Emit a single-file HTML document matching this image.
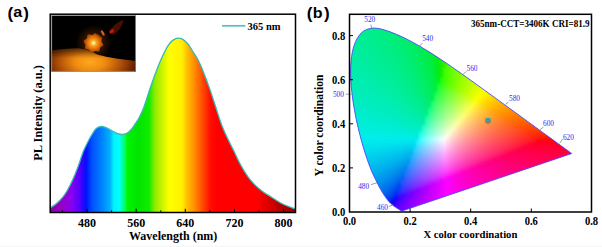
<!DOCTYPE html>
<html><head><meta charset="utf-8"><style>
html,body{margin:0;padding:0;background:#fff;width:602px;height:247px;overflow:hidden}
svg{display:block}
.lab{font-family:"Liberation Sans",sans-serif;font-weight:bold;font-size:16px;fill:#000}
.tk{font-family:"Liberation Serif",serif;font-weight:bold;font-size:12px;fill:#000}
.ax{font-family:"Liberation Serif",serif;font-weight:bold;font-size:12px;fill:#000}
.wl{font-family:"Liberation Serif",serif;font-size:7.3px;fill:#2c2cf0}
.ttl{font-family:"Liberation Serif",serif;font-weight:bold;font-size:10.5px;fill:#000}
</style></head><body>
<svg width="602" height="247" viewBox="0 0 602 247">
<defs>
<linearGradient id="spec" x1="50" y1="0" x2="295.5" y2="0" gradientUnits="userSpaceOnUse"><stop offset="0.0000" stop-color="#8a00a8"/><stop offset="0.0489" stop-color="#9800c8"/><stop offset="0.0896" stop-color="#8800f0"/><stop offset="0.1222" stop-color="#5000ff"/><stop offset="0.1466" stop-color="#0010ff"/><stop offset="0.1711" stop-color="#0050ff"/><stop offset="0.2037" stop-color="#0078ff"/><stop offset="0.2444" stop-color="#00b0ff"/><stop offset="0.2587" stop-color="#00f0ff"/><stop offset="0.2811" stop-color="#00ffff"/><stop offset="0.2933" stop-color="#00ffb0"/><stop offset="0.3055" stop-color="#00ff60"/><stop offset="0.3136" stop-color="#00f400"/><stop offset="0.3585" stop-color="#00e400"/><stop offset="0.4033" stop-color="#10ec00"/><stop offset="0.4277" stop-color="#90ec00"/><stop offset="0.4562" stop-color="#c8f400"/><stop offset="0.4847" stop-color="#ffff00"/><stop offset="0.5377" stop-color="#fff000"/><stop offset="0.5580" stop-color="#ffc000"/><stop offset="0.5866" stop-color="#ff9000"/><stop offset="0.6191" stop-color="#ff5000"/><stop offset="0.6517" stop-color="#ff1000"/><stop offset="0.6762" stop-color="#ff0000"/><stop offset="0.8473" stop-color="#ff0000"/><stop offset="0.8717" stop-color="#e80000"/><stop offset="0.9043" stop-color="#d00000"/><stop offset="0.9450" stop-color="#b00000"/><stop offset="1.0000" stop-color="#900000"/></linearGradient>
<filter id="bl" color-interpolation-filters="sRGB" x="-5%" y="-5%" width="110%" height="110%"><feGaussianBlur stdDeviation="0.9" color-interpolation-filters="sRGB"/></filter>
<clipPath id="cb"><path d="M402.17,210.90 C402.16,210.90 402.15,210.89 402.13,210.90 C402.12,210.90 402.09,210.92 402.07,210.92 C402.05,210.92 402.04,210.92 402.01,210.92 C401.99,210.92 401.95,210.94 401.92,210.94 C401.89,210.95 401.87,210.94 401.83,210.94 C401.80,210.94 401.76,210.94 401.71,210.94 C401.67,210.94 401.62,210.95 401.56,210.94 C401.50,210.93 401.44,210.91 401.35,210.88 C401.26,210.84 401.14,210.79 401.02,210.72 C400.89,210.65 400.76,210.58 400.59,210.48 C400.42,210.38 400.21,210.25 399.99,210.10 C399.76,209.96 399.52,209.79 399.23,209.60 C398.94,209.41 398.63,209.21 398.23,208.96 C397.84,208.71 397.38,208.42 396.87,208.10 C396.36,207.77 395.81,207.44 395.18,206.99 C394.54,206.55 393.84,206.08 393.06,205.45 C392.28,204.82 391.49,204.23 390.49,203.20 C389.49,202.17 388.35,200.98 387.04,199.26 C385.73,197.53 384.31,195.61 382.65,192.86 C381.00,190.11 379.18,186.93 377.12,182.74 C375.06,178.55 372.60,173.71 370.28,167.75 C367.97,161.78 365.51,154.74 363.23,146.95 C360.95,139.16 358.48,129.94 356.61,121.00 C354.73,112.05 352.97,102.18 351.98,93.28 C350.99,84.39 350.39,75.40 350.68,67.62 C350.97,59.83 351.94,52.36 353.70,46.58 C355.47,40.80 358.22,36.03 361.27,32.95 C364.31,29.88 368.18,28.67 371.98,28.15 C375.77,27.63 379.99,28.80 384.05,29.82 C388.10,30.85 392.33,32.66 396.30,34.30 C400.26,35.94 404.08,37.76 407.85,39.66 C411.63,41.55 415.28,43.57 418.95,45.68 C422.63,47.78 426.27,50.01 429.90,52.29 C433.53,54.57 437.13,56.94 440.73,59.35 C444.34,61.75 447.93,64.22 451.53,66.71 C455.14,69.20 458.76,71.75 462.36,74.30 C465.96,76.84 469.55,79.43 473.13,81.99 C476.71,84.56 480.31,87.14 483.84,89.69 C487.37,92.24 490.89,94.79 494.34,97.30 C497.79,99.80 501.20,102.29 504.53,104.70 C507.86,107.12 511.14,109.51 514.30,111.80 C517.46,114.10 520.57,116.34 523.50,118.46 C526.43,120.59 529.27,122.67 531.88,124.57 C534.49,126.47 536.88,128.21 539.17,129.86 C541.45,131.52 543.62,133.10 545.58,134.52 C547.54,135.93 549.30,137.19 550.90,138.35 C552.51,139.52 553.93,140.56 555.23,141.51 C556.53,142.45 557.65,143.27 558.68,144.02 C559.71,144.77 560.60,145.41 561.43,146.00 C562.26,146.60 562.96,147.12 563.64,147.61 C564.32,148.11 564.93,148.55 565.49,148.96 C566.04,149.37 566.54,149.73 567.00,150.06 C567.45,150.39 567.85,150.67 568.21,150.92 C568.56,151.18 568.76,151.33 569.12,151.58 C569.47,151.84 570.02,152.24 570.33,152.47 C570.63,152.69 570.76,152.78 570.93,152.91 C571.10,153.03 571.22,153.12 571.35,153.21 C571.49,153.31 571.68,153.45 571.75,153.50 Z"/></clipPath>
<radialGradient id="led" gradientUnits="userSpaceOnUse" cx="93.5" cy="43" r="10.8">
<stop offset="0" stop-color="#fffff0"/><stop offset="0.1" stop-color="#ffe888"/><stop offset="0.25" stop-color="#ffa828"/><stop offset="0.55" stop-color="#e07408"/><stop offset="0.85" stop-color="#a84400"/><stop offset="1" stop-color="#602000"/>
</radialGradient>
<radialGradient id="glow" gradientUnits="userSpaceOnUse" cx="93.5" cy="43" r="18">
<stop offset="0" stop-color="#602000"/><stop offset="0.6" stop-color="#281000"/><stop offset="1" stop-color="#000"/>
</radialGradient>
<radialGradient id="floor" gradientUnits="userSpaceOnUse" cx="90" cy="62" r="50" gradientTransform="translate(90 62) scale(1 0.55) translate(-90 -62)">
<stop offset="0" stop-color="#ffa820"/><stop offset="0.3" stop-color="#f08c10"/><stop offset="0.6" stop-color="#b45408"/><stop offset="0.85" stop-color="#742800"/><stop offset="1" stop-color="#461600"/>
</radialGradient>
<linearGradient id="fshade" gradientUnits="userSpaceOnUse" x1="0" y1="48" x2="0" y2="58">
<stop offset="0" stop-color="#000" stop-opacity="0.55"/><stop offset="1" stop-color="#000" stop-opacity="0"/>
</linearGradient>
</defs>
<text x="7.5" y="18.6" class="lab" style="font-size:17px">(</text><text x="13.3" y="17.3" class="lab" style="font-size:14px" textLength="9" lengthAdjust="spacingAndGlyphs">a</text><text x="23.3" y="18.6" class="lab" style="font-size:17px">)</text>
<text x="306.7" y="18.6" class="lab" style="font-size:17px">(</text><text x="312.8" y="17.9" class="lab" style="font-size:14.5px" textLength="9.8" lengthAdjust="spacingAndGlyphs">b</text><text x="323.9" y="18.6" class="lab" style="font-size:17px">)</text>

<!-- chart a -->
<path d="M50.00,208.00 C50.83,207.47 53.33,206.08 55.00,204.80 C56.67,203.52 58.32,202.10 60.00,200.30 C61.68,198.50 63.42,196.52 65.10,194.00 C66.78,191.48 68.42,188.55 70.10,185.20 C71.78,181.85 73.72,177.43 75.20,173.90 C76.68,170.37 77.65,167.73 79.00,164.00 C80.35,160.27 81.60,155.62 83.30,151.50 C85.00,147.38 87.75,142.13 89.20,139.30 C90.65,136.47 90.83,136.28 92.00,134.50 C93.17,132.72 94.68,129.93 96.20,128.60 C97.72,127.27 99.45,126.67 101.10,126.50 C102.75,126.33 104.30,126.88 106.10,127.60 C107.90,128.32 110.10,129.85 111.90,130.80 C113.70,131.75 115.23,132.68 116.90,133.30 C118.57,133.92 120.23,134.50 121.90,134.50 C123.57,134.50 125.23,134.27 126.90,133.30 C128.57,132.33 130.43,130.38 131.90,128.70 C133.37,127.02 134.55,124.93 135.70,123.20 C136.85,121.47 137.42,121.02 138.80,118.30 C140.18,115.58 141.87,112.62 144.00,106.90 C146.13,101.18 149.05,91.23 151.60,84.00 C154.15,76.77 157.02,69.08 159.30,63.50 C161.58,57.92 163.52,53.92 165.30,50.50 C167.08,47.08 168.55,44.82 170.00,43.00 C171.45,41.18 172.60,40.40 174.00,39.60 C175.40,38.80 176.88,38.20 178.40,38.20 C179.92,38.20 181.50,38.63 183.10,39.60 C184.70,40.57 186.38,42.02 188.00,44.00 C189.62,45.98 191.18,48.97 192.80,51.50 C194.42,54.03 195.98,55.92 197.70,59.20 C199.42,62.48 201.18,66.50 203.10,71.20 C205.02,75.90 207.17,81.65 209.20,87.40 C211.23,93.15 213.28,99.62 215.30,105.70 C217.32,111.78 219.28,118.50 221.30,123.90 C223.32,129.30 225.37,133.70 227.40,138.10 C229.43,142.50 231.40,146.02 233.50,150.30 C235.60,154.58 237.65,159.47 240.00,163.80 C242.35,168.13 245.08,172.75 247.60,176.30 C250.12,179.85 252.60,182.58 255.10,185.10 C257.60,187.62 260.10,189.52 262.60,191.40 C265.10,193.28 267.17,194.52 270.10,196.40 C273.03,198.28 276.85,200.90 280.20,202.70 C283.55,204.50 287.65,206.15 290.20,207.20 C292.75,208.25 294.62,208.70 295.50,209.00 L295.5,212.5 L50,212.5 Z" fill="url(#spec)"/>
<path d="M50.00,208.00 C50.83,207.47 53.33,206.08 55.00,204.80 C56.67,203.52 58.32,202.10 60.00,200.30 C61.68,198.50 63.42,196.52 65.10,194.00 C66.78,191.48 68.42,188.55 70.10,185.20 C71.78,181.85 73.72,177.43 75.20,173.90 C76.68,170.37 77.65,167.73 79.00,164.00 C80.35,160.27 81.60,155.62 83.30,151.50 C85.00,147.38 87.75,142.13 89.20,139.30 C90.65,136.47 90.83,136.28 92.00,134.50 C93.17,132.72 94.68,129.93 96.20,128.60 C97.72,127.27 99.45,126.67 101.10,126.50 C102.75,126.33 104.30,126.88 106.10,127.60 C107.90,128.32 110.10,129.85 111.90,130.80 C113.70,131.75 115.23,132.68 116.90,133.30 C118.57,133.92 120.23,134.50 121.90,134.50 C123.57,134.50 125.23,134.27 126.90,133.30 C128.57,132.33 130.43,130.38 131.90,128.70 C133.37,127.02 134.55,124.93 135.70,123.20 C136.85,121.47 137.42,121.02 138.80,118.30 C140.18,115.58 141.87,112.62 144.00,106.90 C146.13,101.18 149.05,91.23 151.60,84.00 C154.15,76.77 157.02,69.08 159.30,63.50 C161.58,57.92 163.52,53.92 165.30,50.50 C167.08,47.08 168.55,44.82 170.00,43.00 C171.45,41.18 172.60,40.40 174.00,39.60 C175.40,38.80 176.88,38.20 178.40,38.20 C179.92,38.20 181.50,38.63 183.10,39.60 C184.70,40.57 186.38,42.02 188.00,44.00 C189.62,45.98 191.18,48.97 192.80,51.50 C194.42,54.03 195.98,55.92 197.70,59.20 C199.42,62.48 201.18,66.50 203.10,71.20 C205.02,75.90 207.17,81.65 209.20,87.40 C211.23,93.15 213.28,99.62 215.30,105.70 C217.32,111.78 219.28,118.50 221.30,123.90 C223.32,129.30 225.37,133.70 227.40,138.10 C229.43,142.50 231.40,146.02 233.50,150.30 C235.60,154.58 237.65,159.47 240.00,163.80 C242.35,168.13 245.08,172.75 247.60,176.30 C250.12,179.85 252.60,182.58 255.10,185.10 C257.60,187.62 260.10,189.52 262.60,191.40 C265.10,193.28 267.17,194.52 270.10,196.40 C273.03,198.28 276.85,200.90 280.20,202.70 C283.55,204.50 287.65,206.15 290.20,207.20 C292.75,208.25 294.62,208.70 295.50,209.00" fill="none" stroke="#38b8b8" stroke-width="1.3"/>
<g>
<rect x="51.5" y="15.5" width="84.3" height="56" fill="#000"/>
<circle cx="93.5" cy="43" r="18" fill="url(#glow)"/>
<path d="M51.5,50.5 C60,49.5 70,48.4 78,48.6 C86,49.2 91,51.5 96,54 C103,56.6 115,58.6 135.8,61 L135.8,71.5 L51.5,71.5 Z" fill="url(#floor)"/>
<path d="M51.5,50.5 C60,49.5 70,48.4 78,48.6 C86,49.2 91,51.5 96,54 C103,56.6 115,58.6 135.8,61 L135.8,71.5 L51.5,71.5 Z" fill="url(#fshade)"/>
<path d="M95.55,32.91 C95.97,33.45 96.99,35.46 98.08,36.20 C99.17,36.93 101.51,36.44 102.08,37.31 C102.66,38.18 101.30,40.14 101.55,41.43 C101.80,42.72 103.80,44.02 103.59,45.05 C103.39,46.07 101.04,46.49 100.30,47.58 C99.57,48.67 100.06,51.01 99.19,51.58 C98.32,52.16 96.36,50.80 95.07,51.05 C93.78,51.30 92.48,53.30 91.45,53.09 C90.43,52.89 90.01,50.54 88.92,49.80 C87.83,49.07 85.49,49.56 84.92,48.69 C84.34,47.82 85.70,45.86 85.45,44.57 C85.20,43.28 83.20,41.98 83.41,40.95 C83.61,39.93 85.96,39.51 86.70,38.42 C87.43,37.33 86.94,34.99 87.81,34.42 C88.68,33.84 90.64,35.20 91.93,34.95 C93.22,34.70 94.52,32.70 95.55,32.91 C96.57,33.11 96.99,35.46 98.08,36.20 C99.17,36.93 101.42,37.12 102.08,37.31" fill="url(#led)"/>
<ellipse cx="102.8" cy="33" rx="3.2" ry="1.2" transform="rotate(58 102.8 33)" fill="#d06018"/>
<path d="M109,33.5 C110,28.5 116,22.5 123,20 C123,25 119,31 114,34.5 Z" fill="#4a0e00"/>
<ellipse cx="111.8" cy="31.2" rx="2.6" ry="1.7" transform="rotate(-35 111.8 31.2)" fill="#b81808"/>
<rect x="51.8" y="15.6" width="83.7" height="55.6" fill="none" stroke="#a8a8a8" stroke-width="0.6"/>
</g>
<rect x="50.2" y="14.2" width="245.3" height="198.3" fill="none" stroke="#000" stroke-width="1.5"/>
<line x1="222" y1="25.8" x2="245.3" y2="25.8" stroke="#50c0c0" stroke-width="1.7"/>
<text x="247.6" y="29.6" class="ttl" style="font-size:11.3px" textLength="33" lengthAdjust="spacingAndGlyphs">365 nm</text>
<g stroke="#000" stroke-width="1">
<line x1="87" y1="212" x2="87" y2="208.8"/><line x1="136.2" y1="212" x2="136.2" y2="208.8"/>
<line x1="185.3" y1="212" x2="185.3" y2="208.8"/><line x1="234.5" y1="212" x2="234.5" y2="208.8"/>
<line x1="283.6" y1="212" x2="283.6" y2="208.8"/>
<line x1="111.6" y1="212" x2="111.6" y2="210.3"/><line x1="160.8" y1="212" x2="160.8" y2="210.3"/>
<line x1="209.9" y1="212" x2="209.9" y2="210.3"/><line x1="259" y1="212" x2="259" y2="210.3"/>
<line x1="62.4" y1="212" x2="62.4" y2="210.3"/>
</g>
<text x="87" y="226.5" class="tk" text-anchor="middle">480</text>
<text x="136.2" y="226.5" class="tk" text-anchor="middle">560</text>
<text x="185.3" y="226.5" class="tk" text-anchor="middle">640</text>
<text x="234.5" y="226.5" class="tk" text-anchor="middle">720</text>
<text x="283.6" y="226.5" class="tk" text-anchor="middle">800</text>
<text x="173.2" y="240" class="ax" text-anchor="middle">Wavelength (nm)</text>
<text transform="translate(42.4,113) rotate(-90)" class="ax" text-anchor="middle" style="font-size:12.4px">PL Intensity (a.u.)</text>

<!-- chart b -->
<g clip-path="url(#cb)"><g filter="url(#bl)"><rect x="347" y="23" width="3" height="3" fill="#00ed96"/><rect x="350" y="23" width="3" height="3" fill="#00ed95"/><rect x="353" y="23" width="3" height="3" fill="#00ed93"/><rect x="356" y="23" width="3" height="3" fill="#00ed91"/><rect x="359" y="23" width="3" height="3" fill="#00ed8f"/><rect x="362" y="23" width="3" height="3" fill="#00ed8d"/><rect x="365" y="23" width="3" height="3" fill="#00ed8b"/><rect x="368" y="23" width="3" height="3" fill="#00ed89"/><rect x="371" y="23" width="3" height="3" fill="#00ed87"/><rect x="374" y="23" width="3" height="3" fill="#00ed85"/><rect x="377" y="23" width="3" height="3" fill="#00ed82"/><rect x="380" y="23" width="3" height="3" fill="#00ed80"/><rect x="383" y="23" width="3" height="3" fill="#00ed7d"/><rect x="386" y="23" width="3" height="3" fill="#00ed7a"/><rect x="389" y="23" width="3" height="3" fill="#00ed77"/><rect x="392" y="23" width="3" height="3" fill="#00ed74"/><rect x="395" y="23" width="3" height="3" fill="#00ed70"/><rect x="398" y="23" width="3" height="3" fill="#00ed6d"/><rect x="401" y="23" width="3" height="3" fill="#00ed69"/><rect x="404" y="23" width="3" height="3" fill="#00ed65"/><rect x="407" y="23" width="3" height="3" fill="#00ed60"/><rect x="410" y="23" width="3" height="3" fill="#00ed5b"/><rect x="413" y="23" width="3" height="3" fill="#00ed56"/><rect x="416" y="23" width="3" height="3" fill="#00ed50"/><rect x="419" y="23" width="3" height="3" fill="#00ed49"/><rect x="422" y="23" width="3" height="3" fill="#00ed42"/><rect x="425" y="23" width="3" height="3" fill="#00ed3a"/><rect x="428" y="23" width="3" height="3" fill="#00ed30"/><rect x="431" y="23" width="3" height="3" fill="#00ed23"/><rect x="434" y="23" width="3" height="3" fill="#00ed11"/><rect x="437" y="23" width="3" height="3" fill="#16ed00"/><rect x="440" y="23" width="3" height="3" fill="#27ed00"/><rect x="443" y="23" width="3" height="3" fill="#34ed00"/><rect x="446" y="23" width="3" height="3" fill="#3fed00"/><rect x="449" y="23" width="3" height="3" fill="#49ed00"/><rect x="452" y="23" width="3" height="3" fill="#52ed00"/><rect x="455" y="23" width="3" height="3" fill="#5aed00"/><rect x="458" y="23" width="3" height="3" fill="#62ed00"/><rect x="461" y="23" width="3" height="3" fill="#71ff00"/><rect x="464" y="23" width="3" height="3" fill="#79ff00"/><rect x="467" y="23" width="3" height="3" fill="#80ff00"/><rect x="470" y="23" width="3" height="3" fill="#87ff00"/><rect x="473" y="23" width="3" height="3" fill="#8dff00"/><rect x="476" y="23" width="3" height="3" fill="#94ff00"/><rect x="479" y="23" width="3" height="3" fill="#9aff00"/><rect x="482" y="23" width="3" height="3" fill="#a0ff00"/><rect x="485" y="23" width="3" height="3" fill="#a6ff00"/><rect x="488" y="23" width="3" height="3" fill="#acff00"/><rect x="491" y="23" width="3" height="3" fill="#b2ff00"/><rect x="494" y="23" width="3" height="3" fill="#b8ff00"/><rect x="497" y="23" width="3" height="3" fill="#bdff00"/><rect x="500" y="23" width="3" height="3" fill="#c2ff00"/><rect x="503" y="23" width="3" height="3" fill="#c8ff00"/><rect x="506" y="23" width="3" height="3" fill="#cdff00"/><rect x="509" y="23" width="3" height="3" fill="#d2ff00"/><rect x="512" y="23" width="3" height="3" fill="#d7ff00"/><rect x="515" y="23" width="3" height="3" fill="#dcff00"/><rect x="518" y="23" width="3" height="3" fill="#e0ff00"/><rect x="521" y="23" width="3" height="3" fill="#e5ff00"/><rect x="524" y="23" width="3" height="3" fill="#eaff00"/><rect x="527" y="23" width="3" height="3" fill="#efff00"/><rect x="530" y="23" width="3" height="3" fill="#f3ff00"/><rect x="533" y="23" width="3" height="3" fill="#f8ff00"/><rect x="536" y="23" width="3" height="3" fill="#fcff00"/><rect x="539" y="23" width="3" height="3" fill="#fffe00"/><rect x="542" y="23" width="3" height="3" fill="#fff900"/><rect x="545" y="23" width="3" height="3" fill="#fff500"/><rect x="548" y="23" width="3" height="3" fill="#fff100"/><rect x="551" y="23" width="3" height="3" fill="#ffee00"/><rect x="554" y="23" width="3" height="3" fill="#ffea00"/><rect x="557" y="23" width="3" height="3" fill="#ffe700"/><rect x="560" y="23" width="3" height="3" fill="#ffe300"/><rect x="563" y="23" width="3" height="3" fill="#ffe000"/><rect x="566" y="23" width="3" height="3" fill="#ffdd00"/><rect x="569" y="23" width="3" height="3" fill="#ffda00"/><rect x="572" y="23" width="3" height="3" fill="#ffd700"/><rect x="575" y="23" width="3" height="3" fill="#ffd500"/><rect x="347" y="26" width="3" height="3" fill="#00ed98"/><rect x="350" y="26" width="3" height="3" fill="#00ed96"/><rect x="353" y="26" width="3" height="3" fill="#00ed94"/><rect x="356" y="26" width="3" height="3" fill="#00ed93"/><rect x="359" y="26" width="3" height="3" fill="#00ed91"/><rect x="362" y="26" width="3" height="3" fill="#00ed8f"/><rect x="365" y="26" width="3" height="3" fill="#00ed8d"/><rect x="368" y="26" width="3" height="3" fill="#00ed8b"/><rect x="371" y="26" width="3" height="3" fill="#00ed88"/><rect x="374" y="26" width="3" height="3" fill="#00ed86"/><rect x="377" y="26" width="3" height="3" fill="#00ed84"/><rect x="380" y="26" width="3" height="3" fill="#00ed81"/><rect x="383" y="26" width="3" height="3" fill="#00ed7e"/><rect x="386" y="26" width="3" height="3" fill="#00ed7b"/><rect x="389" y="26" width="3" height="3" fill="#00ed78"/><rect x="392" y="26" width="3" height="3" fill="#00ed75"/><rect x="395" y="26" width="3" height="3" fill="#00ed72"/><rect x="398" y="26" width="3" height="3" fill="#00ed6e"/><rect x="401" y="26" width="3" height="3" fill="#00ed6a"/><rect x="404" y="26" width="3" height="3" fill="#00ed66"/><rect x="407" y="26" width="3" height="3" fill="#00ed61"/><rect x="410" y="26" width="3" height="3" fill="#00ed5d"/><rect x="413" y="26" width="3" height="3" fill="#00ed57"/><rect x="416" y="26" width="3" height="3" fill="#00ed51"/><rect x="419" y="26" width="3" height="3" fill="#00ed4b"/><rect x="422" y="26" width="3" height="3" fill="#00ed43"/><rect x="425" y="26" width="3" height="3" fill="#00ed3b"/><rect x="428" y="26" width="3" height="3" fill="#00ed31"/><rect x="431" y="26" width="3" height="3" fill="#00ed25"/><rect x="434" y="26" width="3" height="3" fill="#00ed13"/><rect x="437" y="26" width="3" height="3" fill="#15ed00"/><rect x="440" y="26" width="3" height="3" fill="#27ed00"/><rect x="443" y="26" width="3" height="3" fill="#34ed00"/><rect x="446" y="26" width="3" height="3" fill="#3fed00"/><rect x="449" y="26" width="3" height="3" fill="#49ed00"/><rect x="452" y="26" width="3" height="3" fill="#52ed00"/><rect x="455" y="26" width="3" height="3" fill="#5bed00"/><rect x="458" y="26" width="3" height="3" fill="#63ed00"/><rect x="461" y="26" width="3" height="3" fill="#72ff00"/><rect x="464" y="26" width="3" height="3" fill="#7aff00"/><rect x="467" y="26" width="3" height="3" fill="#81ff00"/><rect x="470" y="26" width="3" height="3" fill="#88ff00"/><rect x="473" y="26" width="3" height="3" fill="#8fff00"/><rect x="476" y="26" width="3" height="3" fill="#96ff00"/><rect x="479" y="26" width="3" height="3" fill="#9cff00"/><rect x="482" y="26" width="3" height="3" fill="#a3ff00"/><rect x="485" y="26" width="3" height="3" fill="#a9ff00"/><rect x="488" y="26" width="3" height="3" fill="#afff00"/><rect x="491" y="26" width="3" height="3" fill="#b4ff00"/><rect x="494" y="26" width="3" height="3" fill="#baff00"/><rect x="497" y="26" width="3" height="3" fill="#c0ff00"/><rect x="500" y="26" width="3" height="3" fill="#c5ff00"/><rect x="503" y="26" width="3" height="3" fill="#caff00"/><rect x="506" y="26" width="3" height="3" fill="#d0ff00"/><rect x="509" y="26" width="3" height="3" fill="#d5ff00"/><rect x="512" y="26" width="3" height="3" fill="#daff00"/><rect x="515" y="26" width="3" height="3" fill="#dfff00"/><rect x="518" y="26" width="3" height="3" fill="#e4ff00"/><rect x="521" y="26" width="3" height="3" fill="#e9ff00"/><rect x="524" y="26" width="3" height="3" fill="#edff00"/><rect x="527" y="26" width="3" height="3" fill="#f2ff00"/><rect x="530" y="26" width="3" height="3" fill="#f7ff00"/><rect x="533" y="26" width="3" height="3" fill="#fbff00"/><rect x="536" y="26" width="3" height="3" fill="#fffe00"/><rect x="539" y="26" width="3" height="3" fill="#fffa00"/><rect x="542" y="26" width="3" height="3" fill="#fff600"/><rect x="545" y="26" width="3" height="3" fill="#fff200"/><rect x="548" y="26" width="3" height="3" fill="#ffee00"/><rect x="551" y="26" width="3" height="3" fill="#ffea00"/><rect x="554" y="26" width="3" height="3" fill="#ffe700"/><rect x="557" y="26" width="3" height="3" fill="#ffe300"/><rect x="560" y="26" width="3" height="3" fill="#ffe000"/><rect x="563" y="26" width="3" height="3" fill="#ffdd00"/><rect x="566" y="26" width="3" height="3" fill="#ffda00"/><rect x="569" y="26" width="3" height="3" fill="#ffd700"/><rect x="572" y="26" width="3" height="3" fill="#ffd400"/><rect x="575" y="26" width="3" height="3" fill="#ffd200"/><rect x="347" y="29" width="3" height="3" fill="#00ed99"/><rect x="350" y="29" width="3" height="3" fill="#00ed97"/><rect x="353" y="29" width="3" height="3" fill="#00ed96"/><rect x="356" y="29" width="3" height="3" fill="#00ed94"/><rect x="359" y="29" width="3" height="3" fill="#00ed92"/><rect x="362" y="29" width="3" height="3" fill="#00ed90"/><rect x="365" y="29" width="3" height="3" fill="#00ed8e"/><rect x="368" y="29" width="3" height="3" fill="#00ed8c"/><rect x="371" y="29" width="3" height="3" fill="#00ed8a"/><rect x="374" y="29" width="3" height="3" fill="#00ed88"/><rect x="377" y="29" width="3" height="3" fill="#00ed85"/><rect x="380" y="29" width="3" height="3" fill="#00ed83"/><rect x="383" y="29" width="3" height="3" fill="#00ed80"/><rect x="386" y="29" width="3" height="3" fill="#00ed7d"/><rect x="389" y="29" width="3" height="3" fill="#00ed7a"/><rect x="392" y="29" width="3" height="3" fill="#00ed77"/><rect x="395" y="29" width="3" height="3" fill="#00ed73"/><rect x="398" y="29" width="3" height="3" fill="#00ed70"/><rect x="401" y="29" width="3" height="3" fill="#00ed6c"/><rect x="404" y="29" width="3" height="3" fill="#00ed68"/><rect x="407" y="29" width="3" height="3" fill="#00ed63"/><rect x="410" y="29" width="3" height="3" fill="#00ed5e"/><rect x="413" y="29" width="3" height="3" fill="#00ed59"/><rect x="416" y="29" width="3" height="3" fill="#00ed53"/><rect x="419" y="29" width="3" height="3" fill="#00ed4c"/><rect x="422" y="29" width="3" height="3" fill="#00ed45"/><rect x="425" y="29" width="3" height="3" fill="#00ed3c"/><rect x="428" y="29" width="3" height="3" fill="#00ed32"/><rect x="431" y="29" width="3" height="3" fill="#00ed26"/><rect x="434" y="29" width="3" height="3" fill="#00ed15"/><rect x="437" y="29" width="3" height="3" fill="#14ed00"/><rect x="440" y="29" width="3" height="3" fill="#26ed00"/><rect x="443" y="29" width="3" height="3" fill="#34ed00"/><rect x="446" y="29" width="3" height="3" fill="#40ed00"/><rect x="449" y="29" width="3" height="3" fill="#4aed00"/><rect x="452" y="29" width="3" height="3" fill="#53ed00"/><rect x="455" y="29" width="3" height="3" fill="#5ced00"/><rect x="458" y="29" width="3" height="3" fill="#6bff00"/><rect x="461" y="29" width="3" height="3" fill="#74ff00"/><rect x="464" y="29" width="3" height="3" fill="#7bff00"/><rect x="467" y="29" width="3" height="3" fill="#83ff00"/><rect x="470" y="29" width="3" height="3" fill="#8aff00"/><rect x="473" y="29" width="3" height="3" fill="#91ff00"/><rect x="476" y="29" width="3" height="3" fill="#98ff00"/><rect x="479" y="29" width="3" height="3" fill="#9eff00"/><rect x="482" y="29" width="3" height="3" fill="#a5ff00"/><rect x="485" y="29" width="3" height="3" fill="#abff00"/><rect x="488" y="29" width="3" height="3" fill="#b1ff00"/><rect x="491" y="29" width="3" height="3" fill="#b7ff00"/><rect x="494" y="29" width="3" height="3" fill="#bdff00"/><rect x="497" y="29" width="3" height="3" fill="#c2ff00"/><rect x="500" y="29" width="3" height="3" fill="#c8ff00"/><rect x="503" y="29" width="3" height="3" fill="#cdff00"/><rect x="506" y="29" width="3" height="3" fill="#d3ff00"/><rect x="509" y="29" width="3" height="3" fill="#d8ff00"/><rect x="512" y="29" width="3" height="3" fill="#ddff00"/><rect x="515" y="29" width="3" height="3" fill="#e2ff00"/><rect x="518" y="29" width="3" height="3" fill="#e7ff00"/><rect x="521" y="29" width="3" height="3" fill="#ecff00"/><rect x="524" y="29" width="3" height="3" fill="#f1ff00"/><rect x="527" y="29" width="3" height="3" fill="#f6ff00"/><rect x="530" y="29" width="3" height="3" fill="#faff00"/><rect x="533" y="29" width="3" height="3" fill="#ffff00"/><rect x="536" y="29" width="3" height="3" fill="#fffa00"/><rect x="539" y="29" width="3" height="3" fill="#fff600"/><rect x="542" y="29" width="3" height="3" fill="#fff200"/><rect x="545" y="29" width="3" height="3" fill="#ffee00"/><rect x="548" y="29" width="3" height="3" fill="#ffea00"/><rect x="551" y="29" width="3" height="3" fill="#ffe700"/><rect x="554" y="29" width="3" height="3" fill="#ffe300"/><rect x="557" y="29" width="3" height="3" fill="#ffe000"/><rect x="560" y="29" width="3" height="3" fill="#ffdd00"/><rect x="563" y="29" width="3" height="3" fill="#ffda00"/><rect x="566" y="29" width="3" height="3" fill="#ffd700"/><rect x="569" y="29" width="3" height="3" fill="#ffd400"/><rect x="572" y="29" width="3" height="3" fill="#ffd100"/><rect x="575" y="29" width="3" height="3" fill="#ffce00"/><rect x="347" y="32" width="3" height="3" fill="#00ed9b"/><rect x="350" y="32" width="3" height="3" fill="#00ed99"/><rect x="353" y="32" width="3" height="3" fill="#00ed97"/><rect x="356" y="32" width="3" height="3" fill="#00ed95"/><rect x="359" y="32" width="3" height="3" fill="#00ed94"/><rect x="362" y="32" width="3" height="3" fill="#00ed92"/><rect x="365" y="32" width="3" height="3" fill="#00ed90"/><rect x="368" y="32" width="3" height="3" fill="#00ed8e"/><rect x="371" y="32" width="3" height="3" fill="#00ed8b"/><rect x="374" y="32" width="3" height="3" fill="#00ed89"/><rect x="377" y="32" width="3" height="3" fill="#00ed87"/><rect x="380" y="32" width="3" height="3" fill="#00ed84"/><rect x="383" y="32" width="3" height="3" fill="#00ed81"/><rect x="386" y="32" width="3" height="3" fill="#00ed7f"/><rect x="389" y="32" width="3" height="3" fill="#00ed7c"/><rect x="392" y="32" width="3" height="3" fill="#00ed78"/><rect x="395" y="32" width="3" height="3" fill="#00ed75"/><rect x="398" y="32" width="3" height="3" fill="#00ed71"/><rect x="401" y="32" width="3" height="3" fill="#00ed6d"/><rect x="404" y="32" width="3" height="3" fill="#00ed69"/><rect x="407" y="32" width="3" height="3" fill="#00ed65"/><rect x="410" y="32" width="3" height="3" fill="#00ed60"/><rect x="413" y="32" width="3" height="3" fill="#00ed5a"/><rect x="416" y="32" width="3" height="3" fill="#00ed54"/><rect x="419" y="32" width="3" height="3" fill="#00ed4e"/><rect x="422" y="32" width="3" height="3" fill="#00ed46"/><rect x="425" y="32" width="3" height="3" fill="#00ed3e"/><rect x="428" y="32" width="3" height="3" fill="#00ed34"/><rect x="431" y="32" width="3" height="3" fill="#00ed28"/><rect x="434" y="32" width="3" height="3" fill="#00ed17"/><rect x="437" y="32" width="3" height="3" fill="#12ed00"/><rect x="440" y="32" width="3" height="3" fill="#26ed00"/><rect x="443" y="32" width="3" height="3" fill="#34ed00"/><rect x="446" y="32" width="3" height="3" fill="#40ed00"/><rect x="449" y="32" width="3" height="3" fill="#4aed00"/><rect x="452" y="32" width="3" height="3" fill="#54ed00"/><rect x="455" y="32" width="3" height="3" fill="#5ded00"/><rect x="458" y="32" width="3" height="3" fill="#6dff00"/><rect x="461" y="32" width="3" height="3" fill="#75ff00"/><rect x="464" y="32" width="3" height="3" fill="#7dff00"/><rect x="467" y="32" width="3" height="3" fill="#85ff00"/><rect x="470" y="32" width="3" height="3" fill="#8cff00"/><rect x="473" y="32" width="3" height="3" fill="#93ff00"/><rect x="476" y="32" width="3" height="3" fill="#9aff00"/><rect x="479" y="32" width="3" height="3" fill="#a1ff00"/><rect x="482" y="32" width="3" height="3" fill="#a7ff00"/><rect x="485" y="32" width="3" height="3" fill="#adff00"/><rect x="488" y="32" width="3" height="3" fill="#b4ff00"/><rect x="491" y="32" width="3" height="3" fill="#baff00"/><rect x="494" y="32" width="3" height="3" fill="#bfff00"/><rect x="497" y="32" width="3" height="3" fill="#c5ff00"/><rect x="500" y="32" width="3" height="3" fill="#cbff00"/><rect x="503" y="32" width="3" height="3" fill="#d0ff00"/><rect x="506" y="32" width="3" height="3" fill="#d6ff00"/><rect x="509" y="32" width="3" height="3" fill="#dbff00"/><rect x="512" y="32" width="3" height="3" fill="#e0ff00"/><rect x="515" y="32" width="3" height="3" fill="#e5ff00"/><rect x="518" y="32" width="3" height="3" fill="#ebff00"/><rect x="521" y="32" width="3" height="3" fill="#f0ff00"/><rect x="524" y="32" width="3" height="3" fill="#f5ff00"/><rect x="527" y="32" width="3" height="3" fill="#f9ff00"/><rect x="530" y="32" width="3" height="3" fill="#feff00"/><rect x="533" y="32" width="3" height="3" fill="#fffb00"/><rect x="536" y="32" width="3" height="3" fill="#fff700"/><rect x="539" y="32" width="3" height="3" fill="#fff200"/><rect x="542" y="32" width="3" height="3" fill="#ffee00"/><rect x="545" y="32" width="3" height="3" fill="#ffea00"/><rect x="548" y="32" width="3" height="3" fill="#ffe700"/><rect x="551" y="32" width="3" height="3" fill="#ffe300"/><rect x="554" y="32" width="3" height="3" fill="#ffe000"/><rect x="557" y="32" width="3" height="3" fill="#ffdd00"/><rect x="560" y="32" width="3" height="3" fill="#ffd900"/><rect x="563" y="32" width="3" height="3" fill="#ffd600"/><rect x="566" y="32" width="3" height="3" fill="#ffd300"/><rect x="569" y="32" width="3" height="3" fill="#ffd100"/><rect x="572" y="32" width="3" height="3" fill="#ffce00"/><rect x="575" y="32" width="3" height="3" fill="#ffcb00"/><rect x="347" y="35" width="3" height="3" fill="#00ed9c"/><rect x="350" y="35" width="3" height="3" fill="#00ed9a"/><rect x="353" y="35" width="3" height="3" fill="#00ed99"/><rect x="356" y="35" width="3" height="3" fill="#00ed97"/><rect x="359" y="35" width="3" height="3" fill="#00ed95"/><rect x="362" y="35" width="3" height="3" fill="#00ed93"/><rect x="365" y="35" width="3" height="3" fill="#00ed91"/><rect x="368" y="35" width="3" height="3" fill="#00ed8f"/><rect x="371" y="35" width="3" height="3" fill="#00ed8d"/><rect x="374" y="35" width="3" height="3" fill="#00ed8b"/><rect x="377" y="35" width="3" height="3" fill="#00ed88"/><rect x="380" y="35" width="3" height="3" fill="#00ed86"/><rect x="383" y="35" width="3" height="3" fill="#00ed83"/><rect x="386" y="35" width="3" height="3" fill="#00ed80"/><rect x="389" y="35" width="3" height="3" fill="#00ed7d"/><rect x="392" y="35" width="3" height="3" fill="#00ed7a"/><rect x="395" y="35" width="3" height="3" fill="#00ed76"/><rect x="398" y="35" width="3" height="3" fill="#00ed73"/><rect x="401" y="35" width="3" height="3" fill="#00ed6f"/><rect x="404" y="35" width="3" height="3" fill="#00ed6b"/><rect x="407" y="35" width="3" height="3" fill="#00ed66"/><rect x="410" y="35" width="3" height="3" fill="#00ed61"/><rect x="413" y="35" width="3" height="3" fill="#00ed5c"/><rect x="416" y="35" width="3" height="3" fill="#00ed56"/><rect x="419" y="35" width="3" height="3" fill="#00ed4f"/><rect x="422" y="35" width="3" height="3" fill="#00ed48"/><rect x="425" y="35" width="3" height="3" fill="#00ed3f"/><rect x="428" y="35" width="3" height="3" fill="#00ed35"/><rect x="431" y="35" width="3" height="3" fill="#00ed29"/><rect x="434" y="35" width="3" height="3" fill="#00ed18"/><rect x="437" y="35" width="3" height="3" fill="#11ed00"/><rect x="440" y="35" width="3" height="3" fill="#26ed00"/><rect x="443" y="35" width="3" height="3" fill="#34ed00"/><rect x="446" y="35" width="3" height="3" fill="#40ed00"/><rect x="449" y="35" width="3" height="3" fill="#4bed00"/><rect x="452" y="35" width="3" height="3" fill="#55ed00"/><rect x="455" y="35" width="3" height="3" fill="#5eed00"/><rect x="458" y="35" width="3" height="3" fill="#6eff00"/><rect x="461" y="35" width="3" height="3" fill="#76ff00"/><rect x="464" y="35" width="3" height="3" fill="#7fff00"/><rect x="467" y="35" width="3" height="3" fill="#86ff00"/><rect x="470" y="35" width="3" height="3" fill="#8eff00"/><rect x="473" y="35" width="3" height="3" fill="#95ff00"/><rect x="476" y="35" width="3" height="3" fill="#9cff00"/><rect x="479" y="35" width="3" height="3" fill="#a3ff00"/><rect x="482" y="35" width="3" height="3" fill="#aaff00"/><rect x="485" y="35" width="3" height="3" fill="#b0ff00"/><rect x="488" y="35" width="3" height="3" fill="#b6ff00"/><rect x="491" y="35" width="3" height="3" fill="#bcff00"/><rect x="494" y="35" width="3" height="3" fill="#c2ff00"/><rect x="497" y="35" width="3" height="3" fill="#c8ff00"/><rect x="500" y="35" width="3" height="3" fill="#ceff00"/><rect x="503" y="35" width="3" height="3" fill="#d4ff00"/><rect x="506" y="35" width="3" height="3" fill="#d9ff00"/><rect x="509" y="35" width="3" height="3" fill="#deff00"/><rect x="512" y="35" width="3" height="3" fill="#e4ff00"/><rect x="515" y="35" width="3" height="3" fill="#e9ff00"/><rect x="518" y="35" width="3" height="3" fill="#eeff00"/><rect x="521" y="35" width="3" height="3" fill="#f3ff00"/><rect x="524" y="35" width="3" height="3" fill="#f8ff00"/><rect x="527" y="35" width="3" height="3" fill="#fdff00"/><rect x="530" y="35" width="3" height="3" fill="#fffc00"/><rect x="533" y="35" width="3" height="3" fill="#fff700"/><rect x="536" y="35" width="3" height="3" fill="#fff300"/><rect x="539" y="35" width="3" height="3" fill="#ffef00"/><rect x="542" y="35" width="3" height="3" fill="#ffeb00"/><rect x="545" y="35" width="3" height="3" fill="#ffe700"/><rect x="548" y="35" width="3" height="3" fill="#ffe300"/><rect x="551" y="35" width="3" height="3" fill="#ffe000"/><rect x="554" y="35" width="3" height="3" fill="#ffdc00"/><rect x="557" y="35" width="3" height="3" fill="#ffd900"/><rect x="560" y="35" width="3" height="3" fill="#ffd600"/><rect x="563" y="35" width="3" height="3" fill="#ffd300"/><rect x="566" y="35" width="3" height="3" fill="#ffd000"/><rect x="569" y="35" width="3" height="3" fill="#ffcd00"/><rect x="572" y="35" width="3" height="3" fill="#ffcb00"/><rect x="575" y="35" width="3" height="3" fill="#ffc800"/><rect x="347" y="38" width="3" height="3" fill="#00ed9d"/><rect x="350" y="38" width="3" height="3" fill="#00ed9c"/><rect x="353" y="38" width="3" height="3" fill="#00ed9a"/><rect x="356" y="38" width="3" height="3" fill="#00ed98"/><rect x="359" y="38" width="3" height="3" fill="#00ed97"/><rect x="362" y="38" width="3" height="3" fill="#00ed95"/><rect x="365" y="38" width="3" height="3" fill="#00ed93"/><rect x="368" y="38" width="3" height="3" fill="#00ed91"/><rect x="371" y="38" width="3" height="3" fill="#00ed8f"/><rect x="374" y="38" width="3" height="3" fill="#00ed8c"/><rect x="377" y="38" width="3" height="3" fill="#00ed8a"/><rect x="380" y="38" width="3" height="3" fill="#00ed87"/><rect x="383" y="38" width="3" height="3" fill="#00ed85"/><rect x="386" y="38" width="3" height="3" fill="#00ed82"/><rect x="389" y="38" width="3" height="3" fill="#00ed7f"/><rect x="392" y="38" width="3" height="3" fill="#00ed7c"/><rect x="395" y="38" width="3" height="3" fill="#00ed78"/><rect x="398" y="38" width="3" height="3" fill="#00ed74"/><rect x="401" y="38" width="3" height="3" fill="#00ed71"/><rect x="404" y="38" width="3" height="3" fill="#00ed6c"/><rect x="407" y="38" width="3" height="3" fill="#00ed68"/><rect x="410" y="38" width="3" height="3" fill="#00ed63"/><rect x="413" y="38" width="3" height="3" fill="#00ed5d"/><rect x="416" y="38" width="3" height="3" fill="#00ed58"/><rect x="419" y="38" width="3" height="3" fill="#00ed51"/><rect x="422" y="38" width="3" height="3" fill="#00ed4a"/><rect x="425" y="38" width="3" height="3" fill="#00ed41"/><rect x="428" y="38" width="3" height="3" fill="#00ed37"/><rect x="431" y="38" width="3" height="3" fill="#00ed2b"/><rect x="434" y="38" width="3" height="3" fill="#00ed1a"/><rect x="437" y="38" width="3" height="3" fill="#0fed00"/><rect x="440" y="38" width="3" height="3" fill="#25ed00"/><rect x="443" y="38" width="3" height="3" fill="#34ed00"/><rect x="446" y="38" width="3" height="3" fill="#41ed00"/><rect x="449" y="38" width="3" height="3" fill="#4ced00"/><rect x="452" y="38" width="3" height="3" fill="#56ed00"/><rect x="455" y="38" width="3" height="3" fill="#66ff00"/><rect x="458" y="38" width="3" height="3" fill="#6fff00"/><rect x="461" y="38" width="3" height="3" fill="#78ff00"/><rect x="464" y="38" width="3" height="3" fill="#80ff00"/><rect x="467" y="38" width="3" height="3" fill="#88ff00"/><rect x="470" y="38" width="3" height="3" fill="#90ff00"/><rect x="473" y="38" width="3" height="3" fill="#97ff00"/><rect x="476" y="38" width="3" height="3" fill="#9eff00"/><rect x="479" y="38" width="3" height="3" fill="#a5ff00"/><rect x="482" y="38" width="3" height="3" fill="#acff00"/><rect x="485" y="38" width="3" height="3" fill="#b3ff00"/><rect x="488" y="38" width="3" height="3" fill="#b9ff00"/><rect x="491" y="38" width="3" height="3" fill="#bfff00"/><rect x="494" y="38" width="3" height="3" fill="#c5ff00"/><rect x="497" y="38" width="3" height="3" fill="#cbff00"/><rect x="500" y="38" width="3" height="3" fill="#d1ff00"/><rect x="503" y="38" width="3" height="3" fill="#d7ff00"/><rect x="506" y="38" width="3" height="3" fill="#dcff00"/><rect x="509" y="38" width="3" height="3" fill="#e2ff00"/><rect x="512" y="38" width="3" height="3" fill="#e7ff00"/><rect x="515" y="38" width="3" height="3" fill="#edff00"/><rect x="518" y="38" width="3" height="3" fill="#f2ff00"/><rect x="521" y="38" width="3" height="3" fill="#f7ff00"/><rect x="524" y="38" width="3" height="3" fill="#fcff00"/><rect x="527" y="38" width="3" height="3" fill="#fffd00"/><rect x="530" y="38" width="3" height="3" fill="#fff800"/><rect x="533" y="38" width="3" height="3" fill="#fff300"/><rect x="536" y="38" width="3" height="3" fill="#ffef00"/><rect x="539" y="38" width="3" height="3" fill="#ffeb00"/><rect x="542" y="38" width="3" height="3" fill="#ffe700"/><rect x="545" y="38" width="3" height="3" fill="#ffe300"/><rect x="548" y="38" width="3" height="3" fill="#ffdf00"/><rect x="551" y="38" width="3" height="3" fill="#ffdc00"/><rect x="554" y="38" width="3" height="3" fill="#ffd900"/><rect x="557" y="38" width="3" height="3" fill="#ffd500"/><rect x="560" y="38" width="3" height="3" fill="#ffd200"/><rect x="563" y="38" width="3" height="3" fill="#ffcf00"/><rect x="566" y="38" width="3" height="3" fill="#ffcd00"/><rect x="569" y="38" width="3" height="3" fill="#ffca00"/><rect x="572" y="38" width="3" height="3" fill="#ffc700"/><rect x="575" y="38" width="3" height="3" fill="#ffc500"/><rect x="347" y="41" width="3" height="3" fill="#00ed9f"/><rect x="350" y="41" width="3" height="3" fill="#00ed9d"/><rect x="353" y="41" width="3" height="3" fill="#00ed9c"/><rect x="356" y="41" width="3" height="3" fill="#00ed9a"/><rect x="359" y="41" width="3" height="3" fill="#00ed98"/><rect x="362" y="41" width="3" height="3" fill="#00ed96"/><rect x="365" y="41" width="3" height="3" fill="#00ed94"/><rect x="368" y="41" width="3" height="3" fill="#00ed92"/><rect x="371" y="41" width="3" height="3" fill="#00ed90"/><rect x="374" y="41" width="3" height="3" fill="#00ed8e"/><rect x="377" y="41" width="3" height="3" fill="#00ed8b"/><rect x="380" y="41" width="3" height="3" fill="#00ed89"/><rect x="383" y="41" width="3" height="3" fill="#00ed86"/><rect x="386" y="41" width="3" height="3" fill="#00ed83"/><rect x="389" y="41" width="3" height="3" fill="#00ed80"/><rect x="392" y="41" width="3" height="3" fill="#00ed7d"/><rect x="395" y="41" width="3" height="3" fill="#00ed7a"/><rect x="398" y="41" width="3" height="3" fill="#00ed76"/><rect x="401" y="41" width="3" height="3" fill="#00ed72"/><rect x="404" y="41" width="3" height="3" fill="#00ed6e"/><rect x="407" y="41" width="3" height="3" fill="#00ed6a"/><rect x="410" y="41" width="3" height="3" fill="#00ed65"/><rect x="413" y="41" width="3" height="3" fill="#00ed5f"/><rect x="416" y="41" width="3" height="3" fill="#00ed59"/><rect x="419" y="41" width="3" height="3" fill="#00ed53"/><rect x="422" y="41" width="3" height="3" fill="#00ed4b"/><rect x="425" y="41" width="3" height="3" fill="#00ed43"/><rect x="428" y="41" width="3" height="3" fill="#00ed39"/><rect x="431" y="41" width="3" height="3" fill="#00ed2c"/><rect x="434" y="41" width="3" height="3" fill="#00ed1c"/><rect x="437" y="41" width="3" height="3" fill="#0ded00"/><rect x="440" y="41" width="3" height="3" fill="#25ed00"/><rect x="443" y="41" width="3" height="3" fill="#34ed00"/><rect x="446" y="41" width="3" height="3" fill="#41ed00"/><rect x="449" y="41" width="3" height="3" fill="#4ced00"/><rect x="452" y="41" width="3" height="3" fill="#57ed00"/><rect x="455" y="41" width="3" height="3" fill="#67ff00"/><rect x="458" y="41" width="3" height="3" fill="#71ff00"/><rect x="461" y="41" width="3" height="3" fill="#7aff00"/><rect x="464" y="41" width="3" height="3" fill="#82ff00"/><rect x="467" y="41" width="3" height="3" fill="#8aff00"/><rect x="470" y="41" width="3" height="3" fill="#92ff00"/><rect x="473" y="41" width="3" height="3" fill="#9aff00"/><rect x="476" y="41" width="3" height="3" fill="#a1ff00"/><rect x="479" y="41" width="3" height="3" fill="#a8ff00"/><rect x="482" y="41" width="3" height="3" fill="#afff00"/><rect x="485" y="41" width="3" height="3" fill="#b5ff00"/><rect x="488" y="41" width="3" height="3" fill="#bcff00"/><rect x="491" y="41" width="3" height="3" fill="#c2ff00"/><rect x="494" y="41" width="3" height="3" fill="#c8ff00"/><rect x="497" y="41" width="3" height="3" fill="#cfff00"/><rect x="500" y="41" width="3" height="3" fill="#d5ff00"/><rect x="503" y="41" width="3" height="3" fill="#daff00"/><rect x="506" y="41" width="3" height="3" fill="#e0ff00"/><rect x="509" y="41" width="3" height="3" fill="#e6ff00"/><rect x="512" y="41" width="3" height="3" fill="#ebff00"/><rect x="515" y="41" width="3" height="3" fill="#f1ff00"/><rect x="518" y="41" width="3" height="3" fill="#f6ff00"/><rect x="521" y="41" width="3" height="3" fill="#fbff00"/><rect x="524" y="41" width="3" height="3" fill="#fffd00"/><rect x="527" y="41" width="3" height="3" fill="#fff800"/><rect x="530" y="41" width="3" height="3" fill="#fff400"/><rect x="533" y="41" width="3" height="3" fill="#ffef00"/><rect x="536" y="41" width="3" height="3" fill="#ffeb00"/><rect x="539" y="41" width="3" height="3" fill="#ffe700"/><rect x="542" y="41" width="3" height="3" fill="#ffe300"/><rect x="545" y="41" width="3" height="3" fill="#ffdf00"/><rect x="548" y="41" width="3" height="3" fill="#ffdc00"/><rect x="551" y="41" width="3" height="3" fill="#ffd800"/><rect x="554" y="41" width="3" height="3" fill="#ffd500"/><rect x="557" y="41" width="3" height="3" fill="#ffd200"/><rect x="560" y="41" width="3" height="3" fill="#ffcf00"/><rect x="563" y="41" width="3" height="3" fill="#ffcc00"/><rect x="566" y="41" width="3" height="3" fill="#ffc900"/><rect x="569" y="41" width="3" height="3" fill="#ffc600"/><rect x="572" y="41" width="3" height="3" fill="#ffc400"/><rect x="575" y="41" width="3" height="3" fill="#ffc100"/><rect x="347" y="44" width="3" height="3" fill="#00eda1"/><rect x="350" y="44" width="3" height="3" fill="#00ed9f"/><rect x="353" y="44" width="3" height="3" fill="#00ed9d"/><rect x="356" y="44" width="3" height="3" fill="#00ed9c"/><rect x="359" y="44" width="3" height="3" fill="#00ed9a"/><rect x="362" y="44" width="3" height="3" fill="#00ed98"/><rect x="365" y="44" width="3" height="3" fill="#00ed96"/><rect x="368" y="44" width="3" height="3" fill="#00ed94"/><rect x="371" y="44" width="3" height="3" fill="#00ed92"/><rect x="374" y="44" width="3" height="3" fill="#00ed90"/><rect x="377" y="44" width="3" height="3" fill="#00ed8d"/><rect x="380" y="44" width="3" height="3" fill="#00ed8b"/><rect x="383" y="44" width="3" height="3" fill="#00ed88"/><rect x="386" y="44" width="3" height="3" fill="#00ed85"/><rect x="389" y="44" width="3" height="3" fill="#00ed82"/><rect x="392" y="44" width="3" height="3" fill="#00ed7f"/><rect x="395" y="44" width="3" height="3" fill="#00ed7c"/><rect x="398" y="44" width="3" height="3" fill="#00ed78"/><rect x="401" y="44" width="3" height="3" fill="#00ed74"/><rect x="404" y="44" width="3" height="3" fill="#00ed70"/><rect x="407" y="44" width="3" height="3" fill="#00ed6b"/><rect x="410" y="44" width="3" height="3" fill="#00ed66"/><rect x="413" y="44" width="3" height="3" fill="#00ed61"/><rect x="416" y="44" width="3" height="3" fill="#00ed5b"/><rect x="419" y="44" width="3" height="3" fill="#00ed54"/><rect x="422" y="44" width="3" height="3" fill="#00ed4d"/><rect x="425" y="44" width="3" height="3" fill="#00ed44"/><rect x="428" y="44" width="3" height="3" fill="#00ed3a"/><rect x="431" y="44" width="3" height="3" fill="#00ed2e"/><rect x="434" y="44" width="3" height="3" fill="#00ed1e"/><rect x="437" y="44" width="3" height="3" fill="#0bed00"/><rect x="440" y="44" width="3" height="3" fill="#24ed00"/><rect x="443" y="44" width="3" height="3" fill="#34ed00"/><rect x="446" y="44" width="3" height="3" fill="#42ed00"/><rect x="449" y="44" width="3" height="3" fill="#4ded00"/><rect x="452" y="44" width="3" height="3" fill="#5eff00"/><rect x="455" y="44" width="3" height="3" fill="#68ff00"/><rect x="458" y="44" width="3" height="3" fill="#72ff00"/><rect x="461" y="44" width="3" height="3" fill="#7bff00"/><rect x="464" y="44" width="3" height="3" fill="#84ff00"/><rect x="467" y="44" width="3" height="3" fill="#8cff00"/><rect x="470" y="44" width="3" height="3" fill="#94ff00"/><rect x="473" y="44" width="3" height="3" fill="#9cff00"/><rect x="476" y="44" width="3" height="3" fill="#a3ff00"/><rect x="479" y="44" width="3" height="3" fill="#abff00"/><rect x="482" y="44" width="3" height="3" fill="#b2ff00"/><rect x="485" y="44" width="3" height="3" fill="#b8ff00"/><rect x="488" y="44" width="3" height="3" fill="#bfff00"/><rect x="491" y="44" width="3" height="3" fill="#c6ff00"/><rect x="494" y="44" width="3" height="3" fill="#ccff00"/><rect x="497" y="44" width="3" height="3" fill="#d2ff00"/><rect x="500" y="44" width="3" height="3" fill="#d8ff00"/><rect x="503" y="44" width="3" height="3" fill="#deff00"/><rect x="506" y="44" width="3" height="3" fill="#e4ff00"/><rect x="509" y="44" width="3" height="3" fill="#eaff00"/><rect x="512" y="44" width="3" height="3" fill="#efff00"/><rect x="515" y="44" width="3" height="3" fill="#f5ff00"/><rect x="518" y="44" width="3" height="3" fill="#faff00"/><rect x="521" y="44" width="3" height="3" fill="#fffe00"/><rect x="524" y="44" width="3" height="3" fill="#fff900"/><rect x="527" y="44" width="3" height="3" fill="#fff400"/><rect x="530" y="44" width="3" height="3" fill="#ffef00"/><rect x="533" y="44" width="3" height="3" fill="#ffeb00"/><rect x="536" y="44" width="3" height="3" fill="#ffe700"/><rect x="539" y="44" width="3" height="3" fill="#ffe300"/><rect x="542" y="44" width="3" height="3" fill="#ffdf00"/><rect x="545" y="44" width="3" height="3" fill="#ffdb00"/><rect x="548" y="44" width="3" height="3" fill="#ffd800"/><rect x="551" y="44" width="3" height="3" fill="#ffd500"/><rect x="554" y="44" width="3" height="3" fill="#ffd100"/><rect x="557" y="44" width="3" height="3" fill="#ffce00"/><rect x="560" y="44" width="3" height="3" fill="#ffcb00"/><rect x="563" y="44" width="3" height="3" fill="#ffc800"/><rect x="566" y="44" width="3" height="3" fill="#ffc600"/><rect x="569" y="44" width="3" height="3" fill="#ffc300"/><rect x="572" y="44" width="3" height="3" fill="#ffc000"/><rect x="575" y="44" width="3" height="3" fill="#ffbe00"/><rect x="347" y="47" width="3" height="3" fill="#00eda2"/><rect x="350" y="47" width="3" height="3" fill="#00eda1"/><rect x="353" y="47" width="3" height="3" fill="#00ed9f"/><rect x="356" y="47" width="3" height="3" fill="#00ed9d"/><rect x="359" y="47" width="3" height="3" fill="#00ed9b"/><rect x="362" y="47" width="3" height="3" fill="#00ed9a"/><rect x="365" y="47" width="3" height="3" fill="#00ed98"/><rect x="368" y="47" width="3" height="3" fill="#00ed96"/><rect x="371" y="47" width="3" height="3" fill="#00ed94"/><rect x="374" y="47" width="3" height="3" fill="#00ed91"/><rect x="377" y="47" width="3" height="3" fill="#00ed8f"/><rect x="380" y="47" width="3" height="3" fill="#00ed8c"/><rect x="383" y="47" width="3" height="3" fill="#00ed8a"/><rect x="386" y="47" width="3" height="3" fill="#00ed87"/><rect x="389" y="47" width="3" height="3" fill="#00ed84"/><rect x="392" y="47" width="3" height="3" fill="#00ed81"/><rect x="395" y="47" width="3" height="3" fill="#00ed7d"/><rect x="398" y="47" width="3" height="3" fill="#00ed7a"/><rect x="401" y="47" width="3" height="3" fill="#00ed76"/><rect x="404" y="47" width="3" height="3" fill="#00ed72"/><rect x="407" y="47" width="3" height="3" fill="#00ed6d"/><rect x="410" y="47" width="3" height="3" fill="#00ed68"/><rect x="413" y="47" width="3" height="3" fill="#00ed63"/><rect x="416" y="47" width="3" height="3" fill="#00ed5d"/><rect x="419" y="47" width="3" height="3" fill="#00ed56"/><rect x="422" y="47" width="3" height="3" fill="#00ed4f"/><rect x="425" y="47" width="3" height="3" fill="#00ed46"/><rect x="428" y="47" width="3" height="3" fill="#00ed3c"/><rect x="431" y="47" width="3" height="3" fill="#00ed30"/><rect x="434" y="47" width="3" height="3" fill="#00ed20"/><rect x="437" y="47" width="3" height="3" fill="#08ed00"/><rect x="440" y="47" width="3" height="3" fill="#24ed00"/><rect x="443" y="47" width="3" height="3" fill="#34ed00"/><rect x="446" y="47" width="3" height="3" fill="#42ed00"/><rect x="449" y="47" width="3" height="3" fill="#4eed00"/><rect x="452" y="47" width="3" height="3" fill="#5fff00"/><rect x="455" y="47" width="3" height="3" fill="#6aff00"/><rect x="458" y="47" width="3" height="3" fill="#74ff00"/><rect x="461" y="47" width="3" height="3" fill="#7dff00"/><rect x="464" y="47" width="3" height="3" fill="#86ff00"/><rect x="467" y="47" width="3" height="3" fill="#8eff00"/><rect x="470" y="47" width="3" height="3" fill="#97ff00"/><rect x="473" y="47" width="3" height="3" fill="#9eff00"/><rect x="476" y="47" width="3" height="3" fill="#a6ff00"/><rect x="479" y="47" width="3" height="3" fill="#adff00"/><rect x="482" y="47" width="3" height="3" fill="#b5ff00"/><rect x="485" y="47" width="3" height="3" fill="#bbff00"/><rect x="488" y="47" width="3" height="3" fill="#c2ff00"/><rect x="491" y="47" width="3" height="3" fill="#c9ff00"/><rect x="494" y="47" width="3" height="3" fill="#cfff00"/><rect x="497" y="47" width="3" height="3" fill="#d6ff00"/><rect x="500" y="47" width="3" height="3" fill="#dcff00"/><rect x="503" y="47" width="3" height="3" fill="#e2ff00"/><rect x="506" y="47" width="3" height="3" fill="#e8ff00"/><rect x="509" y="47" width="3" height="3" fill="#eeff00"/><rect x="512" y="47" width="3" height="3" fill="#f4ff00"/><rect x="515" y="47" width="3" height="3" fill="#f9ff00"/><rect x="518" y="47" width="3" height="3" fill="#ffff00"/><rect x="521" y="47" width="3" height="3" fill="#fffa00"/><rect x="524" y="47" width="3" height="3" fill="#fff500"/><rect x="527" y="47" width="3" height="3" fill="#fff000"/><rect x="530" y="47" width="3" height="3" fill="#ffeb00"/><rect x="533" y="47" width="3" height="3" fill="#ffe700"/><rect x="536" y="47" width="3" height="3" fill="#ffe300"/><rect x="539" y="47" width="3" height="3" fill="#ffdf00"/><rect x="542" y="47" width="3" height="3" fill="#ffdb00"/><rect x="545" y="47" width="3" height="3" fill="#ffd700"/><rect x="548" y="47" width="3" height="3" fill="#ffd400"/><rect x="551" y="47" width="3" height="3" fill="#ffd100"/><rect x="554" y="47" width="3" height="3" fill="#ffce00"/><rect x="557" y="47" width="3" height="3" fill="#ffca00"/><rect x="560" y="47" width="3" height="3" fill="#ffc800"/><rect x="563" y="47" width="3" height="3" fill="#ffc500"/><rect x="566" y="47" width="3" height="3" fill="#ffc200"/><rect x="569" y="47" width="3" height="3" fill="#ffbf00"/><rect x="572" y="47" width="3" height="3" fill="#ffbd00"/><rect x="575" y="47" width="3" height="3" fill="#ffba00"/><rect x="347" y="50" width="3" height="3" fill="#00eda4"/><rect x="350" y="50" width="3" height="3" fill="#00eda2"/><rect x="353" y="50" width="3" height="3" fill="#00eda1"/><rect x="356" y="50" width="3" height="3" fill="#00ed9f"/><rect x="359" y="50" width="3" height="3" fill="#00ed9d"/><rect x="362" y="50" width="3" height="3" fill="#00ed9b"/><rect x="365" y="50" width="3" height="3" fill="#00ed99"/><rect x="368" y="50" width="3" height="3" fill="#00ed97"/><rect x="371" y="50" width="3" height="3" fill="#00ed95"/><rect x="374" y="50" width="3" height="3" fill="#00ed93"/><rect x="377" y="50" width="3" height="3" fill="#00ed91"/><rect x="380" y="50" width="3" height="3" fill="#00ed8e"/><rect x="383" y="50" width="3" height="3" fill="#00ed8c"/><rect x="386" y="50" width="3" height="3" fill="#00ed89"/><rect x="389" y="50" width="3" height="3" fill="#00ed86"/><rect x="392" y="50" width="3" height="3" fill="#00ed83"/><rect x="395" y="50" width="3" height="3" fill="#00ed7f"/><rect x="398" y="50" width="3" height="3" fill="#00ed7c"/><rect x="401" y="50" width="3" height="3" fill="#00ed78"/><rect x="404" y="50" width="3" height="3" fill="#00ed74"/><rect x="407" y="50" width="3" height="3" fill="#00ed6f"/><rect x="410" y="50" width="3" height="3" fill="#00ed6a"/><rect x="413" y="50" width="3" height="3" fill="#00ed65"/><rect x="416" y="50" width="3" height="3" fill="#00ed5f"/><rect x="419" y="50" width="3" height="3" fill="#00ed58"/><rect x="422" y="50" width="3" height="3" fill="#00ed50"/><rect x="425" y="50" width="3" height="3" fill="#00ed48"/><rect x="428" y="50" width="3" height="3" fill="#00ed3e"/><rect x="431" y="50" width="3" height="3" fill="#00ed32"/><rect x="434" y="50" width="3" height="3" fill="#00ed22"/><rect x="437" y="50" width="3" height="3" fill="#04ed00"/><rect x="440" y="50" width="3" height="3" fill="#23ed00"/><rect x="443" y="50" width="3" height="3" fill="#34ed00"/><rect x="446" y="50" width="3" height="3" fill="#42ed00"/><rect x="449" y="50" width="3" height="3" fill="#4fed00"/><rect x="452" y="50" width="3" height="3" fill="#60ff00"/><rect x="455" y="50" width="3" height="3" fill="#6bff00"/><rect x="458" y="50" width="3" height="3" fill="#75ff00"/><rect x="461" y="50" width="3" height="3" fill="#7fff00"/><rect x="464" y="50" width="3" height="3" fill="#88ff00"/><rect x="467" y="50" width="3" height="3" fill="#91ff00"/><rect x="470" y="50" width="3" height="3" fill="#99ff00"/><rect x="473" y="50" width="3" height="3" fill="#a1ff00"/><rect x="476" y="50" width="3" height="3" fill="#a9ff00"/><rect x="479" y="50" width="3" height="3" fill="#b0ff00"/><rect x="482" y="50" width="3" height="3" fill="#b8ff00"/><rect x="485" y="50" width="3" height="3" fill="#bfff00"/><rect x="488" y="50" width="3" height="3" fill="#c6ff00"/><rect x="491" y="50" width="3" height="3" fill="#ccff00"/><rect x="494" y="50" width="3" height="3" fill="#d3ff00"/><rect x="497" y="50" width="3" height="3" fill="#daff00"/><rect x="500" y="50" width="3" height="3" fill="#e0ff00"/><rect x="503" y="50" width="3" height="3" fill="#e6ff00"/><rect x="506" y="50" width="3" height="3" fill="#ecff00"/><rect x="509" y="50" width="3" height="3" fill="#f2ff00"/><rect x="512" y="50" width="3" height="3" fill="#f8ff00"/><rect x="515" y="50" width="3" height="3" fill="#feff00"/><rect x="518" y="50" width="3" height="3" fill="#fffa00"/><rect x="521" y="50" width="3" height="3" fill="#fff500"/><rect x="524" y="50" width="3" height="3" fill="#fff000"/><rect x="527" y="50" width="3" height="3" fill="#ffeb00"/><rect x="530" y="50" width="3" height="3" fill="#ffe700"/><rect x="533" y="50" width="3" height="3" fill="#ffe300"/><rect x="536" y="50" width="3" height="3" fill="#ffdf00"/><rect x="539" y="50" width="3" height="3" fill="#ffdb00"/><rect x="542" y="50" width="3" height="3" fill="#ffd700"/><rect x="545" y="50" width="3" height="3" fill="#ffd300"/><rect x="548" y="50" width="3" height="3" fill="#ffd000"/><rect x="551" y="50" width="3" height="3" fill="#ffcd00"/><rect x="554" y="50" width="3" height="3" fill="#ffca00"/><rect x="557" y="50" width="3" height="3" fill="#ffc700"/><rect x="560" y="50" width="3" height="3" fill="#ffc400"/><rect x="563" y="50" width="3" height="3" fill="#ffc100"/><rect x="566" y="50" width="3" height="3" fill="#ffbe00"/><rect x="569" y="50" width="3" height="3" fill="#ffbc00"/><rect x="572" y="50" width="3" height="3" fill="#ffb900"/><rect x="575" y="50" width="3" height="3" fill="#ffb700"/><rect x="347" y="53" width="3" height="3" fill="#00eda5"/><rect x="350" y="53" width="3" height="3" fill="#00eda4"/><rect x="353" y="53" width="3" height="3" fill="#00eda2"/><rect x="356" y="53" width="3" height="3" fill="#00eda1"/><rect x="359" y="53" width="3" height="3" fill="#00ed9f"/><rect x="362" y="53" width="3" height="3" fill="#00ed9d"/><rect x="365" y="53" width="3" height="3" fill="#00ed9b"/><rect x="368" y="53" width="3" height="3" fill="#00ed99"/><rect x="371" y="53" width="3" height="3" fill="#00ed97"/><rect x="374" y="53" width="3" height="3" fill="#00ed95"/><rect x="377" y="53" width="3" height="3" fill="#00ed93"/><rect x="380" y="53" width="3" height="3" fill="#00ed90"/><rect x="383" y="53" width="3" height="3" fill="#00ed8d"/><rect x="386" y="53" width="3" height="3" fill="#00ed8b"/><rect x="389" y="53" width="3" height="3" fill="#00ed88"/><rect x="392" y="53" width="3" height="3" fill="#00ed85"/><rect x="395" y="53" width="3" height="3" fill="#00ed81"/><rect x="398" y="53" width="3" height="3" fill="#00ed7e"/><rect x="401" y="53" width="3" height="3" fill="#00ed7a"/><rect x="404" y="53" width="3" height="3" fill="#00ed76"/><rect x="407" y="53" width="3" height="3" fill="#00ed71"/><rect x="410" y="53" width="3" height="3" fill="#00ed6c"/><rect x="413" y="53" width="3" height="3" fill="#00ed67"/><rect x="416" y="53" width="3" height="3" fill="#00ed61"/><rect x="419" y="53" width="3" height="3" fill="#00ed5a"/><rect x="422" y="53" width="3" height="3" fill="#00ed52"/><rect x="425" y="53" width="3" height="3" fill="#00ed4a"/><rect x="428" y="53" width="3" height="3" fill="#00ed40"/><rect x="431" y="53" width="3" height="3" fill="#00ed33"/><rect x="434" y="53" width="3" height="3" fill="#00ed23"/><rect x="437" y="53" width="3" height="3" fill="#00ed06"/><rect x="440" y="53" width="3" height="3" fill="#22ed00"/><rect x="443" y="53" width="3" height="3" fill="#35ed00"/><rect x="446" y="53" width="3" height="3" fill="#43ed00"/><rect x="449" y="53" width="3" height="3" fill="#55ff00"/><rect x="452" y="53" width="3" height="3" fill="#62ff00"/><rect x="455" y="53" width="3" height="3" fill="#6dff00"/><rect x="458" y="53" width="3" height="3" fill="#77ff00"/><rect x="461" y="53" width="3" height="3" fill="#81ff00"/><rect x="464" y="53" width="3" height="3" fill="#8aff00"/><rect x="467" y="53" width="3" height="3" fill="#93ff00"/><rect x="470" y="53" width="3" height="3" fill="#9cff00"/><rect x="473" y="53" width="3" height="3" fill="#a4ff00"/><rect x="476" y="53" width="3" height="3" fill="#acff00"/><rect x="479" y="53" width="3" height="3" fill="#b4ff00"/><rect x="482" y="53" width="3" height="3" fill="#bbff00"/><rect x="485" y="53" width="3" height="3" fill="#c2ff00"/><rect x="488" y="53" width="3" height="3" fill="#c9ff00"/><rect x="491" y="53" width="3" height="3" fill="#d0ff00"/><rect x="494" y="53" width="3" height="3" fill="#d7ff00"/><rect x="497" y="53" width="3" height="3" fill="#deff00"/><rect x="500" y="53" width="3" height="3" fill="#e4ff00"/><rect x="503" y="53" width="3" height="3" fill="#eaff00"/><rect x="506" y="53" width="3" height="3" fill="#f1ff00"/><rect x="509" y="53" width="3" height="3" fill="#f7ff00"/><rect x="512" y="53" width="3" height="3" fill="#fdff00"/><rect x="515" y="53" width="3" height="3" fill="#fffb00"/><rect x="518" y="53" width="3" height="3" fill="#fff600"/><rect x="521" y="53" width="3" height="3" fill="#fff100"/><rect x="524" y="53" width="3" height="3" fill="#ffec00"/><rect x="527" y="53" width="3" height="3" fill="#ffe700"/><rect x="530" y="53" width="3" height="3" fill="#ffe300"/><rect x="533" y="53" width="3" height="3" fill="#ffde00"/><rect x="536" y="53" width="3" height="3" fill="#ffda00"/><rect x="539" y="53" width="3" height="3" fill="#ffd600"/><rect x="542" y="53" width="3" height="3" fill="#ffd300"/><rect x="545" y="53" width="3" height="3" fill="#ffcf00"/><rect x="548" y="53" width="3" height="3" fill="#ffcc00"/><rect x="551" y="53" width="3" height="3" fill="#ffc900"/><rect x="554" y="53" width="3" height="3" fill="#ffc600"/><rect x="557" y="53" width="3" height="3" fill="#ffc300"/><rect x="560" y="53" width="3" height="3" fill="#ffc000"/><rect x="563" y="53" width="3" height="3" fill="#ffbd00"/><rect x="566" y="53" width="3" height="3" fill="#ffbb00"/><rect x="569" y="53" width="3" height="3" fill="#ffb800"/><rect x="572" y="53" width="3" height="3" fill="#ffb600"/><rect x="575" y="53" width="3" height="3" fill="#ffb300"/><rect x="347" y="56" width="3" height="3" fill="#00eda7"/><rect x="350" y="56" width="3" height="3" fill="#00eda6"/><rect x="353" y="56" width="3" height="3" fill="#00eda4"/><rect x="356" y="56" width="3" height="3" fill="#00eda2"/><rect x="359" y="56" width="3" height="3" fill="#00eda1"/><rect x="362" y="56" width="3" height="3" fill="#00ed9f"/><rect x="365" y="56" width="3" height="3" fill="#00ed9d"/><rect x="368" y="56" width="3" height="3" fill="#00ed9b"/><rect x="371" y="56" width="3" height="3" fill="#00ed99"/><rect x="374" y="56" width="3" height="3" fill="#00ed97"/><rect x="377" y="56" width="3" height="3" fill="#00ed94"/><rect x="380" y="56" width="3" height="3" fill="#00ed92"/><rect x="383" y="56" width="3" height="3" fill="#00ed8f"/><rect x="386" y="56" width="3" height="3" fill="#00ed8d"/><rect x="389" y="56" width="3" height="3" fill="#00ed8a"/><rect x="392" y="56" width="3" height="3" fill="#00ed87"/><rect x="395" y="56" width="3" height="3" fill="#00ed83"/><rect x="398" y="56" width="3" height="3" fill="#00ed80"/><rect x="401" y="56" width="3" height="3" fill="#00ed7c"/><rect x="404" y="56" width="3" height="3" fill="#00ed78"/><rect x="407" y="56" width="3" height="3" fill="#00ed73"/><rect x="410" y="56" width="3" height="3" fill="#00ed6e"/><rect x="413" y="56" width="3" height="3" fill="#00ed69"/><rect x="416" y="56" width="3" height="3" fill="#00ed63"/><rect x="419" y="56" width="3" height="3" fill="#00ed5c"/><rect x="422" y="56" width="3" height="3" fill="#00ed54"/><rect x="425" y="56" width="3" height="3" fill="#00ed4c"/><rect x="428" y="56" width="3" height="3" fill="#00ed42"/><rect x="431" y="56" width="3" height="3" fill="#00ed35"/><rect x="434" y="56" width="3" height="3" fill="#00ed25"/><rect x="437" y="56" width="3" height="3" fill="#00ed0a"/><rect x="440" y="56" width="3" height="3" fill="#22ed00"/><rect x="443" y="56" width="3" height="3" fill="#35ed00"/><rect x="446" y="56" width="3" height="3" fill="#44ed00"/><rect x="449" y="56" width="3" height="3" fill="#56ff00"/><rect x="452" y="56" width="3" height="3" fill="#63ff00"/><rect x="455" y="56" width="3" height="3" fill="#6eff00"/><rect x="458" y="56" width="3" height="3" fill="#79ff00"/><rect x="461" y="56" width="3" height="3" fill="#83ff00"/><rect x="464" y="56" width="3" height="3" fill="#8dff00"/><rect x="467" y="56" width="3" height="3" fill="#96ff00"/><rect x="470" y="56" width="3" height="3" fill="#9eff00"/><rect x="473" y="56" width="3" height="3" fill="#a7ff00"/><rect x="476" y="56" width="3" height="3" fill="#afff00"/><rect x="479" y="56" width="3" height="3" fill="#b7ff00"/><rect x="482" y="56" width="3" height="3" fill="#bfff00"/><rect x="485" y="56" width="3" height="3" fill="#c6ff00"/><rect x="488" y="56" width="3" height="3" fill="#cdff00"/><rect x="491" y="56" width="3" height="3" fill="#d4ff00"/><rect x="494" y="56" width="3" height="3" fill="#dbff00"/><rect x="497" y="56" width="3" height="3" fill="#e2ff00"/><rect x="500" y="56" width="3" height="3" fill="#e9ff00"/><rect x="503" y="56" width="3" height="3" fill="#efff00"/><rect x="506" y="56" width="3" height="3" fill="#f5ff00"/><rect x="509" y="56" width="3" height="3" fill="#fcff00"/><rect x="512" y="56" width="3" height="3" fill="#fffc00"/><rect x="515" y="56" width="3" height="3" fill="#fff600"/><rect x="518" y="56" width="3" height="3" fill="#fff100"/><rect x="521" y="56" width="3" height="3" fill="#ffec00"/><rect x="524" y="56" width="3" height="3" fill="#ffe700"/><rect x="527" y="56" width="3" height="3" fill="#ffe200"/><rect x="530" y="56" width="3" height="3" fill="#ffde00"/><rect x="533" y="56" width="3" height="3" fill="#ffda00"/><rect x="536" y="56" width="3" height="3" fill="#ffd600"/><rect x="539" y="56" width="3" height="3" fill="#ffd200"/><rect x="542" y="56" width="3" height="3" fill="#ffcf00"/><rect x="545" y="56" width="3" height="3" fill="#ffcb00"/><rect x="548" y="56" width="3" height="3" fill="#ffc800"/><rect x="551" y="56" width="3" height="3" fill="#ffc500"/><rect x="554" y="56" width="3" height="3" fill="#ffc200"/><rect x="557" y="56" width="3" height="3" fill="#ffbf00"/><rect x="560" y="56" width="3" height="3" fill="#ffbc00"/><rect x="563" y="56" width="3" height="3" fill="#ffba00"/><rect x="566" y="56" width="3" height="3" fill="#ffb700"/><rect x="569" y="56" width="3" height="3" fill="#ffb400"/><rect x="572" y="56" width="3" height="3" fill="#ffb200"/><rect x="575" y="56" width="3" height="3" fill="#ffb000"/><rect x="347" y="59" width="3" height="3" fill="#00eda9"/><rect x="350" y="59" width="3" height="3" fill="#00eda7"/><rect x="353" y="59" width="3" height="3" fill="#00eda6"/><rect x="356" y="59" width="3" height="3" fill="#00eda4"/><rect x="359" y="59" width="3" height="3" fill="#00eda2"/><rect x="362" y="59" width="3" height="3" fill="#00eda1"/><rect x="365" y="59" width="3" height="3" fill="#00ed9f"/><rect x="368" y="59" width="3" height="3" fill="#00ed9d"/><rect x="371" y="59" width="3" height="3" fill="#00ed9b"/><rect x="374" y="59" width="3" height="3" fill="#00ed99"/><rect x="377" y="59" width="3" height="3" fill="#00ed96"/><rect x="380" y="59" width="3" height="3" fill="#00ed94"/><rect x="383" y="59" width="3" height="3" fill="#00ed91"/><rect x="386" y="59" width="3" height="3" fill="#00ed8f"/><rect x="389" y="59" width="3" height="3" fill="#00ed8c"/><rect x="392" y="59" width="3" height="3" fill="#00ed89"/><rect x="395" y="59" width="3" height="3" fill="#00ed85"/><rect x="398" y="59" width="3" height="3" fill="#00ed82"/><rect x="401" y="59" width="3" height="3" fill="#00ed7e"/><rect x="404" y="59" width="3" height="3" fill="#00ed7a"/><rect x="407" y="59" width="3" height="3" fill="#00ed75"/><rect x="410" y="59" width="3" height="3" fill="#00ed70"/><rect x="413" y="59" width="3" height="3" fill="#00ed6b"/><rect x="416" y="59" width="3" height="3" fill="#00ed65"/><rect x="419" y="59" width="3" height="3" fill="#00ed5e"/><rect x="422" y="59" width="3" height="3" fill="#00ed56"/><rect x="425" y="59" width="3" height="3" fill="#00ed4e"/><rect x="428" y="59" width="3" height="3" fill="#00ed44"/><rect x="431" y="59" width="3" height="3" fill="#00ed37"/><rect x="434" y="59" width="3" height="3" fill="#00ed27"/><rect x="437" y="59" width="3" height="3" fill="#00ed0d"/><rect x="440" y="59" width="3" height="3" fill="#21ed00"/><rect x="443" y="59" width="3" height="3" fill="#35ed00"/><rect x="446" y="59" width="3" height="3" fill="#44ed00"/><rect x="449" y="59" width="3" height="3" fill="#58ff00"/><rect x="452" y="59" width="3" height="3" fill="#64ff00"/><rect x="455" y="59" width="3" height="3" fill="#70ff00"/><rect x="458" y="59" width="3" height="3" fill="#7bff00"/><rect x="461" y="59" width="3" height="3" fill="#85ff00"/><rect x="464" y="59" width="3" height="3" fill="#8fff00"/><rect x="467" y="59" width="3" height="3" fill="#98ff00"/><rect x="470" y="59" width="3" height="3" fill="#a1ff00"/><rect x="473" y="59" width="3" height="3" fill="#aaff00"/><rect x="476" y="59" width="3" height="3" fill="#b2ff00"/><rect x="479" y="59" width="3" height="3" fill="#baff00"/><rect x="482" y="59" width="3" height="3" fill="#c2ff00"/><rect x="485" y="59" width="3" height="3" fill="#caff00"/><rect x="488" y="59" width="3" height="3" fill="#d1ff00"/><rect x="491" y="59" width="3" height="3" fill="#d9ff00"/><rect x="494" y="59" width="3" height="3" fill="#e0ff00"/><rect x="497" y="59" width="3" height="3" fill="#e7ff00"/><rect x="500" y="59" width="3" height="3" fill="#edff00"/><rect x="503" y="59" width="3" height="3" fill="#f4ff00"/><rect x="506" y="59" width="3" height="3" fill="#faff00"/><rect x="509" y="59" width="3" height="3" fill="#fffd00"/><rect x="512" y="59" width="3" height="3" fill="#fff700"/><rect x="515" y="59" width="3" height="3" fill="#fff100"/><rect x="518" y="59" width="3" height="3" fill="#ffec00"/><rect x="521" y="59" width="3" height="3" fill="#ffe700"/><rect x="524" y="59" width="3" height="3" fill="#ffe200"/><rect x="527" y="59" width="3" height="3" fill="#ffde00"/><rect x="530" y="59" width="3" height="3" fill="#ffd900"/><rect x="533" y="59" width="3" height="3" fill="#ffd500"/><rect x="536" y="59" width="3" height="3" fill="#ffd200"/><rect x="539" y="59" width="3" height="3" fill="#ffce00"/><rect x="542" y="59" width="3" height="3" fill="#ffca00"/><rect x="545" y="59" width="3" height="3" fill="#ffc700"/><rect x="548" y="59" width="3" height="3" fill="#ffc400"/><rect x="551" y="59" width="3" height="3" fill="#ffc100"/><rect x="554" y="59" width="3" height="3" fill="#ffbe00"/><rect x="557" y="59" width="3" height="3" fill="#ffbb00"/><rect x="560" y="59" width="3" height="3" fill="#ffb800"/><rect x="563" y="59" width="3" height="3" fill="#ffb600"/><rect x="566" y="59" width="3" height="3" fill="#ffb300"/><rect x="569" y="59" width="3" height="3" fill="#ffb100"/><rect x="572" y="59" width="3" height="3" fill="#ffae00"/><rect x="575" y="59" width="3" height="3" fill="#ffac00"/><rect x="347" y="62" width="3" height="3" fill="#00edab"/><rect x="350" y="62" width="3" height="3" fill="#00eda9"/><rect x="353" y="62" width="3" height="3" fill="#00eda8"/><rect x="356" y="62" width="3" height="3" fill="#00eda6"/><rect x="359" y="62" width="3" height="3" fill="#00eda4"/><rect x="362" y="62" width="3" height="3" fill="#00eda3"/><rect x="365" y="62" width="3" height="3" fill="#00eda1"/><rect x="368" y="62" width="3" height="3" fill="#00ed9f"/><rect x="371" y="62" width="3" height="3" fill="#00ed9d"/><rect x="374" y="62" width="3" height="3" fill="#00ed9b"/><rect x="377" y="62" width="3" height="3" fill="#00ed98"/><rect x="380" y="62" width="3" height="3" fill="#00ed96"/><rect x="383" y="62" width="3" height="3" fill="#00ed93"/><rect x="386" y="62" width="3" height="3" fill="#00ed91"/><rect x="389" y="62" width="3" height="3" fill="#00ed8e"/><rect x="392" y="62" width="3" height="3" fill="#00ed8b"/><rect x="395" y="62" width="3" height="3" fill="#00ed87"/><rect x="398" y="62" width="3" height="3" fill="#00ed84"/><rect x="401" y="62" width="3" height="3" fill="#00ed80"/><rect x="404" y="62" width="3" height="3" fill="#00ed7c"/><rect x="407" y="62" width="3" height="3" fill="#00ed77"/><rect x="410" y="62" width="3" height="3" fill="#00ed72"/><rect x="413" y="62" width="3" height="3" fill="#00ed6d"/><rect x="416" y="62" width="3" height="3" fill="#00ed67"/><rect x="419" y="62" width="3" height="3" fill="#00ed60"/><rect x="422" y="62" width="3" height="3" fill="#00ed59"/><rect x="425" y="62" width="3" height="3" fill="#00ed50"/><rect x="428" y="62" width="3" height="3" fill="#00ed46"/><rect x="431" y="62" width="3" height="3" fill="#00ed39"/><rect x="434" y="62" width="3" height="3" fill="#00ed2a"/><rect x="437" y="62" width="3" height="3" fill="#00ed10"/><rect x="440" y="62" width="3" height="3" fill="#20ed00"/><rect x="443" y="62" width="3" height="3" fill="#35ed00"/><rect x="446" y="62" width="3" height="3" fill="#4aff00"/><rect x="449" y="62" width="3" height="3" fill="#59ff00"/><rect x="452" y="62" width="3" height="3" fill="#66ff00"/><rect x="455" y="62" width="3" height="3" fill="#72ff00"/><rect x="458" y="62" width="3" height="3" fill="#7dff00"/><rect x="461" y="62" width="3" height="3" fill="#88ff00"/><rect x="464" y="62" width="3" height="3" fill="#92ff00"/><rect x="467" y="62" width="3" height="3" fill="#9bff00"/><rect x="470" y="62" width="3" height="3" fill="#a5ff00"/><rect x="473" y="62" width="3" height="3" fill="#adff00"/><rect x="476" y="62" width="3" height="3" fill="#b6ff00"/><rect x="479" y="62" width="3" height="3" fill="#beff00"/><rect x="482" y="62" width="3" height="3" fill="#c6ff00"/><rect x="485" y="62" width="3" height="3" fill="#ceff00"/><rect x="488" y="62" width="3" height="3" fill="#d6ff00"/><rect x="491" y="62" width="3" height="3" fill="#ddff00"/><rect x="494" y="62" width="3" height="3" fill="#e4ff00"/><rect x="497" y="62" width="3" height="3" fill="#ebff00"/><rect x="500" y="62" width="3" height="3" fill="#f2ff00"/><rect x="503" y="62" width="3" height="3" fill="#f9ff00"/><rect x="506" y="62" width="3" height="3" fill="#fffe00"/><rect x="509" y="62" width="3" height="3" fill="#fff800"/><rect x="512" y="62" width="3" height="3" fill="#fff200"/><rect x="515" y="62" width="3" height="3" fill="#ffec00"/><rect x="518" y="62" width="3" height="3" fill="#ffe700"/><rect x="521" y="62" width="3" height="3" fill="#ffe200"/><rect x="524" y="62" width="3" height="3" fill="#ffdd00"/><rect x="527" y="62" width="3" height="3" fill="#ffd900"/><rect x="530" y="62" width="3" height="3" fill="#ffd500"/><rect x="533" y="62" width="3" height="3" fill="#ffd100"/><rect x="536" y="62" width="3" height="3" fill="#ffcd00"/><rect x="539" y="62" width="3" height="3" fill="#ffc900"/><rect x="542" y="62" width="3" height="3" fill="#ffc600"/><rect x="545" y="62" width="3" height="3" fill="#ffc300"/><rect x="548" y="62" width="3" height="3" fill="#ffc000"/><rect x="551" y="62" width="3" height="3" fill="#ffbd00"/><rect x="554" y="62" width="3" height="3" fill="#ffba00"/><rect x="557" y="62" width="3" height="3" fill="#ffb700"/><rect x="560" y="62" width="3" height="3" fill="#ffb400"/><rect x="563" y="62" width="3" height="3" fill="#ffb200"/><rect x="566" y="62" width="3" height="3" fill="#ffaf00"/><rect x="569" y="62" width="3" height="3" fill="#ffad00"/><rect x="572" y="62" width="3" height="3" fill="#ffab00"/><rect x="575" y="62" width="3" height="3" fill="#ffa800"/><rect x="347" y="65" width="3" height="3" fill="#00edac"/><rect x="350" y="65" width="3" height="3" fill="#00edab"/><rect x="353" y="65" width="3" height="3" fill="#00eda9"/><rect x="356" y="65" width="3" height="3" fill="#00eda8"/><rect x="359" y="65" width="3" height="3" fill="#00eda6"/><rect x="362" y="65" width="3" height="3" fill="#00eda4"/><rect x="365" y="65" width="3" height="3" fill="#00eda3"/><rect x="368" y="65" width="3" height="3" fill="#00eda1"/><rect x="371" y="65" width="3" height="3" fill="#00ed9f"/><rect x="374" y="65" width="3" height="3" fill="#00ed9d"/><rect x="377" y="65" width="3" height="3" fill="#00ed9a"/><rect x="380" y="65" width="3" height="3" fill="#00ed98"/><rect x="383" y="65" width="3" height="3" fill="#00ed95"/><rect x="386" y="65" width="3" height="3" fill="#00ed93"/><rect x="389" y="65" width="3" height="3" fill="#00ed90"/><rect x="392" y="65" width="3" height="3" fill="#00ed8d"/><rect x="395" y="65" width="3" height="3" fill="#00ed8a"/><rect x="398" y="65" width="3" height="3" fill="#00ed86"/><rect x="401" y="65" width="3" height="3" fill="#00ed82"/><rect x="404" y="65" width="3" height="3" fill="#00ed7e"/><rect x="407" y="65" width="3" height="3" fill="#00ed7a"/><rect x="410" y="65" width="3" height="3" fill="#00ed75"/><rect x="413" y="65" width="3" height="3" fill="#00ed6f"/><rect x="416" y="65" width="3" height="3" fill="#00ed69"/><rect x="419" y="65" width="3" height="3" fill="#00ed62"/><rect x="422" y="65" width="3" height="3" fill="#00ed5b"/><rect x="425" y="65" width="3" height="3" fill="#00ed52"/><rect x="428" y="65" width="3" height="3" fill="#00ed48"/><rect x="431" y="65" width="3" height="3" fill="#00ed3c"/><rect x="434" y="65" width="3" height="3" fill="#00ed2c"/><rect x="437" y="65" width="3" height="3" fill="#00ed13"/><rect x="440" y="65" width="3" height="3" fill="#1fed00"/><rect x="443" y="65" width="3" height="3" fill="#35ed00"/><rect x="446" y="65" width="3" height="3" fill="#4bff00"/><rect x="449" y="65" width="3" height="3" fill="#5aff00"/><rect x="452" y="65" width="3" height="3" fill="#67ff00"/><rect x="455" y="65" width="3" height="3" fill="#74ff00"/><rect x="458" y="65" width="3" height="3" fill="#7fff00"/><rect x="461" y="65" width="3" height="3" fill="#8aff00"/><rect x="464" y="65" width="3" height="3" fill="#95ff00"/><rect x="467" y="65" width="3" height="3" fill="#9fff00"/><rect x="470" y="65" width="3" height="3" fill="#a8ff00"/><rect x="473" y="65" width="3" height="3" fill="#b1ff00"/><rect x="476" y="65" width="3" height="3" fill="#baff00"/><rect x="479" y="65" width="3" height="3" fill="#c2ff00"/><rect x="482" y="65" width="3" height="3" fill="#caff00"/><rect x="485" y="65" width="3" height="3" fill="#d2ff00"/><rect x="488" y="65" width="3" height="3" fill="#daff00"/><rect x="491" y="65" width="3" height="3" fill="#e2ff00"/><rect x="494" y="65" width="3" height="3" fill="#e9ff00"/><rect x="497" y="65" width="3" height="3" fill="#f1ff00"/><rect x="500" y="65" width="3" height="3" fill="#f8ff00"/><rect x="503" y="65" width="3" height="3" fill="#ffff00"/><rect x="506" y="65" width="3" height="3" fill="#fff900"/><rect x="509" y="65" width="3" height="3" fill="#fff200"/><rect x="512" y="65" width="3" height="3" fill="#ffed00"/><rect x="515" y="65" width="3" height="3" fill="#ffe700"/><rect x="518" y="65" width="3" height="3" fill="#ffe200"/><rect x="521" y="65" width="3" height="3" fill="#ffdd00"/><rect x="524" y="65" width="3" height="3" fill="#ffd900"/><rect x="527" y="65" width="3" height="3" fill="#ffd400"/><rect x="530" y="65" width="3" height="3" fill="#ffd000"/><rect x="533" y="65" width="3" height="3" fill="#ffcc00"/><rect x="536" y="65" width="3" height="3" fill="#ffc800"/><rect x="539" y="65" width="3" height="3" fill="#ffc500"/><rect x="542" y="65" width="3" height="3" fill="#ffc200"/><rect x="545" y="65" width="3" height="3" fill="#ffbe00"/><rect x="548" y="65" width="3" height="3" fill="#ffbb00"/><rect x="551" y="65" width="3" height="3" fill="#ffb800"/><rect x="554" y="65" width="3" height="3" fill="#ffb600"/><rect x="557" y="65" width="3" height="3" fill="#ffb300"/><rect x="560" y="65" width="3" height="3" fill="#ffb000"/><rect x="563" y="65" width="3" height="3" fill="#ffae00"/><rect x="566" y="65" width="3" height="3" fill="#ffab00"/><rect x="569" y="65" width="3" height="3" fill="#ffa900"/><rect x="572" y="65" width="3" height="3" fill="#ffa700"/><rect x="575" y="65" width="3" height="3" fill="#ffa500"/><rect x="347" y="68" width="3" height="3" fill="#00edae"/><rect x="350" y="68" width="3" height="3" fill="#00edad"/><rect x="353" y="68" width="3" height="3" fill="#00edab"/><rect x="356" y="68" width="3" height="3" fill="#00edaa"/><rect x="359" y="68" width="3" height="3" fill="#00eda8"/><rect x="362" y="68" width="3" height="3" fill="#00eda6"/><rect x="365" y="68" width="3" height="3" fill="#00eda5"/><rect x="368" y="68" width="3" height="3" fill="#00eda3"/><rect x="371" y="68" width="3" height="3" fill="#00eda1"/><rect x="374" y="68" width="3" height="3" fill="#00ed9f"/><rect x="377" y="68" width="3" height="3" fill="#00ed9c"/><rect x="380" y="68" width="3" height="3" fill="#00ed9a"/><rect x="383" y="68" width="3" height="3" fill="#00ed98"/><rect x="386" y="68" width="3" height="3" fill="#00ed95"/><rect x="389" y="68" width="3" height="3" fill="#00ed92"/><rect x="392" y="68" width="3" height="3" fill="#00ed8f"/><rect x="395" y="68" width="3" height="3" fill="#00ed8c"/><rect x="398" y="68" width="3" height="3" fill="#00ed88"/><rect x="401" y="68" width="3" height="3" fill="#00ed84"/><rect x="404" y="68" width="3" height="3" fill="#00ed80"/><rect x="407" y="68" width="3" height="3" fill="#00ed7c"/><rect x="410" y="68" width="3" height="3" fill="#00ed77"/><rect x="413" y="68" width="3" height="3" fill="#00ed72"/><rect x="416" y="68" width="3" height="3" fill="#00ed6b"/><rect x="419" y="68" width="3" height="3" fill="#00ed65"/><rect x="422" y="68" width="3" height="3" fill="#00ed5d"/><rect x="425" y="68" width="3" height="3" fill="#00ed54"/><rect x="428" y="68" width="3" height="3" fill="#00ed4a"/><rect x="431" y="68" width="3" height="3" fill="#00ed3e"/><rect x="434" y="68" width="3" height="3" fill="#00ed2e"/><rect x="437" y="68" width="3" height="3" fill="#00ed16"/><rect x="440" y="68" width="3" height="3" fill="#1eed00"/><rect x="443" y="68" width="3" height="3" fill="#39ff00"/><rect x="446" y="68" width="3" height="3" fill="#4bff00"/><rect x="449" y="68" width="3" height="3" fill="#5bff00"/><rect x="452" y="68" width="3" height="3" fill="#69ff00"/><rect x="455" y="68" width="3" height="3" fill="#76ff00"/><rect x="458" y="68" width="3" height="3" fill="#82ff00"/><rect x="461" y="68" width="3" height="3" fill="#8dff00"/><rect x="464" y="68" width="3" height="3" fill="#98ff00"/><rect x="467" y="68" width="3" height="3" fill="#a2ff00"/><rect x="470" y="68" width="3" height="3" fill="#acff00"/><rect x="473" y="68" width="3" height="3" fill="#b5ff00"/><rect x="476" y="68" width="3" height="3" fill="#beff00"/><rect x="479" y="68" width="3" height="3" fill="#c7ff00"/><rect x="482" y="68" width="3" height="3" fill="#cfff00"/><rect x="485" y="68" width="3" height="3" fill="#d7ff00"/><rect x="488" y="68" width="3" height="3" fill="#dfff00"/><rect x="491" y="68" width="3" height="3" fill="#e7ff00"/><rect x="494" y="68" width="3" height="3" fill="#efff00"/><rect x="497" y="68" width="3" height="3" fill="#f6ff00"/><rect x="500" y="68" width="3" height="3" fill="#fdff00"/><rect x="503" y="68" width="3" height="3" fill="#fffa00"/><rect x="506" y="68" width="3" height="3" fill="#fff300"/><rect x="509" y="68" width="3" height="3" fill="#ffed00"/><rect x="512" y="68" width="3" height="3" fill="#ffe700"/><rect x="515" y="68" width="3" height="3" fill="#ffe200"/><rect x="518" y="68" width="3" height="3" fill="#ffdd00"/><rect x="521" y="68" width="3" height="3" fill="#ffd800"/><rect x="524" y="68" width="3" height="3" fill="#ffd400"/><rect x="527" y="68" width="3" height="3" fill="#ffcf00"/><rect x="530" y="68" width="3" height="3" fill="#ffcb00"/><rect x="533" y="68" width="3" height="3" fill="#ffc700"/><rect x="536" y="68" width="3" height="3" fill="#ffc400"/><rect x="539" y="68" width="3" height="3" fill="#ffc000"/><rect x="542" y="68" width="3" height="3" fill="#ffbd00"/><rect x="545" y="68" width="3" height="3" fill="#ffba00"/><rect x="548" y="68" width="3" height="3" fill="#ffb700"/><rect x="551" y="68" width="3" height="3" fill="#ffb400"/><rect x="554" y="68" width="3" height="3" fill="#ffb100"/><rect x="557" y="68" width="3" height="3" fill="#ffaf00"/><rect x="560" y="68" width="3" height="3" fill="#ffac00"/><rect x="563" y="68" width="3" height="3" fill="#ffaa00"/><rect x="566" y="68" width="3" height="3" fill="#ffa700"/><rect x="569" y="68" width="3" height="3" fill="#ffa500"/><rect x="572" y="68" width="3" height="3" fill="#ffa300"/><rect x="575" y="68" width="3" height="3" fill="#ffa100"/><rect x="347" y="71" width="3" height="3" fill="#00edb0"/><rect x="350" y="71" width="3" height="3" fill="#00edaf"/><rect x="353" y="71" width="3" height="3" fill="#00edad"/><rect x="356" y="71" width="3" height="3" fill="#00edac"/><rect x="359" y="71" width="3" height="3" fill="#00edaa"/><rect x="362" y="71" width="3" height="3" fill="#00eda8"/><rect x="365" y="71" width="3" height="3" fill="#00eda7"/><rect x="368" y="71" width="3" height="3" fill="#00eda5"/><rect x="371" y="71" width="3" height="3" fill="#00eda3"/><rect x="374" y="71" width="3" height="3" fill="#00eda1"/><rect x="377" y="71" width="3" height="3" fill="#00ed9f"/><rect x="380" y="71" width="3" height="3" fill="#00ed9c"/><rect x="383" y="71" width="3" height="3" fill="#00ed9a"/><rect x="386" y="71" width="3" height="3" fill="#00ed97"/><rect x="389" y="71" width="3" height="3" fill="#00ed94"/><rect x="392" y="71" width="3" height="3" fill="#00ed91"/><rect x="395" y="71" width="3" height="3" fill="#00ed8e"/><rect x="398" y="71" width="3" height="3" fill="#00ed8b"/><rect x="401" y="71" width="3" height="3" fill="#00ed87"/><rect x="404" y="71" width="3" height="3" fill="#00ed83"/><rect x="407" y="71" width="3" height="3" fill="#00ed7e"/><rect x="410" y="71" width="3" height="3" fill="#00ed79"/><rect x="413" y="71" width="3" height="3" fill="#00ed74"/><rect x="416" y="71" width="3" height="3" fill="#00ed6e"/><rect x="419" y="71" width="3" height="3" fill="#00ed67"/><rect x="422" y="71" width="3" height="3" fill="#00ed60"/><rect x="425" y="71" width="3" height="3" fill="#00ed57"/><rect x="428" y="71" width="3" height="3" fill="#00ed4d"/><rect x="431" y="71" width="3" height="3" fill="#00ed40"/><rect x="434" y="71" width="3" height="3" fill="#00ed30"/><rect x="437" y="71" width="3" height="3" fill="#00ed18"/><rect x="440" y="71" width="3" height="3" fill="#1ded00"/><rect x="443" y="71" width="3" height="3" fill="#39ff00"/><rect x="446" y="71" width="3" height="3" fill="#4cff00"/><rect x="449" y="71" width="3" height="3" fill="#5dff00"/><rect x="452" y="71" width="3" height="3" fill="#6bff00"/><rect x="455" y="71" width="3" height="3" fill="#78ff00"/><rect x="458" y="71" width="3" height="3" fill="#85ff00"/><rect x="461" y="71" width="3" height="3" fill="#90ff00"/><rect x="464" y="71" width="3" height="3" fill="#9bff00"/><rect x="467" y="71" width="3" height="3" fill="#a5ff00"/><rect x="470" y="71" width="3" height="3" fill="#afff00"/><rect x="473" y="71" width="3" height="3" fill="#b9ff00"/><rect x="476" y="71" width="3" height="3" fill="#c2ff00"/><rect x="479" y="71" width="3" height="3" fill="#cbff00"/><rect x="482" y="71" width="3" height="3" fill="#d4ff00"/><rect x="485" y="71" width="3" height="3" fill="#dcff00"/><rect x="488" y="71" width="3" height="3" fill="#e5ff00"/><rect x="491" y="71" width="3" height="3" fill="#edff00"/><rect x="494" y="71" width="3" height="3" fill="#f4ff00"/><rect x="497" y="71" width="3" height="3" fill="#fcff00"/><rect x="500" y="71" width="3" height="3" fill="#fffa00"/><rect x="503" y="71" width="3" height="3" fill="#fff400"/><rect x="506" y="71" width="3" height="3" fill="#ffed00"/><rect x="509" y="71" width="3" height="3" fill="#ffe700"/><rect x="512" y="71" width="3" height="3" fill="#ffe200"/><rect x="515" y="71" width="3" height="3" fill="#ffdc00"/><rect x="518" y="71" width="3" height="3" fill="#ffd700"/><rect x="521" y="71" width="3" height="3" fill="#ffd300"/><rect x="524" y="71" width="3" height="3" fill="#ffce00"/><rect x="527" y="71" width="3" height="3" fill="#ffca00"/><rect x="530" y="71" width="3" height="3" fill="#ffc600"/><rect x="533" y="71" width="3" height="3" fill="#ffc300"/><rect x="536" y="71" width="3" height="3" fill="#ffbf00"/><rect x="539" y="71" width="3" height="3" fill="#ffbc00"/><rect x="542" y="71" width="3" height="3" fill="#ffb800"/><rect x="545" y="71" width="3" height="3" fill="#ffb500"/><rect x="548" y="71" width="3" height="3" fill="#ffb200"/><rect x="551" y="71" width="3" height="3" fill="#ffb000"/><rect x="554" y="71" width="3" height="3" fill="#ffad00"/><rect x="557" y="71" width="3" height="3" fill="#ffaa00"/><rect x="560" y="71" width="3" height="3" fill="#ffa800"/><rect x="563" y="71" width="3" height="3" fill="#ffa500"/><rect x="566" y="71" width="3" height="3" fill="#ffa300"/><rect x="569" y="71" width="3" height="3" fill="#ffa100"/><rect x="572" y="71" width="3" height="3" fill="#ff9f00"/><rect x="575" y="71" width="3" height="3" fill="#ff9d00"/><rect x="347" y="74" width="3" height="3" fill="#00edb2"/><rect x="350" y="74" width="3" height="3" fill="#00edb1"/><rect x="353" y="74" width="3" height="3" fill="#00edaf"/><rect x="356" y="74" width="3" height="3" fill="#00edae"/><rect x="359" y="74" width="3" height="3" fill="#00edac"/><rect x="362" y="74" width="3" height="3" fill="#00edab"/><rect x="365" y="74" width="3" height="3" fill="#00eda9"/><rect x="368" y="74" width="3" height="3" fill="#00eda7"/><rect x="371" y="74" width="3" height="3" fill="#00eda5"/><rect x="374" y="74" width="3" height="3" fill="#00eda3"/><rect x="377" y="74" width="3" height="3" fill="#00eda1"/><rect x="380" y="74" width="3" height="3" fill="#00ed9f"/><rect x="383" y="74" width="3" height="3" fill="#00ed9c"/><rect x="386" y="74" width="3" height="3" fill="#00ed9a"/><rect x="389" y="74" width="3" height="3" fill="#00ed97"/><rect x="392" y="74" width="3" height="3" fill="#00ed94"/><rect x="395" y="74" width="3" height="3" fill="#00ed91"/><rect x="398" y="74" width="3" height="3" fill="#00ed8d"/><rect x="401" y="74" width="3" height="3" fill="#00ed89"/><rect x="404" y="74" width="3" height="3" fill="#00ed85"/><rect x="407" y="74" width="3" height="3" fill="#00ed81"/><rect x="410" y="74" width="3" height="3" fill="#00ed7c"/><rect x="413" y="74" width="3" height="3" fill="#00ed77"/><rect x="416" y="74" width="3" height="3" fill="#00ed71"/><rect x="419" y="74" width="3" height="3" fill="#00ed6a"/><rect x="422" y="74" width="3" height="3" fill="#00ed62"/><rect x="425" y="74" width="3" height="3" fill="#00ed59"/><rect x="428" y="74" width="3" height="3" fill="#00ed4f"/><rect x="431" y="74" width="3" height="3" fill="#00ed43"/><rect x="434" y="74" width="3" height="3" fill="#00ed33"/><rect x="437" y="74" width="3" height="3" fill="#00ed1b"/><rect x="440" y="74" width="3" height="3" fill="#1ced00"/><rect x="443" y="74" width="3" height="3" fill="#39ff00"/><rect x="446" y="74" width="3" height="3" fill="#4dff00"/><rect x="449" y="74" width="3" height="3" fill="#5eff00"/><rect x="452" y="74" width="3" height="3" fill="#6dff00"/><rect x="455" y="74" width="3" height="3" fill="#7bff00"/><rect x="458" y="74" width="3" height="3" fill="#87ff00"/><rect x="461" y="74" width="3" height="3" fill="#93ff00"/><rect x="464" y="74" width="3" height="3" fill="#9fff00"/><rect x="467" y="74" width="3" height="3" fill="#a9ff00"/><rect x="470" y="74" width="3" height="3" fill="#b4ff00"/><rect x="473" y="74" width="3" height="3" fill="#bdff00"/><rect x="476" y="74" width="3" height="3" fill="#c7ff00"/><rect x="479" y="74" width="3" height="3" fill="#d0ff00"/><rect x="482" y="74" width="3" height="3" fill="#d9ff00"/><rect x="485" y="74" width="3" height="3" fill="#e2ff00"/><rect x="488" y="74" width="3" height="3" fill="#eaff00"/><rect x="491" y="74" width="3" height="3" fill="#f3ff00"/><rect x="494" y="74" width="3" height="3" fill="#fbff00"/><rect x="497" y="74" width="3" height="3" fill="#fffc00"/><rect x="500" y="74" width="3" height="3" fill="#fff400"/><rect x="503" y="74" width="3" height="3" fill="#ffed00"/><rect x="506" y="74" width="3" height="3" fill="#ffe700"/><rect x="509" y="74" width="3" height="3" fill="#ffe100"/><rect x="512" y="74" width="3" height="3" fill="#ffdc00"/><rect x="515" y="74" width="3" height="3" fill="#ffd700"/><rect x="518" y="74" width="3" height="3" fill="#ffd200"/><rect x="521" y="74" width="3" height="3" fill="#ffcd00"/><rect x="524" y="74" width="3" height="3" fill="#ffc900"/><rect x="527" y="74" width="3" height="3" fill="#ffc500"/><rect x="530" y="74" width="3" height="3" fill="#ffc100"/><rect x="533" y="74" width="3" height="3" fill="#ffbe00"/><rect x="536" y="74" width="3" height="3" fill="#ffba00"/><rect x="539" y="74" width="3" height="3" fill="#ffb700"/><rect x="542" y="74" width="3" height="3" fill="#ffb400"/><rect x="545" y="74" width="3" height="3" fill="#ffb100"/><rect x="548" y="74" width="3" height="3" fill="#ffae00"/><rect x="551" y="74" width="3" height="3" fill="#ffab00"/><rect x="554" y="74" width="3" height="3" fill="#ffa800"/><rect x="557" y="74" width="3" height="3" fill="#ffa600"/><rect x="560" y="74" width="3" height="3" fill="#ffa300"/><rect x="563" y="74" width="3" height="3" fill="#ffa100"/><rect x="566" y="74" width="3" height="3" fill="#ff9f00"/><rect x="569" y="74" width="3" height="3" fill="#ff9d00"/><rect x="572" y="74" width="3" height="3" fill="#ff9b00"/><rect x="575" y="74" width="3" height="3" fill="#ff9900"/><rect x="347" y="77" width="3" height="3" fill="#00edb4"/><rect x="350" y="77" width="3" height="3" fill="#00edb3"/><rect x="353" y="77" width="3" height="3" fill="#00edb1"/><rect x="356" y="77" width="3" height="3" fill="#00edb0"/><rect x="359" y="77" width="3" height="3" fill="#00edae"/><rect x="362" y="77" width="3" height="3" fill="#00edad"/><rect x="365" y="77" width="3" height="3" fill="#00edab"/><rect x="368" y="77" width="3" height="3" fill="#00eda9"/><rect x="371" y="77" width="3" height="3" fill="#00eda7"/><rect x="374" y="77" width="3" height="3" fill="#00eda5"/><rect x="377" y="77" width="3" height="3" fill="#00eda3"/><rect x="380" y="77" width="3" height="3" fill="#00eda1"/><rect x="383" y="77" width="3" height="3" fill="#00ed9f"/><rect x="386" y="77" width="3" height="3" fill="#00ed9c"/><rect x="389" y="77" width="3" height="3" fill="#00ed99"/><rect x="392" y="77" width="3" height="3" fill="#00ed96"/><rect x="395" y="77" width="3" height="3" fill="#00ed93"/><rect x="398" y="77" width="3" height="3" fill="#00ed90"/><rect x="401" y="77" width="3" height="3" fill="#00ed8c"/><rect x="404" y="77" width="3" height="3" fill="#00ed88"/><rect x="407" y="77" width="3" height="3" fill="#00ed83"/><rect x="410" y="77" width="3" height="3" fill="#00ed7f"/><rect x="413" y="77" width="3" height="3" fill="#00ed79"/><rect x="416" y="77" width="3" height="3" fill="#00ed73"/><rect x="419" y="77" width="3" height="3" fill="#00ed6d"/><rect x="422" y="77" width="3" height="3" fill="#00ed65"/><rect x="425" y="77" width="3" height="3" fill="#00ed5c"/><rect x="428" y="77" width="3" height="3" fill="#00ed52"/><rect x="431" y="77" width="3" height="3" fill="#00ed45"/><rect x="434" y="77" width="3" height="3" fill="#00ed35"/><rect x="437" y="77" width="3" height="3" fill="#00ed1e"/><rect x="440" y="77" width="3" height="3" fill="#1dff00"/><rect x="443" y="77" width="3" height="3" fill="#39ff00"/><rect x="446" y="77" width="3" height="3" fill="#4eff00"/><rect x="449" y="77" width="3" height="3" fill="#60ff00"/><rect x="452" y="77" width="3" height="3" fill="#6fff00"/><rect x="455" y="77" width="3" height="3" fill="#7dff00"/><rect x="458" y="77" width="3" height="3" fill="#8aff00"/><rect x="461" y="77" width="3" height="3" fill="#97ff00"/><rect x="464" y="77" width="3" height="3" fill="#a2ff00"/><rect x="467" y="77" width="3" height="3" fill="#adff00"/><rect x="470" y="77" width="3" height="3" fill="#b8ff00"/><rect x="473" y="77" width="3" height="3" fill="#c2ff00"/><rect x="476" y="77" width="3" height="3" fill="#ccff00"/><rect x="479" y="77" width="3" height="3" fill="#d6ff00"/><rect x="482" y="77" width="3" height="3" fill="#dfff00"/><rect x="485" y="77" width="3" height="3" fill="#e8ff00"/><rect x="488" y="77" width="3" height="3" fill="#f0ff00"/><rect x="491" y="77" width="3" height="3" fill="#f9ff00"/><rect x="494" y="77" width="3" height="3" fill="#fffd00"/><rect x="497" y="77" width="3" height="3" fill="#fff500"/><rect x="500" y="77" width="3" height="3" fill="#ffee00"/><rect x="503" y="77" width="3" height="3" fill="#ffe700"/><rect x="506" y="77" width="3" height="3" fill="#ffe100"/><rect x="509" y="77" width="3" height="3" fill="#ffdb00"/><rect x="512" y="77" width="3" height="3" fill="#ffd600"/><rect x="515" y="77" width="3" height="3" fill="#ffd100"/><rect x="518" y="77" width="3" height="3" fill="#ffcc00"/><rect x="521" y="77" width="3" height="3" fill="#ffc800"/><rect x="524" y="77" width="3" height="3" fill="#ffc400"/><rect x="527" y="77" width="3" height="3" fill="#ffc000"/><rect x="530" y="77" width="3" height="3" fill="#ffbc00"/><rect x="533" y="77" width="3" height="3" fill="#ffb900"/><rect x="536" y="77" width="3" height="3" fill="#ffb500"/><rect x="539" y="77" width="3" height="3" fill="#ffb200"/><rect x="542" y="77" width="3" height="3" fill="#ffaf00"/><rect x="545" y="77" width="3" height="3" fill="#ffac00"/><rect x="548" y="77" width="3" height="3" fill="#ffa900"/><rect x="551" y="77" width="3" height="3" fill="#ffa600"/><rect x="554" y="77" width="3" height="3" fill="#ffa400"/><rect x="557" y="77" width="3" height="3" fill="#ffa100"/><rect x="560" y="77" width="3" height="3" fill="#ff9f00"/><rect x="563" y="77" width="3" height="3" fill="#ff9d00"/><rect x="566" y="77" width="3" height="3" fill="#ff9b00"/><rect x="569" y="77" width="3" height="3" fill="#ff9800"/><rect x="572" y="77" width="3" height="3" fill="#ff9600"/><rect x="575" y="77" width="3" height="3" fill="#ff9400"/><rect x="347" y="80" width="3" height="3" fill="#00edb6"/><rect x="350" y="80" width="3" height="3" fill="#00edb5"/><rect x="353" y="80" width="3" height="3" fill="#00edb3"/><rect x="356" y="80" width="3" height="3" fill="#00edb2"/><rect x="359" y="80" width="3" height="3" fill="#00edb1"/><rect x="362" y="80" width="3" height="3" fill="#00edaf"/><rect x="365" y="80" width="3" height="3" fill="#00edad"/><rect x="368" y="80" width="3" height="3" fill="#00edac"/><rect x="371" y="80" width="3" height="3" fill="#00edaa"/><rect x="374" y="80" width="3" height="3" fill="#00eda8"/><rect x="377" y="80" width="3" height="3" fill="#00eda6"/><rect x="380" y="80" width="3" height="3" fill="#00eda3"/><rect x="383" y="80" width="3" height="3" fill="#00eda1"/><rect x="386" y="80" width="3" height="3" fill="#00ed9e"/><rect x="389" y="80" width="3" height="3" fill="#00ed9c"/><rect x="392" y="80" width="3" height="3" fill="#00ed99"/><rect x="395" y="80" width="3" height="3" fill="#00ed96"/><rect x="398" y="80" width="3" height="3" fill="#00ed92"/><rect x="401" y="80" width="3" height="3" fill="#00ed8f"/><rect x="404" y="80" width="3" height="3" fill="#00ed8b"/><rect x="407" y="80" width="3" height="3" fill="#00ed86"/><rect x="410" y="80" width="3" height="3" fill="#00ed81"/><rect x="413" y="80" width="3" height="3" fill="#00ed7c"/><rect x="416" y="80" width="3" height="3" fill="#00ed76"/><rect x="419" y="80" width="3" height="3" fill="#00ed6f"/><rect x="422" y="80" width="3" height="3" fill="#00ed68"/><rect x="425" y="80" width="3" height="3" fill="#00ed5f"/><rect x="428" y="80" width="3" height="3" fill="#00ed54"/><rect x="431" y="80" width="3" height="3" fill="#00ed48"/><rect x="434" y="80" width="3" height="3" fill="#00ed38"/><rect x="437" y="80" width="3" height="3" fill="#00ed21"/><rect x="440" y="80" width="3" height="3" fill="#20ff0e"/><rect x="443" y="80" width="3" height="3" fill="#3aff00"/><rect x="446" y="80" width="3" height="3" fill="#4fff00"/><rect x="449" y="80" width="3" height="3" fill="#62ff00"/><rect x="452" y="80" width="3" height="3" fill="#72ff00"/><rect x="455" y="80" width="3" height="3" fill="#80ff00"/><rect x="458" y="80" width="3" height="3" fill="#8eff00"/><rect x="461" y="80" width="3" height="3" fill="#9aff00"/><rect x="464" y="80" width="3" height="3" fill="#a7ff00"/><rect x="467" y="80" width="3" height="3" fill="#b2ff00"/><rect x="470" y="80" width="3" height="3" fill="#bdff00"/><rect x="473" y="80" width="3" height="3" fill="#c7ff00"/><rect x="476" y="80" width="3" height="3" fill="#d2ff00"/><rect x="479" y="80" width="3" height="3" fill="#dbff00"/><rect x="482" y="80" width="3" height="3" fill="#e5ff00"/><rect x="485" y="80" width="3" height="3" fill="#eeff00"/><rect x="488" y="80" width="3" height="3" fill="#f7ff00"/><rect x="491" y="80" width="3" height="3" fill="#fffe00"/><rect x="494" y="80" width="3" height="3" fill="#fff600"/><rect x="497" y="80" width="3" height="3" fill="#ffee00"/><rect x="500" y="80" width="3" height="3" fill="#ffe700"/><rect x="503" y="80" width="3" height="3" fill="#ffe100"/><rect x="506" y="80" width="3" height="3" fill="#ffdb00"/><rect x="509" y="80" width="3" height="3" fill="#ffd500"/><rect x="512" y="80" width="3" height="3" fill="#ffd000"/><rect x="515" y="80" width="3" height="3" fill="#ffcb00"/><rect x="518" y="80" width="3" height="3" fill="#ffc700"/><rect x="521" y="80" width="3" height="3" fill="#ffc200"/><rect x="524" y="80" width="3" height="3" fill="#ffbe00"/><rect x="527" y="80" width="3" height="3" fill="#ffba00"/><rect x="530" y="80" width="3" height="3" fill="#ffb700"/><rect x="533" y="80" width="3" height="3" fill="#ffb300"/><rect x="536" y="80" width="3" height="3" fill="#ffb000"/><rect x="539" y="80" width="3" height="3" fill="#ffad00"/><rect x="542" y="80" width="3" height="3" fill="#ffaa00"/><rect x="545" y="80" width="3" height="3" fill="#ffa700"/><rect x="548" y="80" width="3" height="3" fill="#ffa400"/><rect x="551" y="80" width="3" height="3" fill="#ffa200"/><rect x="554" y="80" width="3" height="3" fill="#ff9f00"/><rect x="557" y="80" width="3" height="3" fill="#ff9d00"/><rect x="560" y="80" width="3" height="3" fill="#ff9b00"/><rect x="563" y="80" width="3" height="3" fill="#ff9800"/><rect x="566" y="80" width="3" height="3" fill="#ff9600"/><rect x="569" y="80" width="3" height="3" fill="#ff9400"/><rect x="572" y="80" width="3" height="3" fill="#ff9200"/><rect x="575" y="80" width="3" height="3" fill="#ff9000"/><rect x="347" y="83" width="3" height="3" fill="#00edb8"/><rect x="350" y="83" width="3" height="3" fill="#00edb7"/><rect x="353" y="83" width="3" height="3" fill="#00edb6"/><rect x="356" y="83" width="3" height="3" fill="#00edb4"/><rect x="359" y="83" width="3" height="3" fill="#00edb3"/><rect x="362" y="83" width="3" height="3" fill="#00edb1"/><rect x="365" y="83" width="3" height="3" fill="#00edb0"/><rect x="368" y="83" width="3" height="3" fill="#00edae"/><rect x="371" y="83" width="3" height="3" fill="#00edac"/><rect x="374" y="83" width="3" height="3" fill="#00edaa"/><rect x="377" y="83" width="3" height="3" fill="#00eda8"/><rect x="380" y="83" width="3" height="3" fill="#00eda6"/><rect x="383" y="83" width="3" height="3" fill="#00eda4"/><rect x="386" y="83" width="3" height="3" fill="#00eda1"/><rect x="389" y="83" width="3" height="3" fill="#00ed9e"/><rect x="392" y="83" width="3" height="3" fill="#00ed9c"/><rect x="395" y="83" width="3" height="3" fill="#00ed98"/><rect x="398" y="83" width="3" height="3" fill="#00ed95"/><rect x="401" y="83" width="3" height="3" fill="#00ed91"/><rect x="404" y="83" width="3" height="3" fill="#00ed8d"/><rect x="407" y="83" width="3" height="3" fill="#00ed89"/><rect x="410" y="83" width="3" height="3" fill="#00ed84"/><rect x="413" y="83" width="3" height="3" fill="#00ed7f"/><rect x="416" y="83" width="3" height="3" fill="#00ed79"/><rect x="419" y="83" width="3" height="3" fill="#00ed72"/><rect x="422" y="83" width="3" height="3" fill="#00ed6b"/><rect x="425" y="83" width="3" height="3" fill="#00ed62"/><rect x="428" y="83" width="3" height="3" fill="#00ed57"/><rect x="431" y="83" width="3" height="3" fill="#00ed4b"/><rect x="434" y="83" width="3" height="3" fill="#00ed3b"/><rect x="437" y="83" width="3" height="3" fill="#05ff27"/><rect x="440" y="83" width="3" height="3" fill="#2bff20"/><rect x="443" y="83" width="3" height="3" fill="#40ff17"/><rect x="446" y="83" width="3" height="3" fill="#52ff0b"/><rect x="449" y="83" width="3" height="3" fill="#64ff00"/><rect x="452" y="83" width="3" height="3" fill="#74ff00"/><rect x="455" y="83" width="3" height="3" fill="#83ff00"/><rect x="458" y="83" width="3" height="3" fill="#91ff00"/><rect x="461" y="83" width="3" height="3" fill="#9fff00"/><rect x="464" y="83" width="3" height="3" fill="#abff00"/><rect x="467" y="83" width="3" height="3" fill="#b7ff00"/><rect x="470" y="83" width="3" height="3" fill="#c2ff00"/><rect x="473" y="83" width="3" height="3" fill="#cdff00"/><rect x="476" y="83" width="3" height="3" fill="#d8ff00"/><rect x="479" y="83" width="3" height="3" fill="#e2ff00"/><rect x="482" y="83" width="3" height="3" fill="#ecff00"/><rect x="485" y="83" width="3" height="3" fill="#f5ff00"/><rect x="488" y="83" width="3" height="3" fill="#feff00"/><rect x="491" y="83" width="3" height="3" fill="#fff700"/><rect x="494" y="83" width="3" height="3" fill="#ffef00"/><rect x="497" y="83" width="3" height="3" fill="#ffe700"/><rect x="500" y="83" width="3" height="3" fill="#ffe100"/><rect x="503" y="83" width="3" height="3" fill="#ffda00"/><rect x="506" y="83" width="3" height="3" fill="#ffd500"/><rect x="509" y="83" width="3" height="3" fill="#ffcf00"/><rect x="512" y="83" width="3" height="3" fill="#ffca00"/><rect x="515" y="83" width="3" height="3" fill="#ffc500"/><rect x="518" y="83" width="3" height="3" fill="#ffc100"/><rect x="521" y="83" width="3" height="3" fill="#ffbd00"/><rect x="524" y="83" width="3" height="3" fill="#ffb900"/><rect x="527" y="83" width="3" height="3" fill="#ffb500"/><rect x="530" y="83" width="3" height="3" fill="#ffb100"/><rect x="533" y="83" width="3" height="3" fill="#ffae00"/><rect x="536" y="83" width="3" height="3" fill="#ffab00"/><rect x="539" y="83" width="3" height="3" fill="#ffa800"/><rect x="542" y="83" width="3" height="3" fill="#ffa500"/><rect x="545" y="83" width="3" height="3" fill="#ffa200"/><rect x="548" y="83" width="3" height="3" fill="#ff9f00"/><rect x="551" y="83" width="3" height="3" fill="#ff9d00"/><rect x="554" y="83" width="3" height="3" fill="#ff9a00"/><rect x="557" y="83" width="3" height="3" fill="#ff9800"/><rect x="560" y="83" width="3" height="3" fill="#ff9600"/><rect x="563" y="83" width="3" height="3" fill="#ff9400"/><rect x="566" y="83" width="3" height="3" fill="#ff9200"/><rect x="569" y="83" width="3" height="3" fill="#ff9000"/><rect x="572" y="83" width="3" height="3" fill="#ff8e00"/><rect x="575" y="83" width="3" height="3" fill="#ff8c00"/><rect x="347" y="86" width="3" height="3" fill="#00edba"/><rect x="350" y="86" width="3" height="3" fill="#00edb9"/><rect x="353" y="86" width="3" height="3" fill="#00edb8"/><rect x="356" y="86" width="3" height="3" fill="#00edb6"/><rect x="359" y="86" width="3" height="3" fill="#00edb5"/><rect x="362" y="86" width="3" height="3" fill="#00edb4"/><rect x="365" y="86" width="3" height="3" fill="#00edb2"/><rect x="368" y="86" width="3" height="3" fill="#00edb0"/><rect x="371" y="86" width="3" height="3" fill="#00edaf"/><rect x="374" y="86" width="3" height="3" fill="#00edad"/><rect x="377" y="86" width="3" height="3" fill="#00edab"/><rect x="380" y="86" width="3" height="3" fill="#00eda9"/><rect x="383" y="86" width="3" height="3" fill="#00eda6"/><rect x="386" y="86" width="3" height="3" fill="#00eda4"/><rect x="389" y="86" width="3" height="3" fill="#00eda1"/><rect x="392" y="86" width="3" height="3" fill="#00ed9e"/><rect x="395" y="86" width="3" height="3" fill="#00ed9b"/><rect x="398" y="86" width="3" height="3" fill="#00ed98"/><rect x="401" y="86" width="3" height="3" fill="#00ed94"/><rect x="404" y="86" width="3" height="3" fill="#00ed90"/><rect x="407" y="86" width="3" height="3" fill="#00ed8c"/><rect x="410" y="86" width="3" height="3" fill="#00ed87"/><rect x="413" y="86" width="3" height="3" fill="#00ed82"/><rect x="416" y="86" width="3" height="3" fill="#00ed7c"/><rect x="419" y="86" width="3" height="3" fill="#00ed75"/><rect x="422" y="86" width="3" height="3" fill="#00ed6e"/><rect x="425" y="86" width="3" height="3" fill="#00ed65"/><rect x="428" y="86" width="3" height="3" fill="#00ed5b"/><rect x="431" y="86" width="3" height="3" fill="#00ed4e"/><rect x="434" y="86" width="3" height="3" fill="#00ed3e"/><rect x="437" y="86" width="3" height="3" fill="#19ff33"/><rect x="440" y="86" width="3" height="3" fill="#34ff2d"/><rect x="443" y="86" width="3" height="3" fill="#48ff27"/><rect x="446" y="86" width="3" height="3" fill="#59ff1f"/><rect x="449" y="86" width="3" height="3" fill="#69ff15"/><rect x="452" y="86" width="3" height="3" fill="#77ff04"/><rect x="455" y="86" width="3" height="3" fill="#87ff00"/><rect x="458" y="86" width="3" height="3" fill="#95ff00"/><rect x="461" y="86" width="3" height="3" fill="#a3ff00"/><rect x="464" y="86" width="3" height="3" fill="#b0ff00"/><rect x="467" y="86" width="3" height="3" fill="#bcff00"/><rect x="470" y="86" width="3" height="3" fill="#c8ff00"/><rect x="473" y="86" width="3" height="3" fill="#d3ff00"/><rect x="476" y="86" width="3" height="3" fill="#deff00"/><rect x="479" y="86" width="3" height="3" fill="#e9ff00"/><rect x="482" y="86" width="3" height="3" fill="#f3ff00"/><rect x="485" y="86" width="3" height="3" fill="#fdff00"/><rect x="488" y="86" width="3" height="3" fill="#fff800"/><rect x="491" y="86" width="3" height="3" fill="#ffef00"/><rect x="494" y="86" width="3" height="3" fill="#ffe700"/><rect x="497" y="86" width="3" height="3" fill="#ffe000"/><rect x="500" y="86" width="3" height="3" fill="#ffda00"/><rect x="503" y="86" width="3" height="3" fill="#ffd400"/><rect x="506" y="86" width="3" height="3" fill="#ffce00"/><rect x="509" y="86" width="3" height="3" fill="#ffc900"/><rect x="512" y="86" width="3" height="3" fill="#ffc400"/><rect x="515" y="86" width="3" height="3" fill="#ffbf00"/><rect x="518" y="86" width="3" height="3" fill="#ffbb00"/><rect x="521" y="86" width="3" height="3" fill="#ffb700"/><rect x="524" y="86" width="3" height="3" fill="#ffb300"/><rect x="527" y="86" width="3" height="3" fill="#ffaf00"/><rect x="530" y="86" width="3" height="3" fill="#ffac00"/><rect x="533" y="86" width="3" height="3" fill="#ffa900"/><rect x="536" y="86" width="3" height="3" fill="#ffa500"/><rect x="539" y="86" width="3" height="3" fill="#ffa200"/><rect x="542" y="86" width="3" height="3" fill="#ffa000"/><rect x="545" y="86" width="3" height="3" fill="#ff9d00"/><rect x="548" y="86" width="3" height="3" fill="#ff9a00"/><rect x="551" y="86" width="3" height="3" fill="#ff9800"/><rect x="554" y="86" width="3" height="3" fill="#ff9600"/><rect x="557" y="86" width="3" height="3" fill="#ff9300"/><rect x="560" y="86" width="3" height="3" fill="#ff9100"/><rect x="563" y="86" width="3" height="3" fill="#ff8f00"/><rect x="566" y="86" width="3" height="3" fill="#ff8d00"/><rect x="569" y="86" width="3" height="3" fill="#ff8b00"/><rect x="572" y="86" width="3" height="3" fill="#ff8900"/><rect x="575" y="86" width="3" height="3" fill="#ff8700"/><rect x="347" y="89" width="3" height="3" fill="#00edbd"/><rect x="350" y="89" width="3" height="3" fill="#00edbb"/><rect x="353" y="89" width="3" height="3" fill="#00edba"/><rect x="356" y="89" width="3" height="3" fill="#00edb9"/><rect x="359" y="89" width="3" height="3" fill="#00edb7"/><rect x="362" y="89" width="3" height="3" fill="#00edb6"/><rect x="365" y="89" width="3" height="3" fill="#00edb4"/><rect x="368" y="89" width="3" height="3" fill="#00edb3"/><rect x="371" y="89" width="3" height="3" fill="#00edb1"/><rect x="374" y="89" width="3" height="3" fill="#00edaf"/><rect x="377" y="89" width="3" height="3" fill="#00edad"/><rect x="380" y="89" width="3" height="3" fill="#00edab"/><rect x="383" y="89" width="3" height="3" fill="#00eda9"/><rect x="386" y="89" width="3" height="3" fill="#00eda7"/><rect x="389" y="89" width="3" height="3" fill="#00eda4"/><rect x="392" y="89" width="3" height="3" fill="#00eda1"/><rect x="395" y="89" width="3" height="3" fill="#00ed9e"/><rect x="398" y="89" width="3" height="3" fill="#00ed9b"/><rect x="401" y="89" width="3" height="3" fill="#00ed97"/><rect x="404" y="89" width="3" height="3" fill="#00ed94"/><rect x="407" y="89" width="3" height="3" fill="#00ed8f"/><rect x="410" y="89" width="3" height="3" fill="#00ed8b"/><rect x="413" y="89" width="3" height="3" fill="#00ed85"/><rect x="416" y="89" width="3" height="3" fill="#00ed7f"/><rect x="419" y="89" width="3" height="3" fill="#00ed79"/><rect x="422" y="89" width="3" height="3" fill="#00ed71"/><rect x="425" y="89" width="3" height="3" fill="#00ed68"/><rect x="428" y="89" width="3" height="3" fill="#00ed5e"/><rect x="431" y="89" width="3" height="3" fill="#00ed51"/><rect x="434" y="89" width="3" height="3" fill="#00ed41"/><rect x="437" y="89" width="3" height="3" fill="#26ff3e"/><rect x="440" y="89" width="3" height="3" fill="#3dff39"/><rect x="443" y="89" width="3" height="3" fill="#50ff33"/><rect x="446" y="89" width="3" height="3" fill="#61ff2d"/><rect x="449" y="89" width="3" height="3" fill="#70ff26"/><rect x="452" y="89" width="3" height="3" fill="#7fff1d"/><rect x="455" y="89" width="3" height="3" fill="#8cff12"/><rect x="458" y="89" width="3" height="3" fill="#9aff00"/><rect x="461" y="89" width="3" height="3" fill="#a8ff00"/><rect x="464" y="89" width="3" height="3" fill="#b5ff00"/><rect x="467" y="89" width="3" height="3" fill="#c2ff00"/><rect x="470" y="89" width="3" height="3" fill="#ceff00"/><rect x="473" y="89" width="3" height="3" fill="#daff00"/><rect x="476" y="89" width="3" height="3" fill="#e5ff00"/><rect x="479" y="89" width="3" height="3" fill="#f0ff00"/><rect x="482" y="89" width="3" height="3" fill="#fbff00"/><rect x="485" y="89" width="3" height="3" fill="#fff900"/><rect x="488" y="89" width="3" height="3" fill="#fff000"/><rect x="491" y="89" width="3" height="3" fill="#ffe800"/><rect x="494" y="89" width="3" height="3" fill="#ffe000"/><rect x="497" y="89" width="3" height="3" fill="#ffd900"/><rect x="500" y="89" width="3" height="3" fill="#ffd300"/><rect x="503" y="89" width="3" height="3" fill="#ffcd00"/><rect x="506" y="89" width="3" height="3" fill="#ffc700"/><rect x="509" y="89" width="3" height="3" fill="#ffc200"/><rect x="512" y="89" width="3" height="3" fill="#ffbd00"/><rect x="515" y="89" width="3" height="3" fill="#ffb900"/><rect x="518" y="89" width="3" height="3" fill="#ffb500"/><rect x="521" y="89" width="3" height="3" fill="#ffb100"/><rect x="524" y="89" width="3" height="3" fill="#ffad00"/><rect x="527" y="89" width="3" height="3" fill="#ffa900"/><rect x="530" y="89" width="3" height="3" fill="#ffa600"/><rect x="533" y="89" width="3" height="3" fill="#ffa300"/><rect x="536" y="89" width="3" height="3" fill="#ffa000"/><rect x="539" y="89" width="3" height="3" fill="#ff9d00"/><rect x="542" y="89" width="3" height="3" fill="#ff9a00"/><rect x="545" y="89" width="3" height="3" fill="#ff9800"/><rect x="548" y="89" width="3" height="3" fill="#ff9500"/><rect x="551" y="89" width="3" height="3" fill="#ff9300"/><rect x="554" y="89" width="3" height="3" fill="#ff9100"/><rect x="557" y="89" width="3" height="3" fill="#ff8e00"/><rect x="560" y="89" width="3" height="3" fill="#ff8c00"/><rect x="563" y="89" width="3" height="3" fill="#ff8a00"/><rect x="566" y="89" width="3" height="3" fill="#ff8800"/><rect x="569" y="89" width="3" height="3" fill="#ff8600"/><rect x="572" y="89" width="3" height="3" fill="#ff8500"/><rect x="575" y="89" width="3" height="3" fill="#ff8300"/><rect x="347" y="92" width="3" height="3" fill="#00edbf"/><rect x="350" y="92" width="3" height="3" fill="#00edbe"/><rect x="353" y="92" width="3" height="3" fill="#00edbd"/><rect x="356" y="92" width="3" height="3" fill="#00edbb"/><rect x="359" y="92" width="3" height="3" fill="#00edba"/><rect x="362" y="92" width="3" height="3" fill="#00edb9"/><rect x="365" y="92" width="3" height="3" fill="#00edb7"/><rect x="368" y="92" width="3" height="3" fill="#00edb5"/><rect x="371" y="92" width="3" height="3" fill="#00edb4"/><rect x="374" y="92" width="3" height="3" fill="#00edb2"/><rect x="377" y="92" width="3" height="3" fill="#00edb0"/><rect x="380" y="92" width="3" height="3" fill="#00edae"/><rect x="383" y="92" width="3" height="3" fill="#00edac"/><rect x="386" y="92" width="3" height="3" fill="#00edaa"/><rect x="389" y="92" width="3" height="3" fill="#00eda7"/><rect x="392" y="92" width="3" height="3" fill="#00eda4"/><rect x="395" y="92" width="3" height="3" fill="#00eda1"/><rect x="398" y="92" width="3" height="3" fill="#00ed9e"/><rect x="401" y="92" width="3" height="3" fill="#00ed9b"/><rect x="404" y="92" width="3" height="3" fill="#00ed97"/><rect x="407" y="92" width="3" height="3" fill="#00ed93"/><rect x="410" y="92" width="3" height="3" fill="#00ed8e"/><rect x="413" y="92" width="3" height="3" fill="#00ed89"/><rect x="416" y="92" width="3" height="3" fill="#00ed83"/><rect x="419" y="92" width="3" height="3" fill="#00ed7c"/><rect x="422" y="92" width="3" height="3" fill="#00ed75"/><rect x="425" y="92" width="3" height="3" fill="#00ed6c"/><rect x="428" y="92" width="3" height="3" fill="#00ed61"/><rect x="431" y="92" width="3" height="3" fill="#00ed55"/><rect x="434" y="92" width="3" height="3" fill="#0fff4c"/><rect x="437" y="92" width="3" height="3" fill="#30ff48"/><rect x="440" y="92" width="3" height="3" fill="#46ff43"/><rect x="443" y="92" width="3" height="3" fill="#59ff3e"/><rect x="446" y="92" width="3" height="3" fill="#69ff39"/><rect x="449" y="92" width="3" height="3" fill="#78ff33"/><rect x="452" y="92" width="3" height="3" fill="#86ff2d"/><rect x="455" y="92" width="3" height="3" fill="#94ff25"/><rect x="458" y="92" width="3" height="3" fill="#a1ff1c"/><rect x="461" y="92" width="3" height="3" fill="#aeff0f"/><rect x="464" y="92" width="3" height="3" fill="#bbff00"/><rect x="467" y="92" width="3" height="3" fill="#c9ff00"/><rect x="470" y="92" width="3" height="3" fill="#d5ff00"/><rect x="473" y="92" width="3" height="3" fill="#e2ff00"/><rect x="476" y="92" width="3" height="3" fill="#edff00"/><rect x="479" y="92" width="3" height="3" fill="#f9ff00"/><rect x="482" y="92" width="3" height="3" fill="#fffa00"/><rect x="485" y="92" width="3" height="3" fill="#fff100"/><rect x="488" y="92" width="3" height="3" fill="#ffe800"/><rect x="491" y="92" width="3" height="3" fill="#ffe000"/><rect x="494" y="92" width="3" height="3" fill="#ffd800"/><rect x="497" y="92" width="3" height="3" fill="#ffd100"/><rect x="500" y="92" width="3" height="3" fill="#ffcb00"/><rect x="503" y="92" width="3" height="3" fill="#ffc600"/><rect x="506" y="92" width="3" height="3" fill="#ffc000"/><rect x="509" y="92" width="3" height="3" fill="#ffbb00"/><rect x="512" y="92" width="3" height="3" fill="#ffb700"/><rect x="515" y="92" width="3" height="3" fill="#ffb200"/><rect x="518" y="92" width="3" height="3" fill="#ffae00"/><rect x="521" y="92" width="3" height="3" fill="#ffaa00"/><rect x="524" y="92" width="3" height="3" fill="#ffa700"/><rect x="527" y="92" width="3" height="3" fill="#ffa300"/><rect x="530" y="92" width="3" height="3" fill="#ffa000"/><rect x="533" y="92" width="3" height="3" fill="#ff9d00"/><rect x="536" y="92" width="3" height="3" fill="#ff9a00"/><rect x="539" y="92" width="3" height="3" fill="#ff9700"/><rect x="542" y="92" width="3" height="3" fill="#ff9500"/><rect x="545" y="92" width="3" height="3" fill="#ff9200"/><rect x="548" y="92" width="3" height="3" fill="#ff9000"/><rect x="551" y="92" width="3" height="3" fill="#ff8e00"/><rect x="554" y="92" width="3" height="3" fill="#ff8b00"/><rect x="557" y="92" width="3" height="3" fill="#ff8900"/><rect x="560" y="92" width="3" height="3" fill="#ff8700"/><rect x="563" y="92" width="3" height="3" fill="#ff8500"/><rect x="566" y="92" width="3" height="3" fill="#ff8300"/><rect x="569" y="92" width="3" height="3" fill="#ff8200"/><rect x="572" y="92" width="3" height="3" fill="#ff8000"/><rect x="575" y="92" width="3" height="3" fill="#ff7e00"/><rect x="347" y="95" width="3" height="3" fill="#00edc1"/><rect x="350" y="95" width="3" height="3" fill="#00edc0"/><rect x="353" y="95" width="3" height="3" fill="#00edbf"/><rect x="356" y="95" width="3" height="3" fill="#00edbe"/><rect x="359" y="95" width="3" height="3" fill="#00edbc"/><rect x="362" y="95" width="3" height="3" fill="#00edbb"/><rect x="365" y="95" width="3" height="3" fill="#00edba"/><rect x="368" y="95" width="3" height="3" fill="#00edb8"/><rect x="371" y="95" width="3" height="3" fill="#00edb6"/><rect x="374" y="95" width="3" height="3" fill="#00edb5"/><rect x="377" y="95" width="3" height="3" fill="#00edb3"/><rect x="380" y="95" width="3" height="3" fill="#00edb1"/><rect x="383" y="95" width="3" height="3" fill="#00edaf"/><rect x="386" y="95" width="3" height="3" fill="#00edad"/><rect x="389" y="95" width="3" height="3" fill="#00edaa"/><rect x="392" y="95" width="3" height="3" fill="#00eda7"/><rect x="395" y="95" width="3" height="3" fill="#00eda5"/><rect x="398" y="95" width="3" height="3" fill="#00eda1"/><rect x="401" y="95" width="3" height="3" fill="#00ed9e"/><rect x="404" y="95" width="3" height="3" fill="#00ed9a"/><rect x="407" y="95" width="3" height="3" fill="#00ed96"/><rect x="410" y="95" width="3" height="3" fill="#00ed92"/><rect x="413" y="95" width="3" height="3" fill="#00ed8c"/><rect x="416" y="95" width="3" height="3" fill="#00ed87"/><rect x="419" y="95" width="3" height="3" fill="#00ed80"/><rect x="422" y="95" width="3" height="3" fill="#00ed79"/><rect x="425" y="95" width="3" height="3" fill="#00ed70"/><rect x="428" y="95" width="3" height="3" fill="#00ed65"/><rect x="431" y="95" width="3" height="3" fill="#00ed58"/><rect x="434" y="95" width="3" height="3" fill="#1fff56"/><rect x="437" y="95" width="3" height="3" fill="#3aff52"/><rect x="440" y="95" width="3" height="3" fill="#4fff4e"/><rect x="443" y="95" width="3" height="3" fill="#61ff49"/><rect x="446" y="95" width="3" height="3" fill="#71ff44"/><rect x="449" y="95" width="3" height="3" fill="#80ff3f"/><rect x="452" y="95" width="3" height="3" fill="#8eff3a"/><rect x="455" y="95" width="3" height="3" fill="#9cff33"/><rect x="458" y="95" width="3" height="3" fill="#a9ff2c"/><rect x="461" y="95" width="3" height="3" fill="#b7ff24"/><rect x="464" y="95" width="3" height="3" fill="#c3ff1a"/><rect x="467" y="95" width="3" height="3" fill="#d0ff0a"/><rect x="470" y="95" width="3" height="3" fill="#ddff00"/><rect x="473" y="95" width="3" height="3" fill="#eaff00"/><rect x="476" y="95" width="3" height="3" fill="#f6ff00"/><rect x="479" y="95" width="3" height="3" fill="#fffc00"/><rect x="482" y="95" width="3" height="3" fill="#fff100"/><rect x="485" y="95" width="3" height="3" fill="#ffe800"/><rect x="488" y="95" width="3" height="3" fill="#ffdf00"/><rect x="491" y="95" width="3" height="3" fill="#ffd700"/><rect x="494" y="95" width="3" height="3" fill="#ffd000"/><rect x="497" y="95" width="3" height="3" fill="#ffca00"/><rect x="500" y="95" width="3" height="3" fill="#ffc400"/><rect x="503" y="95" width="3" height="3" fill="#ffbe00"/><rect x="506" y="95" width="3" height="3" fill="#ffb900"/><rect x="509" y="95" width="3" height="3" fill="#ffb400"/><rect x="512" y="95" width="3" height="3" fill="#ffb000"/><rect x="515" y="95" width="3" height="3" fill="#ffac00"/><rect x="518" y="95" width="3" height="3" fill="#ffa800"/><rect x="521" y="95" width="3" height="3" fill="#ffa400"/><rect x="524" y="95" width="3" height="3" fill="#ffa100"/><rect x="527" y="95" width="3" height="3" fill="#ff9d00"/><rect x="530" y="95" width="3" height="3" fill="#ff9a00"/><rect x="533" y="95" width="3" height="3" fill="#ff9700"/><rect x="536" y="95" width="3" height="3" fill="#ff9400"/><rect x="539" y="95" width="3" height="3" fill="#ff9200"/><rect x="542" y="95" width="3" height="3" fill="#ff8f00"/><rect x="545" y="95" width="3" height="3" fill="#ff8d00"/><rect x="548" y="95" width="3" height="3" fill="#ff8a00"/><rect x="551" y="95" width="3" height="3" fill="#ff8800"/><rect x="554" y="95" width="3" height="3" fill="#ff8600"/><rect x="557" y="95" width="3" height="3" fill="#ff8400"/><rect x="560" y="95" width="3" height="3" fill="#ff8200"/><rect x="563" y="95" width="3" height="3" fill="#ff8000"/><rect x="566" y="95" width="3" height="3" fill="#ff7e00"/><rect x="569" y="95" width="3" height="3" fill="#ff7d00"/><rect x="572" y="95" width="3" height="3" fill="#ff7b00"/><rect x="575" y="95" width="3" height="3" fill="#ff7900"/><rect x="347" y="98" width="3" height="3" fill="#00edc4"/><rect x="350" y="98" width="3" height="3" fill="#00edc3"/><rect x="353" y="98" width="3" height="3" fill="#00edc1"/><rect x="356" y="98" width="3" height="3" fill="#00edc0"/><rect x="359" y="98" width="3" height="3" fill="#00edbf"/><rect x="362" y="98" width="3" height="3" fill="#00edbe"/><rect x="365" y="98" width="3" height="3" fill="#00edbc"/><rect x="368" y="98" width="3" height="3" fill="#00edbb"/><rect x="371" y="98" width="3" height="3" fill="#00edb9"/><rect x="374" y="98" width="3" height="3" fill="#00edb8"/><rect x="377" y="98" width="3" height="3" fill="#00edb6"/><rect x="380" y="98" width="3" height="3" fill="#00edb4"/><rect x="383" y="98" width="3" height="3" fill="#00edb2"/><rect x="386" y="98" width="3" height="3" fill="#00edb0"/><rect x="389" y="98" width="3" height="3" fill="#00edad"/><rect x="392" y="98" width="3" height="3" fill="#00edab"/><rect x="395" y="98" width="3" height="3" fill="#00eda8"/><rect x="398" y="98" width="3" height="3" fill="#00eda5"/><rect x="401" y="98" width="3" height="3" fill="#00eda2"/><rect x="404" y="98" width="3" height="3" fill="#00ed9e"/><rect x="407" y="98" width="3" height="3" fill="#00ed9a"/><rect x="410" y="98" width="3" height="3" fill="#00ed95"/><rect x="413" y="98" width="3" height="3" fill="#00ed90"/><rect x="416" y="98" width="3" height="3" fill="#00ed8b"/><rect x="419" y="98" width="3" height="3" fill="#00ed84"/><rect x="422" y="98" width="3" height="3" fill="#00ed7d"/><rect x="425" y="98" width="3" height="3" fill="#00ed74"/><rect x="428" y="98" width="3" height="3" fill="#00ed69"/><rect x="431" y="98" width="3" height="3" fill="#00ed5c"/><rect x="434" y="98" width="3" height="3" fill="#2cff5f"/><rect x="437" y="98" width="3" height="3" fill="#44ff5b"/><rect x="440" y="98" width="3" height="3" fill="#57ff58"/><rect x="443" y="98" width="3" height="3" fill="#69ff54"/><rect x="446" y="98" width="3" height="3" fill="#79ff4f"/><rect x="449" y="98" width="3" height="3" fill="#88ff4b"/><rect x="452" y="98" width="3" height="3" fill="#96ff46"/><rect x="455" y="98" width="3" height="3" fill="#a4ff40"/><rect x="458" y="98" width="3" height="3" fill="#b2ff3a"/><rect x="461" y="98" width="3" height="3" fill="#bfff34"/><rect x="464" y="98" width="3" height="3" fill="#cdff2c"/><rect x="467" y="98" width="3" height="3" fill="#d9ff23"/><rect x="470" y="98" width="3" height="3" fill="#e6ff17"/><rect x="473" y="98" width="3" height="3" fill="#f3ff00"/><rect x="476" y="98" width="3" height="3" fill="#fffe00"/><rect x="479" y="98" width="3" height="3" fill="#fff200"/><rect x="482" y="98" width="3" height="3" fill="#ffe800"/><rect x="485" y="98" width="3" height="3" fill="#ffdf00"/><rect x="488" y="98" width="3" height="3" fill="#ffd600"/><rect x="491" y="98" width="3" height="3" fill="#ffcf00"/><rect x="494" y="98" width="3" height="3" fill="#ffc800"/><rect x="497" y="98" width="3" height="3" fill="#ffc200"/><rect x="500" y="98" width="3" height="3" fill="#ffbc00"/><rect x="503" y="98" width="3" height="3" fill="#ffb700"/><rect x="506" y="98" width="3" height="3" fill="#ffb200"/><rect x="509" y="98" width="3" height="3" fill="#ffad00"/><rect x="512" y="98" width="3" height="3" fill="#ffa900"/><rect x="515" y="98" width="3" height="3" fill="#ffa500"/><rect x="518" y="98" width="3" height="3" fill="#ffa100"/><rect x="521" y="98" width="3" height="3" fill="#ff9d00"/><rect x="524" y="98" width="3" height="3" fill="#ff9a00"/><rect x="527" y="98" width="3" height="3" fill="#ff9700"/><rect x="530" y="98" width="3" height="3" fill="#ff9400"/><rect x="533" y="98" width="3" height="3" fill="#ff9100"/><rect x="536" y="98" width="3" height="3" fill="#ff8e00"/><rect x="539" y="98" width="3" height="3" fill="#ff8c00"/><rect x="542" y="98" width="3" height="3" fill="#ff8900"/><rect x="545" y="98" width="3" height="3" fill="#ff8700"/><rect x="548" y="98" width="3" height="3" fill="#ff8500"/><rect x="551" y="98" width="3" height="3" fill="#ff8300"/><rect x="554" y="98" width="3" height="3" fill="#ff8100"/><rect x="557" y="98" width="3" height="3" fill="#ff7f00"/><rect x="560" y="98" width="3" height="3" fill="#ff7d00"/><rect x="563" y="98" width="3" height="3" fill="#ff7b00"/><rect x="566" y="98" width="3" height="3" fill="#ff7900"/><rect x="569" y="98" width="3" height="3" fill="#ff7700"/><rect x="572" y="98" width="3" height="3" fill="#ff7600"/><rect x="575" y="98" width="3" height="3" fill="#ff7400"/><rect x="347" y="101" width="3" height="3" fill="#00edc6"/><rect x="350" y="101" width="3" height="3" fill="#00edc5"/><rect x="353" y="101" width="3" height="3" fill="#00edc4"/><rect x="356" y="101" width="3" height="3" fill="#00edc3"/><rect x="359" y="101" width="3" height="3" fill="#00edc2"/><rect x="362" y="101" width="3" height="3" fill="#00edc1"/><rect x="365" y="101" width="3" height="3" fill="#00edbf"/><rect x="368" y="101" width="3" height="3" fill="#00edbe"/><rect x="371" y="101" width="3" height="3" fill="#00edbc"/><rect x="374" y="101" width="3" height="3" fill="#00edbb"/><rect x="377" y="101" width="3" height="3" fill="#00edb9"/><rect x="380" y="101" width="3" height="3" fill="#00edb7"/><rect x="383" y="101" width="3" height="3" fill="#00edb5"/><rect x="386" y="101" width="3" height="3" fill="#00edb3"/><rect x="389" y="101" width="3" height="3" fill="#00edb1"/><rect x="392" y="101" width="3" height="3" fill="#00edae"/><rect x="395" y="101" width="3" height="3" fill="#00edac"/><rect x="398" y="101" width="3" height="3" fill="#00eda9"/><rect x="401" y="101" width="3" height="3" fill="#00eda5"/><rect x="404" y="101" width="3" height="3" fill="#00eda2"/><rect x="407" y="101" width="3" height="3" fill="#00ed9e"/><rect x="410" y="101" width="3" height="3" fill="#00ed99"/><rect x="413" y="101" width="3" height="3" fill="#00ed94"/><rect x="416" y="101" width="3" height="3" fill="#00ed8f"/><rect x="419" y="101" width="3" height="3" fill="#00ed88"/><rect x="422" y="101" width="3" height="3" fill="#00ed81"/><rect x="425" y="101" width="3" height="3" fill="#00ed78"/><rect x="428" y="101" width="3" height="3" fill="#00ed6e"/><rect x="431" y="101" width="3" height="3" fill="#17ff6c"/><rect x="434" y="101" width="3" height="3" fill="#37ff69"/><rect x="437" y="101" width="3" height="3" fill="#4dff65"/><rect x="440" y="101" width="3" height="3" fill="#60ff62"/><rect x="443" y="101" width="3" height="3" fill="#71ff5e"/><rect x="446" y="101" width="3" height="3" fill="#81ff5a"/><rect x="449" y="101" width="3" height="3" fill="#90ff56"/><rect x="452" y="101" width="3" height="3" fill="#9fff51"/><rect x="455" y="101" width="3" height="3" fill="#adff4c"/><rect x="458" y="101" width="3" height="3" fill="#bbff47"/><rect x="461" y="101" width="3" height="3" fill="#c9ff41"/><rect x="464" y="101" width="3" height="3" fill="#d6ff3b"/><rect x="467" y="101" width="3" height="3" fill="#e3ff34"/><rect x="470" y="101" width="3" height="3" fill="#f1ff2c"/><rect x="473" y="101" width="3" height="3" fill="#feff22"/><rect x="476" y="101" width="3" height="3" fill="#fff313"/><rect x="479" y="101" width="3" height="3" fill="#ffe800"/><rect x="482" y="101" width="3" height="3" fill="#ffde00"/><rect x="485" y="101" width="3" height="3" fill="#ffd500"/><rect x="488" y="101" width="3" height="3" fill="#ffcd00"/><rect x="491" y="101" width="3" height="3" fill="#ffc600"/><rect x="494" y="101" width="3" height="3" fill="#ffbf00"/><rect x="497" y="101" width="3" height="3" fill="#ffb900"/><rect x="500" y="101" width="3" height="3" fill="#ffb400"/><rect x="503" y="101" width="3" height="3" fill="#ffaf00"/><rect x="506" y="101" width="3" height="3" fill="#ffaa00"/><rect x="509" y="101" width="3" height="3" fill="#ffa500"/><rect x="512" y="101" width="3" height="3" fill="#ffa100"/><rect x="515" y="101" width="3" height="3" fill="#ff9d00"/><rect x="518" y="101" width="3" height="3" fill="#ff9a00"/><rect x="521" y="101" width="3" height="3" fill="#ff9600"/><rect x="524" y="101" width="3" height="3" fill="#ff9300"/><rect x="527" y="101" width="3" height="3" fill="#ff9000"/><rect x="530" y="101" width="3" height="3" fill="#ff8d00"/><rect x="533" y="101" width="3" height="3" fill="#ff8b00"/><rect x="536" y="101" width="3" height="3" fill="#ff8800"/><rect x="539" y="101" width="3" height="3" fill="#ff8600"/><rect x="542" y="101" width="3" height="3" fill="#ff8300"/><rect x="545" y="101" width="3" height="3" fill="#ff8100"/><rect x="548" y="101" width="3" height="3" fill="#ff7f00"/><rect x="551" y="101" width="3" height="3" fill="#ff7d00"/><rect x="554" y="101" width="3" height="3" fill="#ff7b00"/><rect x="557" y="101" width="3" height="3" fill="#ff7900"/><rect x="560" y="101" width="3" height="3" fill="#ff7700"/><rect x="563" y="101" width="3" height="3" fill="#ff7500"/><rect x="566" y="101" width="3" height="3" fill="#ff7400"/><rect x="569" y="101" width="3" height="3" fill="#ff7200"/><rect x="572" y="101" width="3" height="3" fill="#ff7100"/><rect x="575" y="101" width="3" height="3" fill="#ff6f00"/><rect x="347" y="104" width="3" height="3" fill="#00edc9"/><rect x="350" y="104" width="3" height="3" fill="#00edc8"/><rect x="353" y="104" width="3" height="3" fill="#00edc7"/><rect x="356" y="104" width="3" height="3" fill="#00edc6"/><rect x="359" y="104" width="3" height="3" fill="#00edc5"/><rect x="362" y="104" width="3" height="3" fill="#00edc3"/><rect x="365" y="104" width="3" height="3" fill="#00edc2"/><rect x="368" y="104" width="3" height="3" fill="#00edc1"/><rect x="371" y="104" width="3" height="3" fill="#00edbf"/><rect x="374" y="104" width="3" height="3" fill="#00edbe"/><rect x="377" y="104" width="3" height="3" fill="#00edbc"/><rect x="380" y="104" width="3" height="3" fill="#00edba"/><rect x="383" y="104" width="3" height="3" fill="#00edb9"/><rect x="386" y="104" width="3" height="3" fill="#00edb6"/><rect x="389" y="104" width="3" height="3" fill="#00edb4"/><rect x="392" y="104" width="3" height="3" fill="#00edb2"/><rect x="395" y="104" width="3" height="3" fill="#00edaf"/><rect x="398" y="104" width="3" height="3" fill="#00edac"/><rect x="401" y="104" width="3" height="3" fill="#00eda9"/><rect x="404" y="104" width="3" height="3" fill="#00eda6"/><rect x="407" y="104" width="3" height="3" fill="#00eda2"/><rect x="410" y="104" width="3" height="3" fill="#00ed9e"/><rect x="413" y="104" width="3" height="3" fill="#00ed99"/><rect x="416" y="104" width="3" height="3" fill="#00ed93"/><rect x="419" y="104" width="3" height="3" fill="#00ed8d"/><rect x="422" y="104" width="3" height="3" fill="#00ed86"/><rect x="425" y="104" width="3" height="3" fill="#00ed7d"/><rect x="428" y="104" width="3" height="3" fill="#00ed72"/><rect x="431" y="104" width="3" height="3" fill="#26ff75"/><rect x="434" y="104" width="3" height="3" fill="#41ff72"/><rect x="437" y="104" width="3" height="3" fill="#56ff6f"/><rect x="440" y="104" width="3" height="3" fill="#69ff6c"/><rect x="443" y="104" width="3" height="3" fill="#7aff68"/><rect x="446" y="104" width="3" height="3" fill="#8aff65"/><rect x="449" y="104" width="3" height="3" fill="#99ff61"/><rect x="452" y="104" width="3" height="3" fill="#a8ff5d"/><rect x="455" y="104" width="3" height="3" fill="#b6ff58"/><rect x="458" y="104" width="3" height="3" fill="#c4ff53"/><rect x="461" y="104" width="3" height="3" fill="#d2ff4e"/><rect x="464" y="104" width="3" height="3" fill="#e0ff49"/><rect x="467" y="104" width="3" height="3" fill="#eeff43"/><rect x="470" y="104" width="3" height="3" fill="#fbff3c"/><rect x="473" y="104" width="3" height="3" fill="#fff532"/><rect x="476" y="104" width="3" height="3" fill="#ffe927"/><rect x="479" y="104" width="3" height="3" fill="#ffde1c"/><rect x="482" y="104" width="3" height="3" fill="#ffd40d"/><rect x="485" y="104" width="3" height="3" fill="#ffcb00"/><rect x="488" y="104" width="3" height="3" fill="#ffc400"/><rect x="491" y="104" width="3" height="3" fill="#ffbd00"/><rect x="494" y="104" width="3" height="3" fill="#ffb600"/><rect x="497" y="104" width="3" height="3" fill="#ffb100"/><rect x="500" y="104" width="3" height="3" fill="#ffab00"/><rect x="503" y="104" width="3" height="3" fill="#ffa600"/><rect x="506" y="104" width="3" height="3" fill="#ffa200"/><rect x="509" y="104" width="3" height="3" fill="#ff9e00"/><rect x="512" y="104" width="3" height="3" fill="#ff9a00"/><rect x="515" y="104" width="3" height="3" fill="#ff9600"/><rect x="518" y="104" width="3" height="3" fill="#ff9300"/><rect x="521" y="104" width="3" height="3" fill="#ff8f00"/><rect x="524" y="104" width="3" height="3" fill="#ff8c00"/><rect x="527" y="104" width="3" height="3" fill="#ff8900"/><rect x="530" y="104" width="3" height="3" fill="#ff8700"/><rect x="533" y="104" width="3" height="3" fill="#ff8400"/><rect x="536" y="104" width="3" height="3" fill="#ff8200"/><rect x="539" y="104" width="3" height="3" fill="#ff7f00"/><rect x="542" y="104" width="3" height="3" fill="#ff7d00"/><rect x="545" y="104" width="3" height="3" fill="#ff7b00"/><rect x="548" y="104" width="3" height="3" fill="#ff7900"/><rect x="551" y="104" width="3" height="3" fill="#ff7700"/><rect x="554" y="104" width="3" height="3" fill="#ff7500"/><rect x="557" y="104" width="3" height="3" fill="#ff7300"/><rect x="560" y="104" width="3" height="3" fill="#ff7100"/><rect x="563" y="104" width="3" height="3" fill="#ff7000"/><rect x="566" y="104" width="3" height="3" fill="#ff6e00"/><rect x="569" y="104" width="3" height="3" fill="#ff6d00"/><rect x="572" y="104" width="3" height="3" fill="#ff6b00"/><rect x="575" y="104" width="3" height="3" fill="#ff6a00"/><rect x="347" y="107" width="3" height="3" fill="#00edcb"/><rect x="350" y="107" width="3" height="3" fill="#00edcb"/><rect x="353" y="107" width="3" height="3" fill="#00edca"/><rect x="356" y="107" width="3" height="3" fill="#00edc9"/><rect x="359" y="107" width="3" height="3" fill="#00edc7"/><rect x="362" y="107" width="3" height="3" fill="#00edc6"/><rect x="365" y="107" width="3" height="3" fill="#00edc5"/><rect x="368" y="107" width="3" height="3" fill="#00edc4"/><rect x="371" y="107" width="3" height="3" fill="#00edc3"/><rect x="374" y="107" width="3" height="3" fill="#00edc1"/><rect x="377" y="107" width="3" height="3" fill="#00edc0"/><rect x="380" y="107" width="3" height="3" fill="#00edbe"/><rect x="383" y="107" width="3" height="3" fill="#00edbc"/><rect x="386" y="107" width="3" height="3" fill="#00edba"/><rect x="389" y="107" width="3" height="3" fill="#00edb8"/><rect x="392" y="107" width="3" height="3" fill="#00edb6"/><rect x="395" y="107" width="3" height="3" fill="#00edb3"/><rect x="398" y="107" width="3" height="3" fill="#00edb0"/><rect x="401" y="107" width="3" height="3" fill="#00edad"/><rect x="404" y="107" width="3" height="3" fill="#00edaa"/><rect x="407" y="107" width="3" height="3" fill="#00eda6"/><rect x="410" y="107" width="3" height="3" fill="#00eda2"/><rect x="413" y="107" width="3" height="3" fill="#00ed9d"/><rect x="416" y="107" width="3" height="3" fill="#00ed98"/><rect x="419" y="107" width="3" height="3" fill="#00ed92"/><rect x="422" y="107" width="3" height="3" fill="#00ed8b"/><rect x="425" y="107" width="3" height="3" fill="#00ed82"/><rect x="428" y="107" width="3" height="3" fill="#0aff81"/><rect x="431" y="107" width="3" height="3" fill="#32ff7f"/><rect x="434" y="107" width="3" height="3" fill="#4bff7c"/><rect x="437" y="107" width="3" height="3" fill="#60ff79"/><rect x="440" y="107" width="3" height="3" fill="#72ff76"/><rect x="443" y="107" width="3" height="3" fill="#83ff73"/><rect x="446" y="107" width="3" height="3" fill="#93ff6f"/><rect x="449" y="107" width="3" height="3" fill="#a2ff6c"/><rect x="452" y="107" width="3" height="3" fill="#b1ff68"/><rect x="455" y="107" width="3" height="3" fill="#c0ff64"/><rect x="458" y="107" width="3" height="3" fill="#ceff60"/><rect x="461" y="107" width="3" height="3" fill="#ddff5b"/><rect x="464" y="107" width="3" height="3" fill="#ebff56"/><rect x="467" y="107" width="3" height="3" fill="#f9ff51"/><rect x="470" y="107" width="3" height="3" fill="#fff748"/><rect x="473" y="107" width="3" height="3" fill="#ffeb3f"/><rect x="476" y="107" width="3" height="3" fill="#ffdf35"/><rect x="479" y="107" width="3" height="3" fill="#ffd52c"/><rect x="482" y="107" width="3" height="3" fill="#ffcb22"/><rect x="485" y="107" width="3" height="3" fill="#ffc217"/><rect x="488" y="107" width="3" height="3" fill="#ffba07"/><rect x="491" y="107" width="3" height="3" fill="#ffb300"/><rect x="494" y="107" width="3" height="3" fill="#ffad00"/><rect x="497" y="107" width="3" height="3" fill="#ffa800"/><rect x="500" y="107" width="3" height="3" fill="#ffa300"/><rect x="503" y="107" width="3" height="3" fill="#ff9e00"/><rect x="506" y="107" width="3" height="3" fill="#ff9a00"/><rect x="509" y="107" width="3" height="3" fill="#ff9600"/><rect x="512" y="107" width="3" height="3" fill="#ff9200"/><rect x="515" y="107" width="3" height="3" fill="#ff8e00"/><rect x="518" y="107" width="3" height="3" fill="#ff8b00"/><rect x="521" y="107" width="3" height="3" fill="#ff8800"/><rect x="524" y="107" width="3" height="3" fill="#ff8500"/><rect x="527" y="107" width="3" height="3" fill="#ff8200"/><rect x="530" y="107" width="3" height="3" fill="#ff8000"/><rect x="533" y="107" width="3" height="3" fill="#ff7d00"/><rect x="536" y="107" width="3" height="3" fill="#ff7b00"/><rect x="539" y="107" width="3" height="3" fill="#ff7900"/><rect x="542" y="107" width="3" height="3" fill="#ff7600"/><rect x="545" y="107" width="3" height="3" fill="#ff7400"/><rect x="548" y="107" width="3" height="3" fill="#ff7200"/><rect x="551" y="107" width="3" height="3" fill="#ff7100"/><rect x="554" y="107" width="3" height="3" fill="#ff6f00"/><rect x="557" y="107" width="3" height="3" fill="#ff6d00"/><rect x="560" y="107" width="3" height="3" fill="#ff6c00"/><rect x="563" y="107" width="3" height="3" fill="#ff6a00"/><rect x="566" y="107" width="3" height="3" fill="#ff6800"/><rect x="569" y="107" width="3" height="3" fill="#ff6700"/><rect x="572" y="107" width="3" height="3" fill="#ff6600"/><rect x="575" y="107" width="3" height="3" fill="#ff6400"/><rect x="347" y="110" width="3" height="3" fill="#00edce"/><rect x="350" y="110" width="3" height="3" fill="#00edcd"/><rect x="353" y="110" width="3" height="3" fill="#00edcc"/><rect x="356" y="110" width="3" height="3" fill="#00edcb"/><rect x="359" y="110" width="3" height="3" fill="#00edca"/><rect x="362" y="110" width="3" height="3" fill="#00edc9"/><rect x="365" y="110" width="3" height="3" fill="#00edc8"/><rect x="368" y="110" width="3" height="3" fill="#00edc7"/><rect x="371" y="110" width="3" height="3" fill="#00edc6"/><rect x="374" y="110" width="3" height="3" fill="#00edc4"/><rect x="377" y="110" width="3" height="3" fill="#00edc3"/><rect x="380" y="110" width="3" height="3" fill="#00edc1"/><rect x="383" y="110" width="3" height="3" fill="#00edc0"/><rect x="386" y="110" width="3" height="3" fill="#00edbe"/><rect x="389" y="110" width="3" height="3" fill="#00edbc"/><rect x="392" y="110" width="3" height="3" fill="#00edba"/><rect x="395" y="110" width="3" height="3" fill="#00edb7"/><rect x="398" y="110" width="3" height="3" fill="#00edb5"/><rect x="401" y="110" width="3" height="3" fill="#00edb2"/><rect x="404" y="110" width="3" height="3" fill="#00edaf"/><rect x="407" y="110" width="3" height="3" fill="#00edab"/><rect x="410" y="110" width="3" height="3" fill="#00eda7"/><rect x="413" y="110" width="3" height="3" fill="#00eda2"/><rect x="416" y="110" width="3" height="3" fill="#00ed9d"/><rect x="419" y="110" width="3" height="3" fill="#00ed97"/><rect x="422" y="110" width="3" height="3" fill="#00ed90"/><rect x="425" y="110" width="3" height="3" fill="#00ed88"/><rect x="428" y="110" width="3" height="3" fill="#1fff8b"/><rect x="431" y="110" width="3" height="3" fill="#3eff89"/><rect x="434" y="110" width="3" height="3" fill="#55ff86"/><rect x="437" y="110" width="3" height="3" fill="#69ff83"/><rect x="440" y="110" width="3" height="3" fill="#7bff80"/><rect x="443" y="110" width="3" height="3" fill="#8cff7d"/><rect x="446" y="110" width="3" height="3" fill="#9cff7a"/><rect x="449" y="110" width="3" height="3" fill="#acff77"/><rect x="452" y="110" width="3" height="3" fill="#bbff74"/><rect x="455" y="110" width="3" height="3" fill="#caff70"/><rect x="458" y="110" width="3" height="3" fill="#d9ff6c"/><rect x="461" y="110" width="3" height="3" fill="#e8ff68"/><rect x="464" y="110" width="3" height="3" fill="#f6ff63"/><rect x="467" y="110" width="3" height="3" fill="#fff95c"/><rect x="470" y="110" width="3" height="3" fill="#ffec52"/><rect x="473" y="110" width="3" height="3" fill="#ffe049"/><rect x="476" y="110" width="3" height="3" fill="#ffd540"/><rect x="479" y="110" width="3" height="3" fill="#ffcb38"/><rect x="482" y="110" width="3" height="3" fill="#ffc22f"/><rect x="485" y="110" width="3" height="3" fill="#ffb926"/><rect x="488" y="110" width="3" height="3" fill="#ffb21d"/><rect x="491" y="110" width="3" height="3" fill="#ffaa12"/><rect x="494" y="110" width="3" height="3" fill="#ffa300"/><rect x="497" y="110" width="3" height="3" fill="#ff9e00"/><rect x="500" y="110" width="3" height="3" fill="#ff9900"/><rect x="503" y="110" width="3" height="3" fill="#ff9500"/><rect x="506" y="110" width="3" height="3" fill="#ff9100"/><rect x="509" y="110" width="3" height="3" fill="#ff8d00"/><rect x="512" y="110" width="3" height="3" fill="#ff8900"/><rect x="515" y="110" width="3" height="3" fill="#ff8600"/><rect x="518" y="110" width="3" height="3" fill="#ff8300"/><rect x="521" y="110" width="3" height="3" fill="#ff8000"/><rect x="524" y="110" width="3" height="3" fill="#ff7d00"/><rect x="527" y="110" width="3" height="3" fill="#ff7b00"/><rect x="530" y="110" width="3" height="3" fill="#ff7800"/><rect x="533" y="110" width="3" height="3" fill="#ff7600"/><rect x="536" y="110" width="3" height="3" fill="#ff7400"/><rect x="539" y="110" width="3" height="3" fill="#ff7200"/><rect x="542" y="110" width="3" height="3" fill="#ff7000"/><rect x="545" y="110" width="3" height="3" fill="#ff6e00"/><rect x="548" y="110" width="3" height="3" fill="#ff6c00"/><rect x="551" y="110" width="3" height="3" fill="#ff6a00"/><rect x="554" y="110" width="3" height="3" fill="#ff6800"/><rect x="557" y="110" width="3" height="3" fill="#ff6700"/><rect x="560" y="110" width="3" height="3" fill="#ff6500"/><rect x="563" y="110" width="3" height="3" fill="#ff6400"/><rect x="566" y="110" width="3" height="3" fill="#ff6200"/><rect x="569" y="110" width="3" height="3" fill="#ff6100"/><rect x="572" y="110" width="3" height="3" fill="#ff6000"/><rect x="575" y="110" width="3" height="3" fill="#ff5e00"/><rect x="347" y="113" width="3" height="3" fill="#00edd1"/><rect x="350" y="113" width="3" height="3" fill="#00edd0"/><rect x="353" y="113" width="3" height="3" fill="#00edcf"/><rect x="356" y="113" width="3" height="3" fill="#00edcf"/><rect x="359" y="113" width="3" height="3" fill="#00edce"/><rect x="362" y="113" width="3" height="3" fill="#00edcd"/><rect x="365" y="113" width="3" height="3" fill="#00edcc"/><rect x="368" y="113" width="3" height="3" fill="#00edca"/><rect x="371" y="113" width="3" height="3" fill="#00edc9"/><rect x="374" y="113" width="3" height="3" fill="#00edc8"/><rect x="377" y="113" width="3" height="3" fill="#00edc7"/><rect x="380" y="113" width="3" height="3" fill="#00edc5"/><rect x="383" y="113" width="3" height="3" fill="#00edc4"/><rect x="386" y="113" width="3" height="3" fill="#00edc2"/><rect x="389" y="113" width="3" height="3" fill="#00edc0"/><rect x="392" y="113" width="3" height="3" fill="#00edbe"/><rect x="395" y="113" width="3" height="3" fill="#00edbc"/><rect x="398" y="113" width="3" height="3" fill="#00edb9"/><rect x="401" y="113" width="3" height="3" fill="#00edb6"/><rect x="404" y="113" width="3" height="3" fill="#00edb3"/><rect x="407" y="113" width="3" height="3" fill="#00edb0"/><rect x="410" y="113" width="3" height="3" fill="#00edac"/><rect x="413" y="113" width="3" height="3" fill="#00eda8"/><rect x="416" y="113" width="3" height="3" fill="#00eda3"/><rect x="419" y="113" width="3" height="3" fill="#00ed9d"/><rect x="422" y="113" width="3" height="3" fill="#00ed96"/><rect x="425" y="113" width="3" height="3" fill="#00ed8e"/><rect x="428" y="113" width="3" height="3" fill="#2dff95"/><rect x="431" y="113" width="3" height="3" fill="#49ff93"/><rect x="434" y="113" width="3" height="3" fill="#5fff90"/><rect x="437" y="113" width="3" height="3" fill="#72ff8e"/><rect x="440" y="113" width="3" height="3" fill="#85ff8b"/><rect x="443" y="113" width="3" height="3" fill="#96ff88"/><rect x="446" y="113" width="3" height="3" fill="#a6ff86"/><rect x="449" y="113" width="3" height="3" fill="#b6ff83"/><rect x="452" y="113" width="3" height="3" fill="#c6ff7f"/><rect x="455" y="113" width="3" height="3" fill="#d5ff7c"/><rect x="458" y="113" width="3" height="3" fill="#e4ff78"/><rect x="461" y="113" width="3" height="3" fill="#f3ff74"/><rect x="464" y="113" width="3" height="3" fill="#fffc6f"/><rect x="467" y="113" width="3" height="3" fill="#ffee65"/><rect x="470" y="113" width="3" height="3" fill="#ffe15b"/><rect x="473" y="113" width="3" height="3" fill="#ffd652"/><rect x="476" y="113" width="3" height="3" fill="#ffcb4a"/><rect x="479" y="113" width="3" height="3" fill="#ffc242"/><rect x="482" y="113" width="3" height="3" fill="#ffb93a"/><rect x="485" y="113" width="3" height="3" fill="#ffb132"/><rect x="488" y="113" width="3" height="3" fill="#ffa92a"/><rect x="491" y="113" width="3" height="3" fill="#ffa222"/><rect x="494" y="113" width="3" height="3" fill="#ff9b19"/><rect x="497" y="113" width="3" height="3" fill="#ff950e"/><rect x="500" y="113" width="3" height="3" fill="#ff9000"/><rect x="503" y="113" width="3" height="3" fill="#ff8b00"/><rect x="506" y="113" width="3" height="3" fill="#ff8800"/><rect x="509" y="113" width="3" height="3" fill="#ff8400"/><rect x="512" y="113" width="3" height="3" fill="#ff8100"/><rect x="515" y="113" width="3" height="3" fill="#ff7e00"/><rect x="518" y="113" width="3" height="3" fill="#ff7b00"/><rect x="521" y="113" width="3" height="3" fill="#ff7800"/><rect x="524" y="113" width="3" height="3" fill="#ff7500"/><rect x="527" y="113" width="3" height="3" fill="#ff7300"/><rect x="530" y="113" width="3" height="3" fill="#ff7100"/><rect x="533" y="113" width="3" height="3" fill="#ff6e00"/><rect x="536" y="113" width="3" height="3" fill="#ff6c00"/><rect x="539" y="113" width="3" height="3" fill="#ff6a00"/><rect x="542" y="113" width="3" height="3" fill="#ff6800"/><rect x="545" y="113" width="3" height="3" fill="#ff6700"/><rect x="548" y="113" width="3" height="3" fill="#ff6500"/><rect x="551" y="113" width="3" height="3" fill="#ff6300"/><rect x="554" y="113" width="3" height="3" fill="#ff6200"/><rect x="557" y="113" width="3" height="3" fill="#ff6000"/><rect x="560" y="113" width="3" height="3" fill="#ff5f00"/><rect x="563" y="113" width="3" height="3" fill="#ff5d00"/><rect x="566" y="113" width="3" height="3" fill="#ff5c00"/><rect x="569" y="113" width="3" height="3" fill="#ff5b00"/><rect x="572" y="113" width="3" height="3" fill="#ff5a00"/><rect x="575" y="113" width="3" height="3" fill="#ff5800"/><rect x="347" y="116" width="3" height="3" fill="#00edd4"/><rect x="350" y="116" width="3" height="3" fill="#00edd3"/><rect x="353" y="116" width="3" height="3" fill="#00edd2"/><rect x="356" y="116" width="3" height="3" fill="#00edd2"/><rect x="359" y="116" width="3" height="3" fill="#00edd1"/><rect x="362" y="116" width="3" height="3" fill="#00edd0"/><rect x="365" y="116" width="3" height="3" fill="#00edcf"/><rect x="368" y="116" width="3" height="3" fill="#00edce"/><rect x="371" y="116" width="3" height="3" fill="#00edcd"/><rect x="374" y="116" width="3" height="3" fill="#00edcc"/><rect x="377" y="116" width="3" height="3" fill="#00edca"/><rect x="380" y="116" width="3" height="3" fill="#00edc9"/><rect x="383" y="116" width="3" height="3" fill="#00edc8"/><rect x="386" y="116" width="3" height="3" fill="#00edc6"/><rect x="389" y="116" width="3" height="3" fill="#00edc4"/><rect x="392" y="116" width="3" height="3" fill="#00edc2"/><rect x="395" y="116" width="3" height="3" fill="#00edc0"/><rect x="398" y="116" width="3" height="3" fill="#00edbe"/><rect x="401" y="116" width="3" height="3" fill="#00edbb"/><rect x="404" y="116" width="3" height="3" fill="#00edb9"/><rect x="407" y="116" width="3" height="3" fill="#00edb5"/><rect x="410" y="116" width="3" height="3" fill="#00edb2"/><rect x="413" y="116" width="3" height="3" fill="#00edae"/><rect x="416" y="116" width="3" height="3" fill="#00eda9"/><rect x="419" y="116" width="3" height="3" fill="#00eda3"/><rect x="422" y="116" width="3" height="3" fill="#00ed9c"/><rect x="425" y="116" width="3" height="3" fill="#15ffa1"/><rect x="428" y="116" width="3" height="3" fill="#3aff9f"/><rect x="431" y="116" width="3" height="3" fill="#53ff9d"/><rect x="434" y="116" width="3" height="3" fill="#69ff9b"/><rect x="437" y="116" width="3" height="3" fill="#7cff99"/><rect x="440" y="116" width="3" height="3" fill="#8fff96"/><rect x="443" y="116" width="3" height="3" fill="#a0ff94"/><rect x="446" y="116" width="3" height="3" fill="#b1ff91"/><rect x="449" y="116" width="3" height="3" fill="#c1ff8e"/><rect x="452" y="116" width="3" height="3" fill="#d1ff8c"/><rect x="455" y="116" width="3" height="3" fill="#e1ff88"/><rect x="458" y="116" width="3" height="3" fill="#f0ff85"/><rect x="461" y="116" width="3" height="3" fill="#fffe81"/><rect x="464" y="116" width="3" height="3" fill="#ffef76"/><rect x="467" y="116" width="3" height="3" fill="#ffe26c"/><rect x="470" y="116" width="3" height="3" fill="#ffd663"/><rect x="473" y="116" width="3" height="3" fill="#ffcc5a"/><rect x="476" y="116" width="3" height="3" fill="#ffc252"/><rect x="479" y="116" width="3" height="3" fill="#ffb94a"/><rect x="482" y="116" width="3" height="3" fill="#ffb043"/><rect x="485" y="116" width="3" height="3" fill="#ffa83b"/><rect x="488" y="116" width="3" height="3" fill="#ffa134"/><rect x="491" y="116" width="3" height="3" fill="#ff9a2d"/><rect x="494" y="116" width="3" height="3" fill="#ff9426"/><rect x="497" y="116" width="3" height="3" fill="#ff8d1e"/><rect x="500" y="116" width="3" height="3" fill="#ff8815"/><rect x="503" y="116" width="3" height="3" fill="#ff8209"/><rect x="506" y="116" width="3" height="3" fill="#ff7e00"/><rect x="509" y="116" width="3" height="3" fill="#ff7b00"/><rect x="512" y="116" width="3" height="3" fill="#ff7800"/><rect x="515" y="116" width="3" height="3" fill="#ff7500"/><rect x="518" y="116" width="3" height="3" fill="#ff7200"/><rect x="521" y="116" width="3" height="3" fill="#ff6f00"/><rect x="524" y="116" width="3" height="3" fill="#ff6d00"/><rect x="527" y="116" width="3" height="3" fill="#ff6b00"/><rect x="530" y="116" width="3" height="3" fill="#ff6900"/><rect x="533" y="116" width="3" height="3" fill="#ff6600"/><rect x="536" y="116" width="3" height="3" fill="#ff6500"/><rect x="539" y="116" width="3" height="3" fill="#ff6300"/><rect x="542" y="116" width="3" height="3" fill="#ff6100"/><rect x="545" y="116" width="3" height="3" fill="#ff5f00"/><rect x="548" y="116" width="3" height="3" fill="#ff5e00"/><rect x="551" y="116" width="3" height="3" fill="#ff5c00"/><rect x="554" y="116" width="3" height="3" fill="#ff5b00"/><rect x="557" y="116" width="3" height="3" fill="#ff5900"/><rect x="560" y="116" width="3" height="3" fill="#ff5800"/><rect x="563" y="116" width="3" height="3" fill="#ff5700"/><rect x="566" y="116" width="3" height="3" fill="#ff5500"/><rect x="569" y="116" width="3" height="3" fill="#ff5400"/><rect x="572" y="116" width="3" height="3" fill="#ff5300"/><rect x="575" y="116" width="3" height="3" fill="#ff5200"/><rect x="347" y="119" width="3" height="3" fill="#00edd7"/><rect x="350" y="119" width="3" height="3" fill="#00edd6"/><rect x="353" y="119" width="3" height="3" fill="#00edd6"/><rect x="356" y="119" width="3" height="3" fill="#00edd5"/><rect x="359" y="119" width="3" height="3" fill="#00edd4"/><rect x="362" y="119" width="3" height="3" fill="#00edd3"/><rect x="365" y="119" width="3" height="3" fill="#00edd3"/><rect x="368" y="119" width="3" height="3" fill="#00edd2"/><rect x="371" y="119" width="3" height="3" fill="#00edd1"/><rect x="374" y="119" width="3" height="3" fill="#00edd0"/><rect x="377" y="119" width="3" height="3" fill="#00edce"/><rect x="380" y="119" width="3" height="3" fill="#00edcd"/><rect x="383" y="119" width="3" height="3" fill="#00edcc"/><rect x="386" y="119" width="3" height="3" fill="#00edca"/><rect x="389" y="119" width="3" height="3" fill="#00edc9"/><rect x="392" y="119" width="3" height="3" fill="#00edc7"/><rect x="395" y="119" width="3" height="3" fill="#00edc5"/><rect x="398" y="119" width="3" height="3" fill="#00edc3"/><rect x="401" y="119" width="3" height="3" fill="#00edc1"/><rect x="404" y="119" width="3" height="3" fill="#00edbe"/><rect x="407" y="119" width="3" height="3" fill="#00edbb"/><rect x="410" y="119" width="3" height="3" fill="#00edb8"/><rect x="413" y="119" width="3" height="3" fill="#00edb4"/><rect x="416" y="119" width="3" height="3" fill="#00edaf"/><rect x="419" y="119" width="3" height="3" fill="#00edaa"/><rect x="422" y="119" width="3" height="3" fill="#00eda4"/><rect x="425" y="119" width="3" height="3" fill="#27ffac"/><rect x="428" y="119" width="3" height="3" fill="#46ffaa"/><rect x="431" y="119" width="3" height="3" fill="#5effa8"/><rect x="434" y="119" width="3" height="3" fill="#73ffa6"/><rect x="437" y="119" width="3" height="3" fill="#87ffa4"/><rect x="440" y="119" width="3" height="3" fill="#99ffa2"/><rect x="443" y="119" width="3" height="3" fill="#aaffa0"/><rect x="446" y="119" width="3" height="3" fill="#bbff9d"/><rect x="449" y="119" width="3" height="3" fill="#ccff9b"/><rect x="452" y="119" width="3" height="3" fill="#ddff98"/><rect x="455" y="119" width="3" height="3" fill="#edff95"/><rect x="458" y="119" width="3" height="3" fill="#fdff92"/><rect x="461" y="119" width="3" height="3" fill="#fff188"/><rect x="464" y="119" width="3" height="3" fill="#ffe37d"/><rect x="467" y="119" width="3" height="3" fill="#ffd773"/><rect x="470" y="119" width="3" height="3" fill="#ffcc6a"/><rect x="473" y="119" width="3" height="3" fill="#ffc261"/><rect x="476" y="119" width="3" height="3" fill="#ffb859"/><rect x="479" y="119" width="3" height="3" fill="#ffaf52"/><rect x="482" y="119" width="3" height="3" fill="#ffa74b"/><rect x="485" y="119" width="3" height="3" fill="#ffa044"/><rect x="488" y="119" width="3" height="3" fill="#ff993d"/><rect x="491" y="119" width="3" height="3" fill="#ff9236"/><rect x="494" y="119" width="3" height="3" fill="#ff8c30"/><rect x="497" y="119" width="3" height="3" fill="#ff8629"/><rect x="500" y="119" width="3" height="3" fill="#ff8022"/><rect x="503" y="119" width="3" height="3" fill="#ff7b1a"/><rect x="506" y="119" width="3" height="3" fill="#ff7611"/><rect x="509" y="119" width="3" height="3" fill="#ff7104"/><rect x="512" y="119" width="3" height="3" fill="#ff6e00"/><rect x="515" y="119" width="3" height="3" fill="#ff6b00"/><rect x="518" y="119" width="3" height="3" fill="#ff6900"/><rect x="521" y="119" width="3" height="3" fill="#ff6600"/><rect x="524" y="119" width="3" height="3" fill="#ff6400"/><rect x="527" y="119" width="3" height="3" fill="#ff6200"/><rect x="530" y="119" width="3" height="3" fill="#ff6000"/><rect x="533" y="119" width="3" height="3" fill="#ff5e00"/><rect x="536" y="119" width="3" height="3" fill="#ff5c00"/><rect x="539" y="119" width="3" height="3" fill="#ff5b00"/><rect x="542" y="119" width="3" height="3" fill="#ff5900"/><rect x="545" y="119" width="3" height="3" fill="#ff5700"/><rect x="548" y="119" width="3" height="3" fill="#ff5600"/><rect x="551" y="119" width="3" height="3" fill="#ff5500"/><rect x="554" y="119" width="3" height="3" fill="#ff5300"/><rect x="557" y="119" width="3" height="3" fill="#ff5200"/><rect x="560" y="119" width="3" height="3" fill="#ff5100"/><rect x="563" y="119" width="3" height="3" fill="#ff4f00"/><rect x="566" y="119" width="3" height="3" fill="#ff4e00"/><rect x="569" y="119" width="3" height="3" fill="#ff4d00"/><rect x="572" y="119" width="3" height="3" fill="#ff4c00"/><rect x="575" y="119" width="3" height="3" fill="#ff4b00"/><rect x="347" y="122" width="3" height="3" fill="#00edda"/><rect x="350" y="122" width="3" height="3" fill="#00edda"/><rect x="353" y="122" width="3" height="3" fill="#00edd9"/><rect x="356" y="122" width="3" height="3" fill="#00edd8"/><rect x="359" y="122" width="3" height="3" fill="#00edd8"/><rect x="362" y="122" width="3" height="3" fill="#00edd7"/><rect x="365" y="122" width="3" height="3" fill="#00edd6"/><rect x="368" y="122" width="3" height="3" fill="#00edd5"/><rect x="371" y="122" width="3" height="3" fill="#00edd5"/><rect x="374" y="122" width="3" height="3" fill="#00edd4"/><rect x="377" y="122" width="3" height="3" fill="#00edd3"/><rect x="380" y="122" width="3" height="3" fill="#00edd2"/><rect x="383" y="122" width="3" height="3" fill="#00edd0"/><rect x="386" y="122" width="3" height="3" fill="#00edcf"/><rect x="389" y="122" width="3" height="3" fill="#00edce"/><rect x="392" y="122" width="3" height="3" fill="#00edcc"/><rect x="395" y="122" width="3" height="3" fill="#00edca"/><rect x="398" y="122" width="3" height="3" fill="#00edc9"/><rect x="401" y="122" width="3" height="3" fill="#00edc6"/><rect x="404" y="122" width="3" height="3" fill="#00edc4"/><rect x="407" y="122" width="3" height="3" fill="#00edc1"/><rect x="410" y="122" width="3" height="3" fill="#00edbe"/><rect x="413" y="122" width="3" height="3" fill="#00edbb"/><rect x="416" y="122" width="3" height="3" fill="#00edb6"/><rect x="419" y="122" width="3" height="3" fill="#00edb2"/><rect x="422" y="122" width="3" height="3" fill="#00edac"/><rect x="425" y="122" width="3" height="3" fill="#35ffb7"/><rect x="428" y="122" width="3" height="3" fill="#52ffb5"/><rect x="431" y="122" width="3" height="3" fill="#69ffb4"/><rect x="434" y="122" width="3" height="3" fill="#7effb2"/><rect x="437" y="122" width="3" height="3" fill="#91ffb0"/><rect x="440" y="122" width="3" height="3" fill="#a4ffae"/><rect x="443" y="122" width="3" height="3" fill="#b6ffac"/><rect x="446" y="122" width="3" height="3" fill="#c7ffaa"/><rect x="449" y="122" width="3" height="3" fill="#d8ffa8"/><rect x="452" y="122" width="3" height="3" fill="#e9ffa6"/><rect x="455" y="122" width="3" height="3" fill="#faffa3"/><rect x="458" y="122" width="3" height="3" fill="#fff399"/><rect x="461" y="122" width="3" height="3" fill="#ffe58d"/><rect x="464" y="122" width="3" height="3" fill="#ffd883"/><rect x="467" y="122" width="3" height="3" fill="#ffcc79"/><rect x="470" y="122" width="3" height="3" fill="#ffc170"/><rect x="473" y="122" width="3" height="3" fill="#ffb868"/><rect x="476" y="122" width="3" height="3" fill="#ffaf60"/><rect x="479" y="122" width="3" height="3" fill="#ffa659"/><rect x="482" y="122" width="3" height="3" fill="#ff9e52"/><rect x="485" y="122" width="3" height="3" fill="#ff974b"/><rect x="488" y="122" width="3" height="3" fill="#ff9045"/><rect x="491" y="122" width="3" height="3" fill="#ff8a3e"/><rect x="494" y="122" width="3" height="3" fill="#ff8438"/><rect x="497" y="122" width="3" height="3" fill="#ff7e32"/><rect x="500" y="122" width="3" height="3" fill="#ff792c"/><rect x="503" y="122" width="3" height="3" fill="#ff7325"/><rect x="506" y="122" width="3" height="3" fill="#ff6e1e"/><rect x="509" y="122" width="3" height="3" fill="#ff6a17"/><rect x="512" y="122" width="3" height="3" fill="#ff650e"/><rect x="515" y="122" width="3" height="3" fill="#ff6100"/><rect x="518" y="122" width="3" height="3" fill="#ff5f00"/><rect x="521" y="122" width="3" height="3" fill="#ff5c00"/><rect x="524" y="122" width="3" height="3" fill="#ff5a00"/><rect x="527" y="122" width="3" height="3" fill="#ff5800"/><rect x="530" y="122" width="3" height="3" fill="#ff5700"/><rect x="533" y="122" width="3" height="3" fill="#ff5500"/><rect x="536" y="122" width="3" height="3" fill="#ff5300"/><rect x="539" y="122" width="3" height="3" fill="#ff5200"/><rect x="542" y="122" width="3" height="3" fill="#ff5000"/><rect x="545" y="122" width="3" height="3" fill="#ff4f00"/><rect x="548" y="122" width="3" height="3" fill="#ff4e00"/><rect x="551" y="122" width="3" height="3" fill="#ff4c00"/><rect x="554" y="122" width="3" height="3" fill="#ff4b00"/><rect x="557" y="122" width="3" height="3" fill="#ff4a00"/><rect x="560" y="122" width="3" height="3" fill="#ff4900"/><rect x="563" y="122" width="3" height="3" fill="#ff4800"/><rect x="566" y="122" width="3" height="3" fill="#ff4700"/><rect x="569" y="122" width="3" height="3" fill="#ff4600"/><rect x="572" y="122" width="3" height="3" fill="#ff4500"/><rect x="575" y="122" width="3" height="3" fill="#ff4400"/><rect x="347" y="125" width="3" height="3" fill="#00eddd"/><rect x="350" y="125" width="3" height="3" fill="#00eddd"/><rect x="353" y="125" width="3" height="3" fill="#00eddc"/><rect x="356" y="125" width="3" height="3" fill="#00eddc"/><rect x="359" y="125" width="3" height="3" fill="#00eddb"/><rect x="362" y="125" width="3" height="3" fill="#00eddb"/><rect x="365" y="125" width="3" height="3" fill="#00edda"/><rect x="368" y="125" width="3" height="3" fill="#00edd9"/><rect x="371" y="125" width="3" height="3" fill="#00edd9"/><rect x="374" y="125" width="3" height="3" fill="#00edd8"/><rect x="377" y="125" width="3" height="3" fill="#00edd7"/><rect x="380" y="125" width="3" height="3" fill="#00edd6"/><rect x="383" y="125" width="3" height="3" fill="#00edd5"/><rect x="386" y="125" width="3" height="3" fill="#00edd4"/><rect x="389" y="125" width="3" height="3" fill="#00edd3"/><rect x="392" y="125" width="3" height="3" fill="#00edd1"/><rect x="395" y="125" width="3" height="3" fill="#00edd0"/><rect x="398" y="125" width="3" height="3" fill="#00edce"/><rect x="401" y="125" width="3" height="3" fill="#00edcc"/><rect x="404" y="125" width="3" height="3" fill="#00edca"/><rect x="407" y="125" width="3" height="3" fill="#00edc8"/><rect x="410" y="125" width="3" height="3" fill="#00edc5"/><rect x="413" y="125" width="3" height="3" fill="#00edc2"/><rect x="416" y="125" width="3" height="3" fill="#00edbe"/><rect x="419" y="125" width="3" height="3" fill="#00edba"/><rect x="422" y="125" width="3" height="3" fill="#1effc4"/><rect x="425" y="125" width="3" height="3" fill="#43ffc3"/><rect x="428" y="125" width="3" height="3" fill="#5dffc1"/><rect x="431" y="125" width="3" height="3" fill="#74ffc0"/><rect x="434" y="125" width="3" height="3" fill="#89ffbe"/><rect x="437" y="125" width="3" height="3" fill="#9dffbd"/><rect x="440" y="125" width="3" height="3" fill="#afffbb"/><rect x="443" y="125" width="3" height="3" fill="#c2ffba"/><rect x="446" y="125" width="3" height="3" fill="#d4ffb8"/><rect x="449" y="125" width="3" height="3" fill="#e5ffb6"/><rect x="452" y="125" width="3" height="3" fill="#f7ffb4"/><rect x="455" y="125" width="3" height="3" fill="#fff6ab"/><rect x="458" y="125" width="3" height="3" fill="#ffe69e"/><rect x="461" y="125" width="3" height="3" fill="#ffd993"/><rect x="464" y="125" width="3" height="3" fill="#ffcc89"/><rect x="467" y="125" width="3" height="3" fill="#ffc17f"/><rect x="470" y="125" width="3" height="3" fill="#ffb776"/><rect x="473" y="125" width="3" height="3" fill="#ffae6e"/><rect x="476" y="125" width="3" height="3" fill="#ffa566"/><rect x="479" y="125" width="3" height="3" fill="#ff9d5f"/><rect x="482" y="125" width="3" height="3" fill="#ff9658"/><rect x="485" y="125" width="3" height="3" fill="#ff8f52"/><rect x="488" y="125" width="3" height="3" fill="#ff884b"/><rect x="491" y="125" width="3" height="3" fill="#ff8245"/><rect x="494" y="125" width="3" height="3" fill="#ff7c3f"/><rect x="497" y="125" width="3" height="3" fill="#ff763a"/><rect x="500" y="125" width="3" height="3" fill="#ff7134"/><rect x="503" y="125" width="3" height="3" fill="#ff6c2e"/><rect x="506" y="125" width="3" height="3" fill="#ff6728"/><rect x="509" y="125" width="3" height="3" fill="#ff6222"/><rect x="512" y="125" width="3" height="3" fill="#ff5e1b"/><rect x="515" y="125" width="3" height="3" fill="#ff5914"/><rect x="518" y="125" width="3" height="3" fill="#ff550b"/><rect x="521" y="125" width="3" height="3" fill="#ff5200"/><rect x="524" y="125" width="3" height="3" fill="#ff5000"/><rect x="527" y="125" width="3" height="3" fill="#ff4e00"/><rect x="530" y="125" width="3" height="3" fill="#ff4d00"/><rect x="533" y="125" width="3" height="3" fill="#ff4b00"/><rect x="536" y="125" width="3" height="3" fill="#ff4a00"/><rect x="539" y="125" width="3" height="3" fill="#ff4800"/><rect x="542" y="125" width="3" height="3" fill="#ff4700"/><rect x="545" y="125" width="3" height="3" fill="#ff4600"/><rect x="548" y="125" width="3" height="3" fill="#ff4500"/><rect x="551" y="125" width="3" height="3" fill="#ff4300"/><rect x="554" y="125" width="3" height="3" fill="#ff4200"/><rect x="557" y="125" width="3" height="3" fill="#ff4100"/><rect x="560" y="125" width="3" height="3" fill="#ff4000"/><rect x="563" y="125" width="3" height="3" fill="#ff3f00"/><rect x="566" y="125" width="3" height="3" fill="#ff3e00"/><rect x="569" y="125" width="3" height="3" fill="#ff3e00"/><rect x="572" y="125" width="3" height="3" fill="#ff3d00"/><rect x="575" y="125" width="3" height="3" fill="#ff3c00"/><rect x="347" y="128" width="3" height="3" fill="#00ede1"/><rect x="350" y="128" width="3" height="3" fill="#00ede0"/><rect x="353" y="128" width="3" height="3" fill="#00ede0"/><rect x="356" y="128" width="3" height="3" fill="#00ede0"/><rect x="359" y="128" width="3" height="3" fill="#00eddf"/><rect x="362" y="128" width="3" height="3" fill="#00eddf"/><rect x="365" y="128" width="3" height="3" fill="#00edde"/><rect x="368" y="128" width="3" height="3" fill="#00edde"/><rect x="371" y="128" width="3" height="3" fill="#00eddd"/><rect x="374" y="128" width="3" height="3" fill="#00eddc"/><rect x="377" y="128" width="3" height="3" fill="#00eddc"/><rect x="380" y="128" width="3" height="3" fill="#00eddb"/><rect x="383" y="128" width="3" height="3" fill="#00edda"/><rect x="386" y="128" width="3" height="3" fill="#00edd9"/><rect x="389" y="128" width="3" height="3" fill="#00edd8"/><rect x="392" y="128" width="3" height="3" fill="#00edd7"/><rect x="395" y="128" width="3" height="3" fill="#00edd6"/><rect x="398" y="128" width="3" height="3" fill="#00edd5"/><rect x="401" y="128" width="3" height="3" fill="#00edd3"/><rect x="404" y="128" width="3" height="3" fill="#00edd1"/><rect x="407" y="128" width="3" height="3" fill="#00edcf"/><rect x="410" y="128" width="3" height="3" fill="#00edcd"/><rect x="413" y="128" width="3" height="3" fill="#00edca"/><rect x="416" y="128" width="3" height="3" fill="#00edc7"/><rect x="419" y="128" width="3" height="3" fill="#00edc3"/><rect x="422" y="128" width="3" height="3" fill="#2fffd0"/><rect x="425" y="128" width="3" height="3" fill="#4fffcf"/><rect x="428" y="128" width="3" height="3" fill="#69ffce"/><rect x="431" y="128" width="3" height="3" fill="#80ffcd"/><rect x="434" y="128" width="3" height="3" fill="#95ffcc"/><rect x="437" y="128" width="3" height="3" fill="#a9ffca"/><rect x="440" y="128" width="3" height="3" fill="#bcffc9"/><rect x="443" y="128" width="3" height="3" fill="#cfffc8"/><rect x="446" y="128" width="3" height="3" fill="#e1ffc6"/><rect x="449" y="128" width="3" height="3" fill="#f4ffc5"/><rect x="452" y="128" width="3" height="3" fill="#fff8be"/><rect x="455" y="128" width="3" height="3" fill="#ffe8b0"/><rect x="458" y="128" width="3" height="3" fill="#ffd9a3"/><rect x="461" y="128" width="3" height="3" fill="#ffcd98"/><rect x="464" y="128" width="3" height="3" fill="#ffc18e"/><rect x="467" y="128" width="3" height="3" fill="#ffb684"/><rect x="470" y="128" width="3" height="3" fill="#ffad7c"/><rect x="473" y="128" width="3" height="3" fill="#ffa474"/><rect x="476" y="128" width="3" height="3" fill="#ff9c6c"/><rect x="479" y="128" width="3" height="3" fill="#ff9465"/><rect x="482" y="128" width="3" height="3" fill="#ff8d5e"/><rect x="485" y="128" width="3" height="3" fill="#ff8658"/><rect x="488" y="128" width="3" height="3" fill="#ff8052"/><rect x="491" y="128" width="3" height="3" fill="#ff7a4c"/><rect x="494" y="128" width="3" height="3" fill="#ff7446"/><rect x="497" y="128" width="3" height="3" fill="#ff6e40"/><rect x="500" y="128" width="3" height="3" fill="#ff693b"/><rect x="503" y="128" width="3" height="3" fill="#ff6435"/><rect x="506" y="128" width="3" height="3" fill="#ff5f30"/><rect x="509" y="128" width="3" height="3" fill="#ff5b2a"/><rect x="512" y="128" width="3" height="3" fill="#ff5625"/><rect x="515" y="128" width="3" height="3" fill="#ff521f"/><rect x="518" y="128" width="3" height="3" fill="#ff4d18"/><rect x="521" y="128" width="3" height="3" fill="#ff4911"/><rect x="524" y="128" width="3" height="3" fill="#ff4507"/><rect x="527" y="128" width="3" height="3" fill="#ff4300"/><rect x="530" y="128" width="3" height="3" fill="#ff4200"/><rect x="533" y="128" width="3" height="3" fill="#ff4000"/><rect x="536" y="128" width="3" height="3" fill="#ff3f00"/><rect x="539" y="128" width="3" height="3" fill="#ff3e00"/><rect x="542" y="128" width="3" height="3" fill="#ff3d00"/><rect x="545" y="128" width="3" height="3" fill="#ff3c00"/><rect x="548" y="128" width="3" height="3" fill="#ff3b00"/><rect x="551" y="128" width="3" height="3" fill="#ff3a00"/><rect x="554" y="128" width="3" height="3" fill="#ff3900"/><rect x="557" y="128" width="3" height="3" fill="#ff3800"/><rect x="560" y="128" width="3" height="3" fill="#ff3700"/><rect x="563" y="128" width="3" height="3" fill="#ff3600"/><rect x="566" y="128" width="3" height="3" fill="#ff3500"/><rect x="569" y="128" width="3" height="3" fill="#ff3500"/><rect x="572" y="128" width="3" height="3" fill="#ff3400"/><rect x="575" y="128" width="3" height="3" fill="#ff3300"/><rect x="347" y="131" width="3" height="3" fill="#00ede4"/><rect x="350" y="131" width="3" height="3" fill="#00ede4"/><rect x="353" y="131" width="3" height="3" fill="#00ede4"/><rect x="356" y="131" width="3" height="3" fill="#00ede3"/><rect x="359" y="131" width="3" height="3" fill="#00ede3"/><rect x="362" y="131" width="3" height="3" fill="#00ede3"/><rect x="365" y="131" width="3" height="3" fill="#00ede2"/><rect x="368" y="131" width="3" height="3" fill="#00ede2"/><rect x="371" y="131" width="3" height="3" fill="#00ede1"/><rect x="374" y="131" width="3" height="3" fill="#00ede1"/><rect x="377" y="131" width="3" height="3" fill="#00ede1"/><rect x="380" y="131" width="3" height="3" fill="#00ede0"/><rect x="383" y="131" width="3" height="3" fill="#00eddf"/><rect x="386" y="131" width="3" height="3" fill="#00eddf"/><rect x="389" y="131" width="3" height="3" fill="#00edde"/><rect x="392" y="131" width="3" height="3" fill="#00eddd"/><rect x="395" y="131" width="3" height="3" fill="#00eddc"/><rect x="398" y="131" width="3" height="3" fill="#00eddb"/><rect x="401" y="131" width="3" height="3" fill="#00edda"/><rect x="404" y="131" width="3" height="3" fill="#00edd9"/><rect x="407" y="131" width="3" height="3" fill="#00edd7"/><rect x="410" y="131" width="3" height="3" fill="#00edd5"/><rect x="413" y="131" width="3" height="3" fill="#00edd3"/><rect x="416" y="131" width="3" height="3" fill="#00edd1"/><rect x="419" y="131" width="3" height="3" fill="#11ffde"/><rect x="422" y="131" width="3" height="3" fill="#3effdd"/><rect x="425" y="131" width="3" height="3" fill="#5cffdc"/><rect x="428" y="131" width="3" height="3" fill="#75ffdb"/><rect x="431" y="131" width="3" height="3" fill="#8cffdb"/><rect x="434" y="131" width="3" height="3" fill="#a1ffda"/><rect x="437" y="131" width="3" height="3" fill="#b5ffd9"/><rect x="440" y="131" width="3" height="3" fill="#c9ffd8"/><rect x="443" y="131" width="3" height="3" fill="#ddffd7"/><rect x="446" y="131" width="3" height="3" fill="#f0ffd6"/><rect x="449" y="131" width="3" height="3" fill="#fffbd1"/><rect x="452" y="131" width="3" height="3" fill="#ffeac2"/><rect x="455" y="131" width="3" height="3" fill="#ffdab4"/><rect x="458" y="131" width="3" height="3" fill="#ffcda8"/><rect x="461" y="131" width="3" height="3" fill="#ffc19c"/><rect x="464" y="131" width="3" height="3" fill="#ffb692"/><rect x="467" y="131" width="3" height="3" fill="#ffac89"/><rect x="470" y="131" width="3" height="3" fill="#ffa381"/><rect x="473" y="131" width="3" height="3" fill="#ff9a79"/><rect x="476" y="131" width="3" height="3" fill="#ff9271"/><rect x="479" y="131" width="3" height="3" fill="#ff8b6a"/><rect x="482" y="131" width="3" height="3" fill="#ff8464"/><rect x="485" y="131" width="3" height="3" fill="#ff7d5d"/><rect x="488" y="131" width="3" height="3" fill="#ff7757"/><rect x="491" y="131" width="3" height="3" fill="#ff7152"/><rect x="494" y="131" width="3" height="3" fill="#ff6c4c"/><rect x="497" y="131" width="3" height="3" fill="#ff6647"/><rect x="500" y="131" width="3" height="3" fill="#ff6141"/><rect x="503" y="131" width="3" height="3" fill="#ff5c3c"/><rect x="506" y="131" width="3" height="3" fill="#ff5737"/><rect x="509" y="131" width="3" height="3" fill="#ff5332"/><rect x="512" y="131" width="3" height="3" fill="#ff4e2d"/><rect x="515" y="131" width="3" height="3" fill="#ff4a27"/><rect x="518" y="131" width="3" height="3" fill="#ff4622"/><rect x="521" y="131" width="3" height="3" fill="#ff411c"/><rect x="524" y="131" width="3" height="3" fill="#ff3d16"/><rect x="527" y="131" width="3" height="3" fill="#ff390e"/><rect x="530" y="131" width="3" height="3" fill="#ff3500"/><rect x="533" y="131" width="3" height="3" fill="#ff3400"/><rect x="536" y="131" width="3" height="3" fill="#ff3300"/><rect x="539" y="131" width="3" height="3" fill="#ff3200"/><rect x="542" y="131" width="3" height="3" fill="#ff3100"/><rect x="545" y="131" width="3" height="3" fill="#ff3000"/><rect x="548" y="131" width="3" height="3" fill="#ff2f00"/><rect x="551" y="131" width="3" height="3" fill="#ff2e00"/><rect x="554" y="131" width="3" height="3" fill="#ff2e00"/><rect x="557" y="131" width="3" height="3" fill="#ff2d00"/><rect x="560" y="131" width="3" height="3" fill="#ff2c00"/><rect x="563" y="131" width="3" height="3" fill="#ff2c00"/><rect x="566" y="131" width="3" height="3" fill="#ff2b00"/><rect x="569" y="131" width="3" height="3" fill="#ff2a00"/><rect x="572" y="131" width="3" height="3" fill="#ff2a00"/><rect x="575" y="131" width="3" height="3" fill="#ff2900"/><rect x="347" y="134" width="3" height="3" fill="#00ede8"/><rect x="350" y="134" width="3" height="3" fill="#00ede8"/><rect x="353" y="134" width="3" height="3" fill="#00ede8"/><rect x="356" y="134" width="3" height="3" fill="#00ede7"/><rect x="359" y="134" width="3" height="3" fill="#00ede7"/><rect x="362" y="134" width="3" height="3" fill="#00ede7"/><rect x="365" y="134" width="3" height="3" fill="#00ede7"/><rect x="368" y="134" width="3" height="3" fill="#00ede6"/><rect x="371" y="134" width="3" height="3" fill="#00ede6"/><rect x="374" y="134" width="3" height="3" fill="#00ede6"/><rect x="377" y="134" width="3" height="3" fill="#00ede6"/><rect x="380" y="134" width="3" height="3" fill="#00ede5"/><rect x="383" y="134" width="3" height="3" fill="#00ede5"/><rect x="386" y="134" width="3" height="3" fill="#00ede5"/><rect x="389" y="134" width="3" height="3" fill="#00ede4"/><rect x="392" y="134" width="3" height="3" fill="#00ede4"/><rect x="395" y="134" width="3" height="3" fill="#00ede3"/><rect x="398" y="134" width="3" height="3" fill="#00ede2"/><rect x="401" y="134" width="3" height="3" fill="#00ede2"/><rect x="404" y="134" width="3" height="3" fill="#00ede1"/><rect x="407" y="134" width="3" height="3" fill="#00ede0"/><rect x="410" y="134" width="3" height="3" fill="#00eddf"/><rect x="413" y="134" width="3" height="3" fill="#00edde"/><rect x="416" y="134" width="3" height="3" fill="#00eddc"/><rect x="419" y="134" width="3" height="3" fill="#28ffeb"/><rect x="422" y="134" width="3" height="3" fill="#4dffeb"/><rect x="425" y="134" width="3" height="3" fill="#69ffea"/><rect x="428" y="134" width="3" height="3" fill="#82ffea"/><rect x="431" y="134" width="3" height="3" fill="#98ffe9"/><rect x="434" y="134" width="3" height="3" fill="#aeffe9"/><rect x="437" y="134" width="3" height="3" fill="#c3ffe8"/><rect x="440" y="134" width="3" height="3" fill="#d7ffe8"/><rect x="443" y="134" width="3" height="3" fill="#ecffe7"/><rect x="446" y="134" width="3" height="3" fill="#fffee6"/><rect x="449" y="134" width="3" height="3" fill="#ffecd4"/><rect x="452" y="134" width="3" height="3" fill="#ffdbc5"/><rect x="455" y="134" width="3" height="3" fill="#ffcdb8"/><rect x="458" y="134" width="3" height="3" fill="#ffc0ac"/><rect x="461" y="134" width="3" height="3" fill="#ffb5a1"/><rect x="464" y="134" width="3" height="3" fill="#ffab97"/><rect x="467" y="134" width="3" height="3" fill="#ffa18e"/><rect x="470" y="134" width="3" height="3" fill="#ff9885"/><rect x="473" y="134" width="3" height="3" fill="#ff907e"/><rect x="476" y="134" width="3" height="3" fill="#ff8976"/><rect x="479" y="134" width="3" height="3" fill="#ff826f"/><rect x="482" y="134" width="3" height="3" fill="#ff7b69"/><rect x="485" y="134" width="3" height="3" fill="#ff7463"/><rect x="488" y="134" width="3" height="3" fill="#ff6e5d"/><rect x="491" y="134" width="3" height="3" fill="#ff6957"/><rect x="494" y="134" width="3" height="3" fill="#ff6352"/><rect x="497" y="134" width="3" height="3" fill="#ff5e4c"/><rect x="500" y="134" width="3" height="3" fill="#ff5947"/><rect x="503" y="134" width="3" height="3" fill="#ff5442"/><rect x="506" y="134" width="3" height="3" fill="#ff4f3d"/><rect x="509" y="134" width="3" height="3" fill="#ff4b38"/><rect x="512" y="134" width="3" height="3" fill="#ff4633"/><rect x="515" y="134" width="3" height="3" fill="#ff422e"/><rect x="518" y="134" width="3" height="3" fill="#ff3d2a"/><rect x="521" y="134" width="3" height="3" fill="#ff3924"/><rect x="524" y="134" width="3" height="3" fill="#ff351f"/><rect x="527" y="134" width="3" height="3" fill="#ff3019"/><rect x="530" y="134" width="3" height="3" fill="#ff2c13"/><rect x="533" y="134" width="3" height="3" fill="#ff280b"/><rect x="536" y="134" width="3" height="3" fill="#ff2400"/><rect x="539" y="134" width="3" height="3" fill="#ff2300"/><rect x="542" y="134" width="3" height="3" fill="#ff2300"/><rect x="545" y="134" width="3" height="3" fill="#ff2200"/><rect x="548" y="134" width="3" height="3" fill="#ff2100"/><rect x="551" y="134" width="3" height="3" fill="#ff2100"/><rect x="554" y="134" width="3" height="3" fill="#ff2000"/><rect x="557" y="134" width="3" height="3" fill="#ff2000"/><rect x="560" y="134" width="3" height="3" fill="#ff1f00"/><rect x="563" y="134" width="3" height="3" fill="#ff1f00"/><rect x="566" y="134" width="3" height="3" fill="#ff1e00"/><rect x="569" y="134" width="3" height="3" fill="#ff1e00"/><rect x="572" y="134" width="3" height="3" fill="#ff1d00"/><rect x="575" y="134" width="3" height="3" fill="#ff1d00"/><rect x="347" y="137" width="3" height="3" fill="#00edec"/><rect x="350" y="137" width="3" height="3" fill="#00edec"/><rect x="353" y="137" width="3" height="3" fill="#00edec"/><rect x="356" y="137" width="3" height="3" fill="#00edec"/><rect x="359" y="137" width="3" height="3" fill="#00edeb"/><rect x="362" y="137" width="3" height="3" fill="#00edeb"/><rect x="365" y="137" width="3" height="3" fill="#00edeb"/><rect x="368" y="137" width="3" height="3" fill="#00edeb"/><rect x="371" y="137" width="3" height="3" fill="#00edeb"/><rect x="374" y="137" width="3" height="3" fill="#00edeb"/><rect x="377" y="137" width="3" height="3" fill="#00edeb"/><rect x="380" y="137" width="3" height="3" fill="#00edeb"/><rect x="383" y="137" width="3" height="3" fill="#00edeb"/><rect x="386" y="137" width="3" height="3" fill="#00edeb"/><rect x="389" y="137" width="3" height="3" fill="#00edeb"/><rect x="392" y="137" width="3" height="3" fill="#00edeb"/><rect x="395" y="137" width="3" height="3" fill="#00edea"/><rect x="398" y="137" width="3" height="3" fill="#00edea"/><rect x="401" y="137" width="3" height="3" fill="#00edea"/><rect x="404" y="137" width="3" height="3" fill="#00edea"/><rect x="407" y="137" width="3" height="3" fill="#00edea"/><rect x="410" y="137" width="3" height="3" fill="#00ede9"/><rect x="413" y="137" width="3" height="3" fill="#00ede9"/><rect x="416" y="137" width="3" height="3" fill="#00ede9"/><rect x="419" y="137" width="3" height="3" fill="#39fffa"/><rect x="422" y="137" width="3" height="3" fill="#5bfffa"/><rect x="425" y="137" width="3" height="3" fill="#76fffa"/><rect x="428" y="137" width="3" height="3" fill="#8ffffa"/><rect x="431" y="137" width="3" height="3" fill="#a6fff9"/><rect x="434" y="137" width="3" height="3" fill="#bcfff9"/><rect x="437" y="137" width="3" height="3" fill="#d2fff9"/><rect x="440" y="137" width="3" height="3" fill="#e7fff9"/><rect x="443" y="137" width="3" height="3" fill="#fcfff9"/><rect x="446" y="137" width="3" height="3" fill="#ffeee8"/><rect x="449" y="137" width="3" height="3" fill="#ffddd7"/><rect x="452" y="137" width="3" height="3" fill="#ffcec8"/><rect x="455" y="137" width="3" height="3" fill="#ffc0bb"/><rect x="458" y="137" width="3" height="3" fill="#ffb4af"/><rect x="461" y="137" width="3" height="3" fill="#ffa9a5"/><rect x="464" y="137" width="3" height="3" fill="#ffa09b"/><rect x="467" y="137" width="3" height="3" fill="#ff9692"/><rect x="470" y="137" width="3" height="3" fill="#ff8e8a"/><rect x="473" y="137" width="3" height="3" fill="#ff8682"/><rect x="476" y="137" width="3" height="3" fill="#ff7f7b"/><rect x="479" y="137" width="3" height="3" fill="#ff7874"/><rect x="482" y="137" width="3" height="3" fill="#ff726e"/><rect x="485" y="137" width="3" height="3" fill="#ff6b67"/><rect x="488" y="137" width="3" height="3" fill="#ff6662"/><rect x="491" y="137" width="3" height="3" fill="#ff605c"/><rect x="494" y="137" width="3" height="3" fill="#ff5b57"/><rect x="497" y="137" width="3" height="3" fill="#ff5552"/><rect x="500" y="137" width="3" height="3" fill="#ff504c"/><rect x="503" y="137" width="3" height="3" fill="#ff4b48"/><rect x="506" y="137" width="3" height="3" fill="#ff4743"/><rect x="509" y="137" width="3" height="3" fill="#ff423e"/><rect x="512" y="137" width="3" height="3" fill="#ff3d39"/><rect x="515" y="137" width="3" height="3" fill="#ff3935"/><rect x="518" y="137" width="3" height="3" fill="#ff3430"/><rect x="521" y="137" width="3" height="3" fill="#ff302c"/><rect x="524" y="137" width="3" height="3" fill="#ff2b27"/><rect x="527" y="137" width="3" height="3" fill="#ff2722"/><rect x="530" y="137" width="3" height="3" fill="#ff221d"/><rect x="533" y="137" width="3" height="3" fill="#ff1d17"/><rect x="536" y="137" width="3" height="3" fill="#ff1711"/><rect x="539" y="137" width="3" height="3" fill="#ff1108"/><rect x="542" y="137" width="3" height="3" fill="#ff0d00"/><rect x="545" y="137" width="3" height="3" fill="#ff0d00"/><rect x="548" y="137" width="3" height="3" fill="#ff0d00"/><rect x="551" y="137" width="3" height="3" fill="#ff0d00"/><rect x="554" y="137" width="3" height="3" fill="#ff0c00"/><rect x="557" y="137" width="3" height="3" fill="#ff0c00"/><rect x="560" y="137" width="3" height="3" fill="#ff0c00"/><rect x="563" y="137" width="3" height="3" fill="#ff0c00"/><rect x="566" y="137" width="3" height="3" fill="#ff0b00"/><rect x="569" y="137" width="3" height="3" fill="#ff0b00"/><rect x="572" y="137" width="3" height="3" fill="#ff0b00"/><rect x="575" y="137" width="3" height="3" fill="#ff0b00"/><rect x="347" y="140" width="3" height="3" fill="#00ebed"/><rect x="350" y="140" width="3" height="3" fill="#00ebed"/><rect x="353" y="140" width="3" height="3" fill="#00ebed"/><rect x="356" y="140" width="3" height="3" fill="#00eaed"/><rect x="359" y="140" width="3" height="3" fill="#00eaed"/><rect x="362" y="140" width="3" height="3" fill="#00eaed"/><rect x="365" y="140" width="3" height="3" fill="#00eaed"/><rect x="368" y="140" width="3" height="3" fill="#00eaed"/><rect x="371" y="140" width="3" height="3" fill="#00eaed"/><rect x="374" y="140" width="3" height="3" fill="#00eaed"/><rect x="377" y="140" width="3" height="3" fill="#00eaed"/><rect x="380" y="140" width="3" height="3" fill="#00e9ed"/><rect x="383" y="140" width="3" height="3" fill="#00e9ed"/><rect x="386" y="140" width="3" height="3" fill="#00e9ed"/><rect x="389" y="140" width="3" height="3" fill="#00e9ed"/><rect x="392" y="140" width="3" height="3" fill="#00e8ed"/><rect x="395" y="140" width="3" height="3" fill="#00e8ed"/><rect x="398" y="140" width="3" height="3" fill="#00e8ed"/><rect x="401" y="140" width="3" height="3" fill="#00e7ed"/><rect x="404" y="140" width="3" height="3" fill="#00e7ed"/><rect x="407" y="140" width="3" height="3" fill="#00e6ed"/><rect x="410" y="140" width="3" height="3" fill="#00e6ed"/><rect x="413" y="140" width="3" height="3" fill="#00e5ed"/><rect x="416" y="140" width="3" height="3" fill="#1cf5ff"/><rect x="419" y="140" width="3" height="3" fill="#46f5ff"/><rect x="422" y="140" width="3" height="3" fill="#65f5ff"/><rect x="425" y="140" width="3" height="3" fill="#7ef4ff"/><rect x="428" y="140" width="3" height="3" fill="#96f4ff"/><rect x="431" y="140" width="3" height="3" fill="#adf4ff"/><rect x="434" y="140" width="3" height="3" fill="#c2f3ff"/><rect x="437" y="140" width="3" height="3" fill="#d7f3ff"/><rect x="440" y="140" width="3" height="3" fill="#ecf2ff"/><rect x="443" y="140" width="3" height="3" fill="#fff0fd"/><rect x="446" y="140" width="3" height="3" fill="#ffdeea"/><rect x="449" y="140" width="3" height="3" fill="#ffceda"/><rect x="452" y="140" width="3" height="3" fill="#ffc0cb"/><rect x="455" y="140" width="3" height="3" fill="#ffb3be"/><rect x="458" y="140" width="3" height="3" fill="#ffa8b3"/><rect x="461" y="140" width="3" height="3" fill="#ff9ea8"/><rect x="464" y="140" width="3" height="3" fill="#ff949f"/><rect x="467" y="140" width="3" height="3" fill="#ff8c96"/><rect x="470" y="140" width="3" height="3" fill="#ff848e"/><rect x="473" y="140" width="3" height="3" fill="#ff7c86"/><rect x="476" y="140" width="3" height="3" fill="#ff757f"/><rect x="479" y="140" width="3" height="3" fill="#ff6f78"/><rect x="482" y="140" width="3" height="3" fill="#ff6872"/><rect x="485" y="140" width="3" height="3" fill="#ff626c"/><rect x="488" y="140" width="3" height="3" fill="#ff5c66"/><rect x="491" y="140" width="3" height="3" fill="#ff5761"/><rect x="494" y="140" width="3" height="3" fill="#ff525b"/><rect x="497" y="140" width="3" height="3" fill="#ff4c56"/><rect x="500" y="140" width="3" height="3" fill="#ff4751"/><rect x="503" y="140" width="3" height="3" fill="#ff424d"/><rect x="506" y="140" width="3" height="3" fill="#ff3e48"/><rect x="509" y="140" width="3" height="3" fill="#ff3943"/><rect x="512" y="140" width="3" height="3" fill="#ff343f"/><rect x="515" y="140" width="3" height="3" fill="#ff2f3b"/><rect x="518" y="140" width="3" height="3" fill="#ff2a36"/><rect x="521" y="140" width="3" height="3" fill="#ff2532"/><rect x="524" y="140" width="3" height="3" fill="#ff202d"/><rect x="527" y="140" width="3" height="3" fill="#ff1b29"/><rect x="530" y="140" width="3" height="3" fill="#ff1524"/><rect x="533" y="140" width="3" height="3" fill="#ff0e1f"/><rect x="536" y="140" width="3" height="3" fill="#ff001a"/><rect x="539" y="140" width="3" height="3" fill="#ff001a"/><rect x="542" y="140" width="3" height="3" fill="#ff001a"/><rect x="545" y="140" width="3" height="3" fill="#ff0019"/><rect x="548" y="140" width="3" height="3" fill="#ff0019"/><rect x="551" y="140" width="3" height="3" fill="#ff0018"/><rect x="554" y="140" width="3" height="3" fill="#ff0018"/><rect x="557" y="140" width="3" height="3" fill="#ff0018"/><rect x="560" y="140" width="3" height="3" fill="#ff0017"/><rect x="563" y="140" width="3" height="3" fill="#ff0017"/><rect x="566" y="140" width="3" height="3" fill="#ff0017"/><rect x="569" y="140" width="3" height="3" fill="#ff0017"/><rect x="572" y="140" width="3" height="3" fill="#ff0016"/><rect x="575" y="140" width="3" height="3" fill="#ff0016"/><rect x="347" y="143" width="3" height="3" fill="#00e7ed"/><rect x="350" y="143" width="3" height="3" fill="#00e7ed"/><rect x="353" y="143" width="3" height="3" fill="#00e6ed"/><rect x="356" y="143" width="3" height="3" fill="#00e6ed"/><rect x="359" y="143" width="3" height="3" fill="#00e6ed"/><rect x="362" y="143" width="3" height="3" fill="#00e6ed"/><rect x="365" y="143" width="3" height="3" fill="#00e5ed"/><rect x="368" y="143" width="3" height="3" fill="#00e5ed"/><rect x="371" y="143" width="3" height="3" fill="#00e5ed"/><rect x="374" y="143" width="3" height="3" fill="#00e4ed"/><rect x="377" y="143" width="3" height="3" fill="#00e4ed"/><rect x="380" y="143" width="3" height="3" fill="#00e3ed"/><rect x="383" y="143" width="3" height="3" fill="#00e3ed"/><rect x="386" y="143" width="3" height="3" fill="#00e2ed"/><rect x="389" y="143" width="3" height="3" fill="#00e2ed"/><rect x="392" y="143" width="3" height="3" fill="#00e1ed"/><rect x="395" y="143" width="3" height="3" fill="#00e0ed"/><rect x="398" y="143" width="3" height="3" fill="#00dfed"/><rect x="401" y="143" width="3" height="3" fill="#00deed"/><rect x="404" y="143" width="3" height="3" fill="#00dded"/><rect x="407" y="143" width="3" height="3" fill="#00dbed"/><rect x="410" y="143" width="3" height="3" fill="#00daed"/><rect x="413" y="143" width="3" height="3" fill="#00d8ed"/><rect x="416" y="143" width="3" height="3" fill="#2ee7ff"/><rect x="419" y="143" width="3" height="3" fill="#50e6ff"/><rect x="422" y="143" width="3" height="3" fill="#6ce5ff"/><rect x="425" y="143" width="3" height="3" fill="#84e5ff"/><rect x="428" y="143" width="3" height="3" fill="#9ae4ff"/><rect x="431" y="143" width="3" height="3" fill="#afe3ff"/><rect x="434" y="143" width="3" height="3" fill="#c4e2ff"/><rect x="437" y="143" width="3" height="3" fill="#d8e2ff"/><rect x="440" y="143" width="3" height="3" fill="#ece1ff"/><rect x="443" y="143" width="3" height="3" fill="#ffdffe"/><rect x="446" y="143" width="3" height="3" fill="#ffceec"/><rect x="449" y="143" width="3" height="3" fill="#ffc0dc"/><rect x="452" y="143" width="3" height="3" fill="#ffb2ce"/><rect x="455" y="143" width="3" height="3" fill="#ffa7c2"/><rect x="458" y="143" width="3" height="3" fill="#ff9cb6"/><rect x="461" y="143" width="3" height="3" fill="#ff92ac"/><rect x="464" y="143" width="3" height="3" fill="#ff89a3"/><rect x="467" y="143" width="3" height="3" fill="#ff819a"/><rect x="470" y="143" width="3" height="3" fill="#ff7992"/><rect x="473" y="143" width="3" height="3" fill="#ff728a"/><rect x="476" y="143" width="3" height="3" fill="#ff6b83"/><rect x="479" y="143" width="3" height="3" fill="#ff657d"/><rect x="482" y="143" width="3" height="3" fill="#ff5f76"/><rect x="485" y="143" width="3" height="3" fill="#ff5970"/><rect x="488" y="143" width="3" height="3" fill="#ff536b"/><rect x="491" y="143" width="3" height="3" fill="#ff4d65"/><rect x="494" y="143" width="3" height="3" fill="#ff4860"/><rect x="497" y="143" width="3" height="3" fill="#ff435b"/><rect x="500" y="143" width="3" height="3" fill="#ff3e56"/><rect x="503" y="143" width="3" height="3" fill="#ff3951"/><rect x="506" y="143" width="3" height="3" fill="#ff344d"/><rect x="509" y="143" width="3" height="3" fill="#ff2f48"/><rect x="512" y="143" width="3" height="3" fill="#ff2944"/><rect x="515" y="143" width="3" height="3" fill="#ff2440"/><rect x="518" y="143" width="3" height="3" fill="#ff1f3c"/><rect x="521" y="143" width="3" height="3" fill="#ff1937"/><rect x="524" y="143" width="3" height="3" fill="#ff1233"/><rect x="527" y="143" width="3" height="3" fill="#ff092f"/><rect x="530" y="143" width="3" height="3" fill="#ff002c"/><rect x="533" y="143" width="3" height="3" fill="#ff002c"/><rect x="536" y="143" width="3" height="3" fill="#ff002b"/><rect x="539" y="143" width="3" height="3" fill="#ff002a"/><rect x="542" y="143" width="3" height="3" fill="#ff0029"/><rect x="545" y="143" width="3" height="3" fill="#ff0029"/><rect x="548" y="143" width="3" height="3" fill="#ff0028"/><rect x="551" y="143" width="3" height="3" fill="#ff0027"/><rect x="554" y="143" width="3" height="3" fill="#ff0027"/><rect x="557" y="143" width="3" height="3" fill="#ff0026"/><rect x="560" y="143" width="3" height="3" fill="#ff0026"/><rect x="563" y="143" width="3" height="3" fill="#ff0025"/><rect x="566" y="143" width="3" height="3" fill="#ff0025"/><rect x="569" y="143" width="3" height="3" fill="#ff0024"/><rect x="572" y="143" width="3" height="3" fill="#ff0024"/><rect x="575" y="143" width="3" height="3" fill="#ff0023"/><rect x="347" y="146" width="3" height="3" fill="#00e3ed"/><rect x="350" y="146" width="3" height="3" fill="#00e2ed"/><rect x="353" y="146" width="3" height="3" fill="#00e2ed"/><rect x="356" y="146" width="3" height="3" fill="#00e2ed"/><rect x="359" y="146" width="3" height="3" fill="#00e1ed"/><rect x="362" y="146" width="3" height="3" fill="#00e1ed"/><rect x="365" y="146" width="3" height="3" fill="#00e0ed"/><rect x="368" y="146" width="3" height="3" fill="#00e0ed"/><rect x="371" y="146" width="3" height="3" fill="#00dfed"/><rect x="374" y="146" width="3" height="3" fill="#00dfed"/><rect x="377" y="146" width="3" height="3" fill="#00deed"/><rect x="380" y="146" width="3" height="3" fill="#00dded"/><rect x="383" y="146" width="3" height="3" fill="#00dced"/><rect x="386" y="146" width="3" height="3" fill="#00dbed"/><rect x="389" y="146" width="3" height="3" fill="#00daed"/><rect x="392" y="146" width="3" height="3" fill="#00d9ed"/><rect x="395" y="146" width="3" height="3" fill="#00d8ed"/><rect x="398" y="146" width="3" height="3" fill="#00d6ed"/><rect x="401" y="146" width="3" height="3" fill="#00d5ed"/><rect x="404" y="146" width="3" height="3" fill="#00d3ed"/><rect x="407" y="146" width="3" height="3" fill="#00d0ed"/><rect x="410" y="146" width="3" height="3" fill="#00ceed"/><rect x="413" y="146" width="3" height="3" fill="#07daff"/><rect x="416" y="146" width="3" height="3" fill="#3bd9ff"/><rect x="419" y="146" width="3" height="3" fill="#59d8ff"/><rect x="422" y="146" width="3" height="3" fill="#72d7ff"/><rect x="425" y="146" width="3" height="3" fill="#88d6ff"/><rect x="428" y="146" width="3" height="3" fill="#9dd5ff"/><rect x="431" y="146" width="3" height="3" fill="#b2d4ff"/><rect x="434" y="146" width="3" height="3" fill="#c5d2ff"/><rect x="437" y="146" width="3" height="3" fill="#d8d1ff"/><rect x="440" y="146" width="3" height="3" fill="#ebd0ff"/><rect x="443" y="146" width="3" height="3" fill="#feceff"/><rect x="446" y="146" width="3" height="3" fill="#ffbfee"/><rect x="449" y="146" width="3" height="3" fill="#ffb1df"/><rect x="452" y="146" width="3" height="3" fill="#ffa5d1"/><rect x="455" y="146" width="3" height="3" fill="#ff9ac4"/><rect x="458" y="146" width="3" height="3" fill="#ff90b9"/><rect x="461" y="146" width="3" height="3" fill="#ff87af"/><rect x="464" y="146" width="3" height="3" fill="#ff7ea6"/><rect x="467" y="146" width="3" height="3" fill="#ff769d"/><rect x="470" y="146" width="3" height="3" fill="#ff6f95"/><rect x="473" y="146" width="3" height="3" fill="#ff688e"/><rect x="476" y="146" width="3" height="3" fill="#ff6187"/><rect x="479" y="146" width="3" height="3" fill="#ff5b80"/><rect x="482" y="146" width="3" height="3" fill="#ff547a"/><rect x="485" y="146" width="3" height="3" fill="#ff4f74"/><rect x="488" y="146" width="3" height="3" fill="#ff496f"/><rect x="491" y="146" width="3" height="3" fill="#ff4369"/><rect x="494" y="146" width="3" height="3" fill="#ff3e64"/><rect x="497" y="146" width="3" height="3" fill="#ff395f"/><rect x="500" y="146" width="3" height="3" fill="#ff335a"/><rect x="503" y="146" width="3" height="3" fill="#ff2e56"/><rect x="506" y="146" width="3" height="3" fill="#ff2851"/><rect x="509" y="146" width="3" height="3" fill="#ff234d"/><rect x="512" y="146" width="3" height="3" fill="#ff1d49"/><rect x="515" y="146" width="3" height="3" fill="#ff1645"/><rect x="518" y="146" width="3" height="3" fill="#ff0f40"/><rect x="521" y="146" width="3" height="3" fill="#ff013c"/><rect x="524" y="146" width="3" height="3" fill="#ff003b"/><rect x="527" y="146" width="3" height="3" fill="#ff003a"/><rect x="530" y="146" width="3" height="3" fill="#ff0039"/><rect x="533" y="146" width="3" height="3" fill="#ff0038"/><rect x="536" y="146" width="3" height="3" fill="#ff0037"/><rect x="539" y="146" width="3" height="3" fill="#ff0036"/><rect x="542" y="146" width="3" height="3" fill="#ff0035"/><rect x="545" y="146" width="3" height="3" fill="#ff0034"/><rect x="548" y="146" width="3" height="3" fill="#ff0034"/><rect x="551" y="146" width="3" height="3" fill="#ff0033"/><rect x="554" y="146" width="3" height="3" fill="#ff0032"/><rect x="557" y="146" width="3" height="3" fill="#ff0031"/><rect x="560" y="146" width="3" height="3" fill="#ff0031"/><rect x="563" y="146" width="3" height="3" fill="#ff0030"/><rect x="566" y="146" width="3" height="3" fill="#ff002f"/><rect x="569" y="146" width="3" height="3" fill="#ff002f"/><rect x="572" y="146" width="3" height="3" fill="#ff002e"/><rect x="575" y="146" width="3" height="3" fill="#ff002e"/><rect x="347" y="149" width="3" height="3" fill="#00dfed"/><rect x="350" y="149" width="3" height="3" fill="#00deed"/><rect x="353" y="149" width="3" height="3" fill="#00deed"/><rect x="356" y="149" width="3" height="3" fill="#00dded"/><rect x="359" y="149" width="3" height="3" fill="#00dded"/><rect x="362" y="149" width="3" height="3" fill="#00dced"/><rect x="365" y="149" width="3" height="3" fill="#00dbed"/><rect x="368" y="149" width="3" height="3" fill="#00dbed"/><rect x="371" y="149" width="3" height="3" fill="#00daed"/><rect x="374" y="149" width="3" height="3" fill="#00d9ed"/><rect x="377" y="149" width="3" height="3" fill="#00d8ed"/><rect x="380" y="149" width="3" height="3" fill="#00d7ed"/><rect x="383" y="149" width="3" height="3" fill="#00d6ed"/><rect x="386" y="149" width="3" height="3" fill="#00d4ed"/><rect x="389" y="149" width="3" height="3" fill="#00d3ed"/><rect x="392" y="149" width="3" height="3" fill="#00d1ed"/><rect x="395" y="149" width="3" height="3" fill="#00d0ed"/><rect x="398" y="149" width="3" height="3" fill="#00cded"/><rect x="401" y="149" width="3" height="3" fill="#00cbed"/><rect x="404" y="149" width="3" height="3" fill="#00c8ed"/><rect x="407" y="149" width="3" height="3" fill="#00c5ed"/><rect x="410" y="149" width="3" height="3" fill="#00c1ed"/><rect x="413" y="149" width="3" height="3" fill="#21ccff"/><rect x="416" y="149" width="3" height="3" fill="#45cbff"/><rect x="419" y="149" width="3" height="3" fill="#60caff"/><rect x="422" y="149" width="3" height="3" fill="#77c9ff"/><rect x="425" y="149" width="3" height="3" fill="#8dc7ff"/><rect x="428" y="149" width="3" height="3" fill="#a1c6ff"/><rect x="431" y="149" width="3" height="3" fill="#b4c4ff"/><rect x="434" y="149" width="3" height="3" fill="#c6c3ff"/><rect x="437" y="149" width="3" height="3" fill="#d9c1ff"/><rect x="440" y="149" width="3" height="3" fill="#ebbfff"/><rect x="443" y="149" width="3" height="3" fill="#fdbdff"/><rect x="446" y="149" width="3" height="3" fill="#ffb0f0"/><rect x="449" y="149" width="3" height="3" fill="#ffa3e1"/><rect x="452" y="149" width="3" height="3" fill="#ff98d3"/><rect x="455" y="149" width="3" height="3" fill="#ff8dc7"/><rect x="458" y="149" width="3" height="3" fill="#ff84bc"/><rect x="461" y="149" width="3" height="3" fill="#ff7bb2"/><rect x="464" y="149" width="3" height="3" fill="#ff73a9"/><rect x="467" y="149" width="3" height="3" fill="#ff6ba1"/><rect x="470" y="149" width="3" height="3" fill="#ff6499"/><rect x="473" y="149" width="3" height="3" fill="#ff5d91"/><rect x="476" y="149" width="3" height="3" fill="#ff568b"/><rect x="479" y="149" width="3" height="3" fill="#ff5084"/><rect x="482" y="149" width="3" height="3" fill="#ff4a7e"/><rect x="485" y="149" width="3" height="3" fill="#ff4478"/><rect x="488" y="149" width="3" height="3" fill="#ff3e73"/><rect x="491" y="149" width="3" height="3" fill="#ff386d"/><rect x="494" y="149" width="3" height="3" fill="#ff3368"/><rect x="497" y="149" width="3" height="3" fill="#ff2d63"/><rect x="500" y="149" width="3" height="3" fill="#ff275f"/><rect x="503" y="149" width="3" height="3" fill="#ff215a"/><rect x="506" y="149" width="3" height="3" fill="#ff1b56"/><rect x="509" y="149" width="3" height="3" fill="#ff1451"/><rect x="512" y="149" width="3" height="3" fill="#ff0a4d"/><rect x="515" y="149" width="3" height="3" fill="#ff004a"/><rect x="518" y="149" width="3" height="3" fill="#ff0049"/><rect x="521" y="149" width="3" height="3" fill="#ff0047"/><rect x="524" y="149" width="3" height="3" fill="#ff0046"/><rect x="527" y="149" width="3" height="3" fill="#ff0045"/><rect x="530" y="149" width="3" height="3" fill="#ff0043"/><rect x="533" y="149" width="3" height="3" fill="#ff0042"/><rect x="536" y="149" width="3" height="3" fill="#ff0041"/><rect x="539" y="149" width="3" height="3" fill="#ff0040"/><rect x="542" y="149" width="3" height="3" fill="#ff003f"/><rect x="545" y="149" width="3" height="3" fill="#ff003e"/><rect x="548" y="149" width="3" height="3" fill="#ff003d"/><rect x="551" y="149" width="3" height="3" fill="#ff003c"/><rect x="554" y="149" width="3" height="3" fill="#ff003b"/><rect x="557" y="149" width="3" height="3" fill="#ff003a"/><rect x="560" y="149" width="3" height="3" fill="#ff003a"/><rect x="563" y="149" width="3" height="3" fill="#ff0039"/><rect x="566" y="149" width="3" height="3" fill="#ff0038"/><rect x="569" y="149" width="3" height="3" fill="#ff0037"/><rect x="572" y="149" width="3" height="3" fill="#ff0037"/><rect x="575" y="149" width="3" height="3" fill="#ff0036"/><rect x="347" y="152" width="3" height="3" fill="#00dbed"/><rect x="350" y="152" width="3" height="3" fill="#00daed"/><rect x="353" y="152" width="3" height="3" fill="#00d9ed"/><rect x="356" y="152" width="3" height="3" fill="#00d9ed"/><rect x="359" y="152" width="3" height="3" fill="#00d8ed"/><rect x="362" y="152" width="3" height="3" fill="#00d7ed"/><rect x="365" y="152" width="3" height="3" fill="#00d6ed"/><rect x="368" y="152" width="3" height="3" fill="#00d5ed"/><rect x="371" y="152" width="3" height="3" fill="#00d4ed"/><rect x="374" y="152" width="3" height="3" fill="#00d3ed"/><rect x="377" y="152" width="3" height="3" fill="#00d2ed"/><rect x="380" y="152" width="3" height="3" fill="#00d1ed"/><rect x="383" y="152" width="3" height="3" fill="#00cfed"/><rect x="386" y="152" width="3" height="3" fill="#00cded"/><rect x="389" y="152" width="3" height="3" fill="#00cced"/><rect x="392" y="152" width="3" height="3" fill="#00c9ed"/><rect x="395" y="152" width="3" height="3" fill="#00c7ed"/><rect x="398" y="152" width="3" height="3" fill="#00c4ed"/><rect x="401" y="152" width="3" height="3" fill="#00c1ed"/><rect x="404" y="152" width="3" height="3" fill="#00beed"/><rect x="407" y="152" width="3" height="3" fill="#00b9ed"/><rect x="410" y="152" width="3" height="3" fill="#00b4ed"/><rect x="413" y="152" width="3" height="3" fill="#30bfff"/><rect x="416" y="152" width="3" height="3" fill="#4ebeff"/><rect x="419" y="152" width="3" height="3" fill="#66bcff"/><rect x="422" y="152" width="3" height="3" fill="#7cbbff"/><rect x="425" y="152" width="3" height="3" fill="#90b9ff"/><rect x="428" y="152" width="3" height="3" fill="#a3b7ff"/><rect x="431" y="152" width="3" height="3" fill="#b6b5ff"/><rect x="434" y="152" width="3" height="3" fill="#c8b3ff"/><rect x="437" y="152" width="3" height="3" fill="#d9b1ff"/><rect x="440" y="152" width="3" height="3" fill="#ebafff"/><rect x="443" y="152" width="3" height="3" fill="#fcadff"/><rect x="446" y="152" width="3" height="3" fill="#ffa1f1"/><rect x="449" y="152" width="3" height="3" fill="#ff95e3"/><rect x="452" y="152" width="3" height="3" fill="#ff8ad6"/><rect x="455" y="152" width="3" height="3" fill="#ff80ca"/><rect x="458" y="152" width="3" height="3" fill="#ff77bf"/><rect x="461" y="152" width="3" height="3" fill="#ff6fb5"/><rect x="464" y="152" width="3" height="3" fill="#ff67ac"/><rect x="467" y="152" width="3" height="3" fill="#ff5fa4"/><rect x="470" y="152" width="3" height="3" fill="#ff589c"/><rect x="473" y="152" width="3" height="3" fill="#ff5195"/><rect x="476" y="152" width="3" height="3" fill="#ff4b8e"/><rect x="479" y="152" width="3" height="3" fill="#ff4588"/><rect x="482" y="152" width="3" height="3" fill="#ff3e82"/><rect x="485" y="152" width="3" height="3" fill="#ff387c"/><rect x="488" y="152" width="3" height="3" fill="#ff3276"/><rect x="491" y="152" width="3" height="3" fill="#ff2c71"/><rect x="494" y="152" width="3" height="3" fill="#ff266c"/><rect x="497" y="152" width="3" height="3" fill="#ff1f67"/><rect x="500" y="152" width="3" height="3" fill="#ff1863"/><rect x="503" y="152" width="3" height="3" fill="#ff105e"/><rect x="506" y="152" width="3" height="3" fill="#ff025a"/><rect x="509" y="152" width="3" height="3" fill="#ff0058"/><rect x="512" y="152" width="3" height="3" fill="#ff0056"/><rect x="515" y="152" width="3" height="3" fill="#ff0054"/><rect x="518" y="152" width="3" height="3" fill="#ff0052"/><rect x="521" y="152" width="3" height="3" fill="#ff0051"/><rect x="524" y="152" width="3" height="3" fill="#ff004f"/><rect x="527" y="152" width="3" height="3" fill="#ff004e"/><rect x="530" y="152" width="3" height="3" fill="#ff004c"/><rect x="533" y="152" width="3" height="3" fill="#ff004b"/><rect x="536" y="152" width="3" height="3" fill="#ff004a"/><rect x="539" y="152" width="3" height="3" fill="#ff0049"/><rect x="542" y="152" width="3" height="3" fill="#ff0047"/><rect x="545" y="152" width="3" height="3" fill="#ff0046"/><rect x="548" y="152" width="3" height="3" fill="#ff0045"/><rect x="551" y="152" width="3" height="3" fill="#ff0044"/><rect x="554" y="152" width="3" height="3" fill="#ff0043"/><rect x="557" y="152" width="3" height="3" fill="#ff0042"/><rect x="560" y="152" width="3" height="3" fill="#ff0041"/><rect x="563" y="152" width="3" height="3" fill="#ff0041"/><rect x="566" y="152" width="3" height="3" fill="#ff0040"/><rect x="569" y="152" width="3" height="3" fill="#ff003f"/><rect x="572" y="152" width="3" height="3" fill="#ff003e"/><rect x="575" y="152" width="3" height="3" fill="#ff003d"/><rect x="347" y="155" width="3" height="3" fill="#00d7ed"/><rect x="350" y="155" width="3" height="3" fill="#00d6ed"/><rect x="353" y="155" width="3" height="3" fill="#00d5ed"/><rect x="356" y="155" width="3" height="3" fill="#00d4ed"/><rect x="359" y="155" width="3" height="3" fill="#00d3ed"/><rect x="362" y="155" width="3" height="3" fill="#00d2ed"/><rect x="365" y="155" width="3" height="3" fill="#00d1ed"/><rect x="368" y="155" width="3" height="3" fill="#00d0ed"/><rect x="371" y="155" width="3" height="3" fill="#00cfed"/><rect x="374" y="155" width="3" height="3" fill="#00cded"/><rect x="377" y="155" width="3" height="3" fill="#00cced"/><rect x="380" y="155" width="3" height="3" fill="#00caed"/><rect x="383" y="155" width="3" height="3" fill="#00c8ed"/><rect x="386" y="155" width="3" height="3" fill="#00c6ed"/><rect x="389" y="155" width="3" height="3" fill="#00c4ed"/><rect x="392" y="155" width="3" height="3" fill="#00c1ed"/><rect x="395" y="155" width="3" height="3" fill="#00beed"/><rect x="398" y="155" width="3" height="3" fill="#00bbed"/><rect x="401" y="155" width="3" height="3" fill="#00b7ed"/><rect x="404" y="155" width="3" height="3" fill="#00b3ed"/><rect x="407" y="155" width="3" height="3" fill="#00aded"/><rect x="410" y="155" width="3" height="3" fill="#13b4ff"/><rect x="413" y="155" width="3" height="3" fill="#3bb3ff"/><rect x="416" y="155" width="3" height="3" fill="#56b1ff"/><rect x="419" y="155" width="3" height="3" fill="#6cafff"/><rect x="422" y="155" width="3" height="3" fill="#81adff"/><rect x="425" y="155" width="3" height="3" fill="#94abff"/><rect x="428" y="155" width="3" height="3" fill="#a6a9ff"/><rect x="431" y="155" width="3" height="3" fill="#b8a7ff"/><rect x="434" y="155" width="3" height="3" fill="#c9a5ff"/><rect x="437" y="155" width="3" height="3" fill="#daa2ff"/><rect x="440" y="155" width="3" height="3" fill="#ea9fff"/><rect x="443" y="155" width="3" height="3" fill="#fb9dff"/><rect x="446" y="155" width="3" height="3" fill="#ff92f3"/><rect x="449" y="155" width="3" height="3" fill="#ff87e4"/><rect x="452" y="155" width="3" height="3" fill="#ff7dd8"/><rect x="455" y="155" width="3" height="3" fill="#ff73cc"/><rect x="458" y="155" width="3" height="3" fill="#ff6ac2"/><rect x="461" y="155" width="3" height="3" fill="#ff62b8"/><rect x="464" y="155" width="3" height="3" fill="#ff5aaf"/><rect x="467" y="155" width="3" height="3" fill="#ff53a7"/><rect x="470" y="155" width="3" height="3" fill="#ff4c9f"/><rect x="473" y="155" width="3" height="3" fill="#ff4598"/><rect x="476" y="155" width="3" height="3" fill="#ff3f91"/><rect x="479" y="155" width="3" height="3" fill="#ff388b"/><rect x="482" y="155" width="3" height="3" fill="#ff3285"/><rect x="485" y="155" width="3" height="3" fill="#ff2b7f"/><rect x="488" y="155" width="3" height="3" fill="#ff247a"/><rect x="491" y="155" width="3" height="3" fill="#ff1d75"/><rect x="494" y="155" width="3" height="3" fill="#ff1570"/><rect x="497" y="155" width="3" height="3" fill="#ff0b6b"/><rect x="500" y="155" width="3" height="3" fill="#ff0067"/><rect x="503" y="155" width="3" height="3" fill="#ff0065"/><rect x="506" y="155" width="3" height="3" fill="#ff0062"/><rect x="509" y="155" width="3" height="3" fill="#ff0060"/><rect x="512" y="155" width="3" height="3" fill="#ff005e"/><rect x="515" y="155" width="3" height="3" fill="#ff005c"/><rect x="518" y="155" width="3" height="3" fill="#ff005a"/><rect x="521" y="155" width="3" height="3" fill="#ff0059"/><rect x="524" y="155" width="3" height="3" fill="#ff0057"/><rect x="527" y="155" width="3" height="3" fill="#ff0056"/><rect x="530" y="155" width="3" height="3" fill="#ff0054"/><rect x="533" y="155" width="3" height="3" fill="#ff0053"/><rect x="536" y="155" width="3" height="3" fill="#ff0051"/><rect x="539" y="155" width="3" height="3" fill="#ff0050"/><rect x="542" y="155" width="3" height="3" fill="#ff004f"/><rect x="545" y="155" width="3" height="3" fill="#ff004e"/><rect x="548" y="155" width="3" height="3" fill="#ff004d"/><rect x="551" y="155" width="3" height="3" fill="#ff004b"/><rect x="554" y="155" width="3" height="3" fill="#ff004a"/><rect x="557" y="155" width="3" height="3" fill="#ff0049"/><rect x="560" y="155" width="3" height="3" fill="#ff0048"/><rect x="563" y="155" width="3" height="3" fill="#ff0047"/><rect x="566" y="155" width="3" height="3" fill="#ff0047"/><rect x="569" y="155" width="3" height="3" fill="#ff0046"/><rect x="572" y="155" width="3" height="3" fill="#ff0045"/><rect x="575" y="155" width="3" height="3" fill="#ff0044"/><rect x="347" y="158" width="3" height="3" fill="#00d3ed"/><rect x="350" y="158" width="3" height="3" fill="#00d2ed"/><rect x="353" y="158" width="3" height="3" fill="#00d1ed"/><rect x="356" y="158" width="3" height="3" fill="#00d0ed"/><rect x="359" y="158" width="3" height="3" fill="#00cfed"/><rect x="362" y="158" width="3" height="3" fill="#00cded"/><rect x="365" y="158" width="3" height="3" fill="#00cced"/><rect x="368" y="158" width="3" height="3" fill="#00cbed"/><rect x="371" y="158" width="3" height="3" fill="#00c9ed"/><rect x="374" y="158" width="3" height="3" fill="#00c7ed"/><rect x="377" y="158" width="3" height="3" fill="#00c6ed"/><rect x="380" y="158" width="3" height="3" fill="#00c4ed"/><rect x="383" y="158" width="3" height="3" fill="#00c1ed"/><rect x="386" y="158" width="3" height="3" fill="#00bfed"/><rect x="389" y="158" width="3" height="3" fill="#00bced"/><rect x="392" y="158" width="3" height="3" fill="#00b9ed"/><rect x="395" y="158" width="3" height="3" fill="#00b5ed"/><rect x="398" y="158" width="3" height="3" fill="#00b1ed"/><rect x="401" y="158" width="3" height="3" fill="#00aded"/><rect x="404" y="158" width="3" height="3" fill="#00a7ed"/><rect x="407" y="158" width="3" height="3" fill="#00a1ed"/><rect x="410" y="158" width="3" height="3" fill="#25a8ff"/><rect x="413" y="158" width="3" height="3" fill="#44a6ff"/><rect x="416" y="158" width="3" height="3" fill="#5ca4ff"/><rect x="419" y="158" width="3" height="3" fill="#71a2ff"/><rect x="422" y="158" width="3" height="3" fill="#85a0ff"/><rect x="425" y="158" width="3" height="3" fill="#979dff"/><rect x="428" y="158" width="3" height="3" fill="#a89bff"/><rect x="431" y="158" width="3" height="3" fill="#b998ff"/><rect x="434" y="158" width="3" height="3" fill="#ca96ff"/><rect x="437" y="158" width="3" height="3" fill="#da93ff"/><rect x="440" y="158" width="3" height="3" fill="#ea90ff"/><rect x="443" y="158" width="3" height="3" fill="#fa8dff"/><rect x="446" y="158" width="3" height="3" fill="#ff83f4"/><rect x="449" y="158" width="3" height="3" fill="#ff79e6"/><rect x="452" y="158" width="3" height="3" fill="#ff6fda"/><rect x="455" y="158" width="3" height="3" fill="#ff66ce"/><rect x="458" y="158" width="3" height="3" fill="#ff5dc4"/><rect x="461" y="158" width="3" height="3" fill="#ff55bb"/><rect x="464" y="158" width="3" height="3" fill="#ff4db2"/><rect x="467" y="158" width="3" height="3" fill="#ff46aa"/><rect x="470" y="158" width="3" height="3" fill="#ff3fa2"/><rect x="473" y="158" width="3" height="3" fill="#ff389b"/><rect x="476" y="158" width="3" height="3" fill="#ff3194"/><rect x="479" y="158" width="3" height="3" fill="#ff2a8e"/><rect x="482" y="158" width="3" height="3" fill="#ff2388"/><rect x="485" y="158" width="3" height="3" fill="#ff1b82"/><rect x="488" y="158" width="3" height="3" fill="#ff127d"/><rect x="491" y="158" width="3" height="3" fill="#ff0378"/><rect x="494" y="158" width="3" height="3" fill="#ff0075"/><rect x="497" y="158" width="3" height="3" fill="#ff0072"/><rect x="500" y="158" width="3" height="3" fill="#ff006f"/><rect x="503" y="158" width="3" height="3" fill="#ff006d"/><rect x="506" y="158" width="3" height="3" fill="#ff006a"/><rect x="509" y="158" width="3" height="3" fill="#ff0068"/><rect x="512" y="158" width="3" height="3" fill="#ff0066"/><rect x="515" y="158" width="3" height="3" fill="#ff0064"/><rect x="518" y="158" width="3" height="3" fill="#ff0062"/><rect x="521" y="158" width="3" height="3" fill="#ff0060"/><rect x="524" y="158" width="3" height="3" fill="#ff005e"/><rect x="527" y="158" width="3" height="3" fill="#ff005d"/><rect x="530" y="158" width="3" height="3" fill="#ff005b"/><rect x="533" y="158" width="3" height="3" fill="#ff005a"/><rect x="536" y="158" width="3" height="3" fill="#ff0058"/><rect x="539" y="158" width="3" height="3" fill="#ff0057"/><rect x="542" y="158" width="3" height="3" fill="#ff0056"/><rect x="545" y="158" width="3" height="3" fill="#ff0054"/><rect x="548" y="158" width="3" height="3" fill="#ff0053"/><rect x="551" y="158" width="3" height="3" fill="#ff0052"/><rect x="554" y="158" width="3" height="3" fill="#ff0051"/><rect x="557" y="158" width="3" height="3" fill="#ff0050"/><rect x="560" y="158" width="3" height="3" fill="#ff004f"/><rect x="563" y="158" width="3" height="3" fill="#ff004e"/><rect x="566" y="158" width="3" height="3" fill="#ff004d"/><rect x="569" y="158" width="3" height="3" fill="#ff004c"/><rect x="572" y="158" width="3" height="3" fill="#ff004b"/><rect x="575" y="158" width="3" height="3" fill="#ff004a"/><rect x="347" y="161" width="3" height="3" fill="#00ceed"/><rect x="350" y="161" width="3" height="3" fill="#00cded"/><rect x="353" y="161" width="3" height="3" fill="#00cced"/><rect x="356" y="161" width="3" height="3" fill="#00cbed"/><rect x="359" y="161" width="3" height="3" fill="#00caed"/><rect x="362" y="161" width="3" height="3" fill="#00c8ed"/><rect x="365" y="161" width="3" height="3" fill="#00c7ed"/><rect x="368" y="161" width="3" height="3" fill="#00c5ed"/><rect x="371" y="161" width="3" height="3" fill="#00c3ed"/><rect x="374" y="161" width="3" height="3" fill="#00c1ed"/><rect x="377" y="161" width="3" height="3" fill="#00bfed"/><rect x="380" y="161" width="3" height="3" fill="#00bded"/><rect x="383" y="161" width="3" height="3" fill="#00baed"/><rect x="386" y="161" width="3" height="3" fill="#00b7ed"/><rect x="389" y="161" width="3" height="3" fill="#00b4ed"/><rect x="392" y="161" width="3" height="3" fill="#00b1ed"/><rect x="395" y="161" width="3" height="3" fill="#00aced"/><rect x="398" y="161" width="3" height="3" fill="#00a8ed"/><rect x="401" y="161" width="3" height="3" fill="#00a2ed"/><rect x="404" y="161" width="3" height="3" fill="#009bed"/><rect x="407" y="161" width="3" height="3" fill="#0093ed"/><rect x="410" y="161" width="3" height="3" fill="#319cff"/><rect x="413" y="161" width="3" height="3" fill="#4c9aff"/><rect x="416" y="161" width="3" height="3" fill="#6297ff"/><rect x="419" y="161" width="3" height="3" fill="#7695ff"/><rect x="422" y="161" width="3" height="3" fill="#8992ff"/><rect x="425" y="161" width="3" height="3" fill="#9a90ff"/><rect x="428" y="161" width="3" height="3" fill="#ab8dff"/><rect x="431" y="161" width="3" height="3" fill="#bb8aff"/><rect x="434" y="161" width="3" height="3" fill="#cb87ff"/><rect x="437" y="161" width="3" height="3" fill="#da84ff"/><rect x="440" y="161" width="3" height="3" fill="#ea80ff"/><rect x="443" y="161" width="3" height="3" fill="#f97dff"/><rect x="446" y="161" width="3" height="3" fill="#ff74f5"/><rect x="449" y="161" width="3" height="3" fill="#ff6ae8"/><rect x="452" y="161" width="3" height="3" fill="#ff60dc"/><rect x="455" y="161" width="3" height="3" fill="#ff57d1"/><rect x="458" y="161" width="3" height="3" fill="#ff4fc6"/><rect x="461" y="161" width="3" height="3" fill="#ff47bd"/><rect x="464" y="161" width="3" height="3" fill="#ff3fb4"/><rect x="467" y="161" width="3" height="3" fill="#ff38ac"/><rect x="470" y="161" width="3" height="3" fill="#ff30a5"/><rect x="473" y="161" width="3" height="3" fill="#ff299e"/><rect x="476" y="161" width="3" height="3" fill="#ff2197"/><rect x="479" y="161" width="3" height="3" fill="#ff1891"/><rect x="482" y="161" width="3" height="3" fill="#ff0d8b"/><rect x="485" y="161" width="3" height="3" fill="#ff0086"/><rect x="488" y="161" width="3" height="3" fill="#ff0083"/><rect x="491" y="161" width="3" height="3" fill="#ff007f"/><rect x="494" y="161" width="3" height="3" fill="#ff007c"/><rect x="497" y="161" width="3" height="3" fill="#ff0079"/><rect x="500" y="161" width="3" height="3" fill="#ff0076"/><rect x="503" y="161" width="3" height="3" fill="#ff0074"/><rect x="506" y="161" width="3" height="3" fill="#ff0071"/><rect x="509" y="161" width="3" height="3" fill="#ff006f"/><rect x="512" y="161" width="3" height="3" fill="#ff006d"/><rect x="515" y="161" width="3" height="3" fill="#ff006a"/><rect x="518" y="161" width="3" height="3" fill="#ff0069"/><rect x="521" y="161" width="3" height="3" fill="#ff0067"/><rect x="524" y="161" width="3" height="3" fill="#ff0065"/><rect x="527" y="161" width="3" height="3" fill="#ff0063"/><rect x="530" y="161" width="3" height="3" fill="#ff0061"/><rect x="533" y="161" width="3" height="3" fill="#ff0060"/><rect x="536" y="161" width="3" height="3" fill="#ff005e"/><rect x="539" y="161" width="3" height="3" fill="#ff005d"/><rect x="542" y="161" width="3" height="3" fill="#ff005c"/><rect x="545" y="161" width="3" height="3" fill="#ff005a"/><rect x="548" y="161" width="3" height="3" fill="#ff0059"/><rect x="551" y="161" width="3" height="3" fill="#ff0058"/><rect x="554" y="161" width="3" height="3" fill="#ff0057"/><rect x="557" y="161" width="3" height="3" fill="#ff0055"/><rect x="560" y="161" width="3" height="3" fill="#ff0054"/><rect x="563" y="161" width="3" height="3" fill="#ff0053"/><rect x="566" y="161" width="3" height="3" fill="#ff0052"/><rect x="569" y="161" width="3" height="3" fill="#ff0051"/><rect x="572" y="161" width="3" height="3" fill="#ff0050"/><rect x="575" y="161" width="3" height="3" fill="#ff004f"/><rect x="347" y="164" width="3" height="3" fill="#00caed"/><rect x="350" y="164" width="3" height="3" fill="#00c9ed"/><rect x="353" y="164" width="3" height="3" fill="#00c8ed"/><rect x="356" y="164" width="3" height="3" fill="#00c6ed"/><rect x="359" y="164" width="3" height="3" fill="#00c5ed"/><rect x="362" y="164" width="3" height="3" fill="#00c3ed"/><rect x="365" y="164" width="3" height="3" fill="#00c1ed"/><rect x="368" y="164" width="3" height="3" fill="#00c0ed"/><rect x="371" y="164" width="3" height="3" fill="#00beed"/><rect x="374" y="164" width="3" height="3" fill="#00bbed"/><rect x="377" y="164" width="3" height="3" fill="#00b9ed"/><rect x="380" y="164" width="3" height="3" fill="#00b6ed"/><rect x="383" y="164" width="3" height="3" fill="#00b3ed"/><rect x="386" y="164" width="3" height="3" fill="#00b0ed"/><rect x="389" y="164" width="3" height="3" fill="#00aced"/><rect x="392" y="164" width="3" height="3" fill="#00a8ed"/><rect x="395" y="164" width="3" height="3" fill="#00a3ed"/><rect x="398" y="164" width="3" height="3" fill="#009ded"/><rect x="401" y="164" width="3" height="3" fill="#0097ed"/><rect x="404" y="164" width="3" height="3" fill="#008fed"/><rect x="407" y="164" width="3" height="3" fill="#1992ff"/><rect x="410" y="164" width="3" height="3" fill="#3b90ff"/><rect x="413" y="164" width="3" height="3" fill="#538dff"/><rect x="416" y="164" width="3" height="3" fill="#688bff"/><rect x="419" y="164" width="3" height="3" fill="#7b88ff"/><rect x="422" y="164" width="3" height="3" fill="#8c85ff"/><rect x="425" y="164" width="3" height="3" fill="#9d82ff"/><rect x="428" y="164" width="3" height="3" fill="#ad7fff"/><rect x="431" y="164" width="3" height="3" fill="#bc7cff"/><rect x="434" y="164" width="3" height="3" fill="#cc78ff"/><rect x="437" y="164" width="3" height="3" fill="#db74ff"/><rect x="440" y="164" width="3" height="3" fill="#ea70ff"/><rect x="443" y="164" width="3" height="3" fill="#f96cff"/><rect x="446" y="164" width="3" height="3" fill="#ff64f7"/><rect x="449" y="164" width="3" height="3" fill="#ff5ae9"/><rect x="452" y="164" width="3" height="3" fill="#ff51dd"/><rect x="455" y="164" width="3" height="3" fill="#ff48d3"/><rect x="458" y="164" width="3" height="3" fill="#ff40c9"/><rect x="461" y="164" width="3" height="3" fill="#ff38bf"/><rect x="464" y="164" width="3" height="3" fill="#ff2fb7"/><rect x="467" y="164" width="3" height="3" fill="#ff27af"/><rect x="470" y="164" width="3" height="3" fill="#ff1ea8"/><rect x="473" y="164" width="3" height="3" fill="#ff14a1"/><rect x="476" y="164" width="3" height="3" fill="#ff049a"/><rect x="479" y="164" width="3" height="3" fill="#ff0095"/><rect x="482" y="164" width="3" height="3" fill="#ff0091"/><rect x="485" y="164" width="3" height="3" fill="#ff008d"/><rect x="488" y="164" width="3" height="3" fill="#ff0089"/><rect x="491" y="164" width="3" height="3" fill="#ff0086"/><rect x="494" y="164" width="3" height="3" fill="#ff0083"/><rect x="497" y="164" width="3" height="3" fill="#ff007f"/><rect x="500" y="164" width="3" height="3" fill="#ff007d"/><rect x="503" y="164" width="3" height="3" fill="#ff007a"/><rect x="506" y="164" width="3" height="3" fill="#ff0077"/><rect x="509" y="164" width="3" height="3" fill="#ff0075"/><rect x="512" y="164" width="3" height="3" fill="#ff0073"/><rect x="515" y="164" width="3" height="3" fill="#ff0071"/><rect x="518" y="164" width="3" height="3" fill="#ff006f"/><rect x="521" y="164" width="3" height="3" fill="#ff006d"/><rect x="524" y="164" width="3" height="3" fill="#ff006b"/><rect x="527" y="164" width="3" height="3" fill="#ff0069"/><rect x="530" y="164" width="3" height="3" fill="#ff0067"/><rect x="533" y="164" width="3" height="3" fill="#ff0066"/><rect x="536" y="164" width="3" height="3" fill="#ff0064"/><rect x="539" y="164" width="3" height="3" fill="#ff0063"/><rect x="542" y="164" width="3" height="3" fill="#ff0061"/><rect x="545" y="164" width="3" height="3" fill="#ff0060"/><rect x="548" y="164" width="3" height="3" fill="#ff005e"/><rect x="551" y="164" width="3" height="3" fill="#ff005d"/><rect x="554" y="164" width="3" height="3" fill="#ff005c"/><rect x="557" y="164" width="3" height="3" fill="#ff005b"/><rect x="560" y="164" width="3" height="3" fill="#ff005a"/><rect x="563" y="164" width="3" height="3" fill="#ff0059"/><rect x="566" y="164" width="3" height="3" fill="#ff0057"/><rect x="569" y="164" width="3" height="3" fill="#ff0056"/><rect x="572" y="164" width="3" height="3" fill="#ff0055"/><rect x="575" y="164" width="3" height="3" fill="#ff0054"/><rect x="347" y="167" width="3" height="3" fill="#00c6ed"/><rect x="350" y="167" width="3" height="3" fill="#00c5ed"/><rect x="353" y="167" width="3" height="3" fill="#00c3ed"/><rect x="356" y="167" width="3" height="3" fill="#00c2ed"/><rect x="359" y="167" width="3" height="3" fill="#00c0ed"/><rect x="362" y="167" width="3" height="3" fill="#00beed"/><rect x="365" y="167" width="3" height="3" fill="#00bced"/><rect x="368" y="167" width="3" height="3" fill="#00baed"/><rect x="371" y="167" width="3" height="3" fill="#00b8ed"/><rect x="374" y="167" width="3" height="3" fill="#00b5ed"/><rect x="377" y="167" width="3" height="3" fill="#00b2ed"/><rect x="380" y="167" width="3" height="3" fill="#00afed"/><rect x="383" y="167" width="3" height="3" fill="#00aced"/><rect x="386" y="167" width="3" height="3" fill="#00a8ed"/><rect x="389" y="167" width="3" height="3" fill="#00a4ed"/><rect x="392" y="167" width="3" height="3" fill="#009fed"/><rect x="395" y="167" width="3" height="3" fill="#0099ed"/><rect x="398" y="167" width="3" height="3" fill="#0093ed"/><rect x="401" y="167" width="3" height="3" fill="#008bed"/><rect x="404" y="167" width="3" height="3" fill="#0082ed"/><rect x="407" y="167" width="3" height="3" fill="#2886ff"/><rect x="410" y="167" width="3" height="3" fill="#4384ff"/><rect x="413" y="167" width="3" height="3" fill="#5981ff"/><rect x="416" y="167" width="3" height="3" fill="#6d7eff"/><rect x="419" y="167" width="3" height="3" fill="#7f7bff"/><rect x="422" y="167" width="3" height="3" fill="#8f78ff"/><rect x="425" y="167" width="3" height="3" fill="#9f75ff"/><rect x="428" y="167" width="3" height="3" fill="#af71ff"/><rect x="431" y="167" width="3" height="3" fill="#be6dff"/><rect x="434" y="167" width="3" height="3" fill="#cc69ff"/><rect x="437" y="167" width="3" height="3" fill="#db65ff"/><rect x="440" y="167" width="3" height="3" fill="#ea60ff"/><rect x="443" y="167" width="3" height="3" fill="#f85bff"/><rect x="446" y="167" width="3" height="3" fill="#ff53f8"/><rect x="449" y="167" width="3" height="3" fill="#ff4aeb"/><rect x="452" y="167" width="3" height="3" fill="#ff40df"/><rect x="455" y="167" width="3" height="3" fill="#ff37d4"/><rect x="458" y="167" width="3" height="3" fill="#ff2ecb"/><rect x="461" y="167" width="3" height="3" fill="#ff25c2"/><rect x="464" y="167" width="3" height="3" fill="#ff1bb9"/><rect x="467" y="167" width="3" height="3" fill="#ff0fb1"/><rect x="470" y="167" width="3" height="3" fill="#ff00ab"/><rect x="473" y="167" width="3" height="3" fill="#ff00a5"/><rect x="476" y="167" width="3" height="3" fill="#ff00a0"/><rect x="479" y="167" width="3" height="3" fill="#ff009b"/><rect x="482" y="167" width="3" height="3" fill="#ff0097"/><rect x="485" y="167" width="3" height="3" fill="#ff0093"/><rect x="488" y="167" width="3" height="3" fill="#ff008f"/><rect x="491" y="167" width="3" height="3" fill="#ff008c"/><rect x="494" y="167" width="3" height="3" fill="#ff0088"/><rect x="497" y="167" width="3" height="3" fill="#ff0085"/><rect x="500" y="167" width="3" height="3" fill="#ff0082"/><rect x="503" y="167" width="3" height="3" fill="#ff0080"/><rect x="506" y="167" width="3" height="3" fill="#ff007d"/><rect x="509" y="167" width="3" height="3" fill="#ff007b"/><rect x="512" y="167" width="3" height="3" fill="#ff0078"/><rect x="515" y="167" width="3" height="3" fill="#ff0076"/><rect x="518" y="167" width="3" height="3" fill="#ff0074"/><rect x="521" y="167" width="3" height="3" fill="#ff0072"/><rect x="524" y="167" width="3" height="3" fill="#ff0070"/><rect x="527" y="167" width="3" height="3" fill="#ff006e"/><rect x="530" y="167" width="3" height="3" fill="#ff006d"/><rect x="533" y="167" width="3" height="3" fill="#ff006b"/><rect x="536" y="167" width="3" height="3" fill="#ff0069"/><rect x="539" y="167" width="3" height="3" fill="#ff0068"/><rect x="542" y="167" width="3" height="3" fill="#ff0066"/><rect x="545" y="167" width="3" height="3" fill="#ff0065"/><rect x="548" y="167" width="3" height="3" fill="#ff0064"/><rect x="551" y="167" width="3" height="3" fill="#ff0062"/><rect x="554" y="167" width="3" height="3" fill="#ff0061"/><rect x="557" y="167" width="3" height="3" fill="#ff0060"/><rect x="560" y="167" width="3" height="3" fill="#ff005f"/><rect x="563" y="167" width="3" height="3" fill="#ff005d"/><rect x="566" y="167" width="3" height="3" fill="#ff005c"/><rect x="569" y="167" width="3" height="3" fill="#ff005b"/><rect x="572" y="167" width="3" height="3" fill="#ff005a"/><rect x="575" y="167" width="3" height="3" fill="#ff0059"/><rect x="347" y="170" width="3" height="3" fill="#00c2ed"/><rect x="350" y="170" width="3" height="3" fill="#00c0ed"/><rect x="353" y="170" width="3" height="3" fill="#00beed"/><rect x="356" y="170" width="3" height="3" fill="#00bded"/><rect x="359" y="170" width="3" height="3" fill="#00bbed"/><rect x="362" y="170" width="3" height="3" fill="#00b9ed"/><rect x="365" y="170" width="3" height="3" fill="#00b7ed"/><rect x="368" y="170" width="3" height="3" fill="#00b4ed"/><rect x="371" y="170" width="3" height="3" fill="#00b2ed"/><rect x="374" y="170" width="3" height="3" fill="#00afed"/><rect x="377" y="170" width="3" height="3" fill="#00aced"/><rect x="380" y="170" width="3" height="3" fill="#00a8ed"/><rect x="383" y="170" width="3" height="3" fill="#00a4ed"/><rect x="386" y="170" width="3" height="3" fill="#00a0ed"/><rect x="389" y="170" width="3" height="3" fill="#009bed"/><rect x="392" y="170" width="3" height="3" fill="#0096ed"/><rect x="395" y="170" width="3" height="3" fill="#008fed"/><rect x="398" y="170" width="3" height="3" fill="#0088ed"/><rect x="401" y="170" width="3" height="3" fill="#007fed"/><rect x="404" y="170" width="3" height="3" fill="#0b7dff"/><rect x="407" y="170" width="3" height="3" fill="#327bff"/><rect x="410" y="170" width="3" height="3" fill="#4b78ff"/><rect x="413" y="170" width="3" height="3" fill="#5f75ff"/><rect x="416" y="170" width="3" height="3" fill="#7171ff"/><rect x="419" y="170" width="3" height="3" fill="#826eff"/><rect x="422" y="170" width="3" height="3" fill="#926aff"/><rect x="425" y="170" width="3" height="3" fill="#a167ff"/><rect x="428" y="170" width="3" height="3" fill="#b062ff"/><rect x="431" y="170" width="3" height="3" fill="#bf5eff"/><rect x="434" y="170" width="3" height="3" fill="#cd59ff"/><rect x="437" y="170" width="3" height="3" fill="#db54ff"/><rect x="440" y="170" width="3" height="3" fill="#e94fff"/><rect x="443" y="170" width="3" height="3" fill="#f749ff"/><rect x="446" y="170" width="3" height="3" fill="#ff41f9"/><rect x="449" y="170" width="3" height="3" fill="#ff37ec"/><rect x="452" y="170" width="3" height="3" fill="#ff2de1"/><rect x="455" y="170" width="3" height="3" fill="#ff22d6"/><rect x="458" y="170" width="3" height="3" fill="#ff17cd"/><rect x="461" y="170" width="3" height="3" fill="#ff05c4"/><rect x="464" y="170" width="3" height="3" fill="#ff00bc"/><rect x="467" y="170" width="3" height="3" fill="#ff00b6"/><rect x="470" y="170" width="3" height="3" fill="#ff00b0"/><rect x="473" y="170" width="3" height="3" fill="#ff00aa"/><rect x="476" y="170" width="3" height="3" fill="#ff00a5"/><rect x="479" y="170" width="3" height="3" fill="#ff00a1"/><rect x="482" y="170" width="3" height="3" fill="#ff009c"/><rect x="485" y="170" width="3" height="3" fill="#ff0098"/><rect x="488" y="170" width="3" height="3" fill="#ff0095"/><rect x="491" y="170" width="3" height="3" fill="#ff0091"/><rect x="494" y="170" width="3" height="3" fill="#ff008e"/><rect x="497" y="170" width="3" height="3" fill="#ff008b"/><rect x="500" y="170" width="3" height="3" fill="#ff0088"/><rect x="503" y="170" width="3" height="3" fill="#ff0085"/><rect x="506" y="170" width="3" height="3" fill="#ff0082"/><rect x="509" y="170" width="3" height="3" fill="#ff0080"/><rect x="512" y="170" width="3" height="3" fill="#ff007e"/><rect x="515" y="170" width="3" height="3" fill="#ff007b"/><rect x="518" y="170" width="3" height="3" fill="#ff0079"/><rect x="521" y="170" width="3" height="3" fill="#ff0077"/><rect x="524" y="170" width="3" height="3" fill="#ff0075"/><rect x="527" y="170" width="3" height="3" fill="#ff0073"/><rect x="530" y="170" width="3" height="3" fill="#ff0072"/><rect x="533" y="170" width="3" height="3" fill="#ff0070"/><rect x="536" y="170" width="3" height="3" fill="#ff006e"/><rect x="539" y="170" width="3" height="3" fill="#ff006d"/><rect x="542" y="170" width="3" height="3" fill="#ff006b"/><rect x="545" y="170" width="3" height="3" fill="#ff006a"/><rect x="548" y="170" width="3" height="3" fill="#ff0068"/><rect x="551" y="170" width="3" height="3" fill="#ff0067"/><rect x="554" y="170" width="3" height="3" fill="#ff0066"/><rect x="557" y="170" width="3" height="3" fill="#ff0064"/><rect x="560" y="170" width="3" height="3" fill="#ff0063"/><rect x="563" y="170" width="3" height="3" fill="#ff0062"/><rect x="566" y="170" width="3" height="3" fill="#ff0061"/><rect x="569" y="170" width="3" height="3" fill="#ff0060"/><rect x="572" y="170" width="3" height="3" fill="#ff005f"/><rect x="575" y="170" width="3" height="3" fill="#ff005e"/><rect x="347" y="173" width="3" height="3" fill="#00bded"/><rect x="350" y="173" width="3" height="3" fill="#00bced"/><rect x="353" y="173" width="3" height="3" fill="#00baed"/><rect x="356" y="173" width="3" height="3" fill="#00b8ed"/><rect x="359" y="173" width="3" height="3" fill="#00b6ed"/><rect x="362" y="173" width="3" height="3" fill="#00b4ed"/><rect x="365" y="173" width="3" height="3" fill="#00b1ed"/><rect x="368" y="173" width="3" height="3" fill="#00aeed"/><rect x="371" y="173" width="3" height="3" fill="#00aced"/><rect x="374" y="173" width="3" height="3" fill="#00a8ed"/><rect x="377" y="173" width="3" height="3" fill="#00a5ed"/><rect x="380" y="173" width="3" height="3" fill="#00a1ed"/><rect x="383" y="173" width="3" height="3" fill="#009ded"/><rect x="386" y="173" width="3" height="3" fill="#0098ed"/><rect x="389" y="173" width="3" height="3" fill="#0092ed"/><rect x="392" y="173" width="3" height="3" fill="#008ced"/><rect x="395" y="173" width="3" height="3" fill="#0085ed"/><rect x="398" y="173" width="3" height="3" fill="#007ced"/><rect x="401" y="173" width="3" height="3" fill="#0072ed"/><rect x="404" y="173" width="3" height="3" fill="#1e72ff"/><rect x="407" y="173" width="3" height="3" fill="#3b6fff"/><rect x="410" y="173" width="3" height="3" fill="#516bff"/><rect x="413" y="173" width="3" height="3" fill="#6468ff"/><rect x="416" y="173" width="3" height="3" fill="#7564ff"/><rect x="419" y="173" width="3" height="3" fill="#8660ff"/><rect x="422" y="173" width="3" height="3" fill="#955cff"/><rect x="425" y="173" width="3" height="3" fill="#a458ff"/><rect x="428" y="173" width="3" height="3" fill="#b253ff"/><rect x="431" y="173" width="3" height="3" fill="#c04eff"/><rect x="434" y="173" width="3" height="3" fill="#ce49ff"/><rect x="437" y="173" width="3" height="3" fill="#dc43ff"/><rect x="440" y="173" width="3" height="3" fill="#e93cff"/><rect x="443" y="173" width="3" height="3" fill="#f735ff"/><rect x="446" y="173" width="3" height="3" fill="#ff2bfa"/><rect x="449" y="173" width="3" height="3" fill="#ff1fee"/><rect x="452" y="173" width="3" height="3" fill="#ff11e2"/><rect x="455" y="173" width="3" height="3" fill="#ff00d8"/><rect x="458" y="173" width="3" height="3" fill="#ff00d0"/><rect x="461" y="173" width="3" height="3" fill="#ff00c8"/><rect x="464" y="173" width="3" height="3" fill="#ff00c1"/><rect x="467" y="173" width="3" height="3" fill="#ff00ba"/><rect x="470" y="173" width="3" height="3" fill="#ff00b4"/><rect x="473" y="173" width="3" height="3" fill="#ff00af"/><rect x="476" y="173" width="3" height="3" fill="#ff00aa"/><rect x="479" y="173" width="3" height="3" fill="#ff00a5"/><rect x="482" y="173" width="3" height="3" fill="#ff00a1"/><rect x="485" y="173" width="3" height="3" fill="#ff009d"/><rect x="488" y="173" width="3" height="3" fill="#ff0099"/><rect x="491" y="173" width="3" height="3" fill="#ff0096"/><rect x="494" y="173" width="3" height="3" fill="#ff0093"/><rect x="497" y="173" width="3" height="3" fill="#ff0090"/><rect x="500" y="173" width="3" height="3" fill="#ff008d"/><rect x="503" y="173" width="3" height="3" fill="#ff008a"/><rect x="506" y="173" width="3" height="3" fill="#ff0087"/><rect x="509" y="173" width="3" height="3" fill="#ff0085"/><rect x="512" y="173" width="3" height="3" fill="#ff0082"/><rect x="515" y="173" width="3" height="3" fill="#ff0080"/><rect x="518" y="173" width="3" height="3" fill="#ff007e"/><rect x="521" y="173" width="3" height="3" fill="#ff007c"/><rect x="524" y="173" width="3" height="3" fill="#ff007a"/><rect x="527" y="173" width="3" height="3" fill="#ff0078"/><rect x="530" y="173" width="3" height="3" fill="#ff0076"/><rect x="533" y="173" width="3" height="3" fill="#ff0074"/><rect x="536" y="173" width="3" height="3" fill="#ff0073"/><rect x="539" y="173" width="3" height="3" fill="#ff0071"/><rect x="542" y="173" width="3" height="3" fill="#ff0070"/><rect x="545" y="173" width="3" height="3" fill="#ff006e"/><rect x="548" y="173" width="3" height="3" fill="#ff006d"/><rect x="551" y="173" width="3" height="3" fill="#ff006b"/><rect x="554" y="173" width="3" height="3" fill="#ff006a"/><rect x="557" y="173" width="3" height="3" fill="#ff0069"/><rect x="560" y="173" width="3" height="3" fill="#ff0067"/><rect x="563" y="173" width="3" height="3" fill="#ff0066"/><rect x="566" y="173" width="3" height="3" fill="#ff0065"/><rect x="569" y="173" width="3" height="3" fill="#ff0064"/><rect x="572" y="173" width="3" height="3" fill="#ff0063"/><rect x="575" y="173" width="3" height="3" fill="#ff0062"/><rect x="347" y="176" width="3" height="3" fill="#00b9ed"/><rect x="350" y="176" width="3" height="3" fill="#00b7ed"/><rect x="353" y="176" width="3" height="3" fill="#00b5ed"/><rect x="356" y="176" width="3" height="3" fill="#00b3ed"/><rect x="359" y="176" width="3" height="3" fill="#00b1ed"/><rect x="362" y="176" width="3" height="3" fill="#00aeed"/><rect x="365" y="176" width="3" height="3" fill="#00abed"/><rect x="368" y="176" width="3" height="3" fill="#00a9ed"/><rect x="371" y="176" width="3" height="3" fill="#00a5ed"/><rect x="374" y="176" width="3" height="3" fill="#00a2ed"/><rect x="377" y="176" width="3" height="3" fill="#009eed"/><rect x="380" y="176" width="3" height="3" fill="#009aed"/><rect x="383" y="176" width="3" height="3" fill="#0095ed"/><rect x="386" y="176" width="3" height="3" fill="#008fed"/><rect x="389" y="176" width="3" height="3" fill="#0089ed"/><rect x="392" y="176" width="3" height="3" fill="#0082ed"/><rect x="395" y="176" width="3" height="3" fill="#007aed"/><rect x="398" y="176" width="3" height="3" fill="#0070ed"/><rect x="401" y="176" width="3" height="3" fill="#0063ed"/><rect x="404" y="176" width="3" height="3" fill="#2a66ff"/><rect x="407" y="176" width="3" height="3" fill="#4362ff"/><rect x="410" y="176" width="3" height="3" fill="#575fff"/><rect x="413" y="176" width="3" height="3" fill="#695bff"/><rect x="416" y="176" width="3" height="3" fill="#7957ff"/><rect x="419" y="176" width="3" height="3" fill="#8952ff"/><rect x="422" y="176" width="3" height="3" fill="#974eff"/><rect x="425" y="176" width="3" height="3" fill="#a649ff"/><rect x="428" y="176" width="3" height="3" fill="#b443ff"/><rect x="431" y="176" width="3" height="3" fill="#c13dff"/><rect x="434" y="176" width="3" height="3" fill="#cf36ff"/><rect x="437" y="176" width="3" height="3" fill="#dc2eff"/><rect x="440" y="176" width="3" height="3" fill="#e925ff"/><rect x="443" y="176" width="3" height="3" fill="#f61aff"/><rect x="446" y="176" width="3" height="3" fill="#ff07fb"/><rect x="449" y="176" width="3" height="3" fill="#ff00ef"/><rect x="452" y="176" width="3" height="3" fill="#ff00e5"/><rect x="455" y="176" width="3" height="3" fill="#ff00db"/><rect x="458" y="176" width="3" height="3" fill="#ff00d3"/><rect x="461" y="176" width="3" height="3" fill="#ff00cb"/><rect x="464" y="176" width="3" height="3" fill="#ff00c5"/><rect x="467" y="176" width="3" height="3" fill="#ff00be"/><rect x="470" y="176" width="3" height="3" fill="#ff00b9"/><rect x="473" y="176" width="3" height="3" fill="#ff00b3"/><rect x="476" y="176" width="3" height="3" fill="#ff00ae"/><rect x="479" y="176" width="3" height="3" fill="#ff00aa"/><rect x="482" y="176" width="3" height="3" fill="#ff00a6"/><rect x="485" y="176" width="3" height="3" fill="#ff00a2"/><rect x="488" y="176" width="3" height="3" fill="#ff009e"/><rect x="491" y="176" width="3" height="3" fill="#ff009a"/><rect x="494" y="176" width="3" height="3" fill="#ff0097"/><rect x="497" y="176" width="3" height="3" fill="#ff0094"/><rect x="500" y="176" width="3" height="3" fill="#ff0091"/><rect x="503" y="176" width="3" height="3" fill="#ff008e"/><rect x="506" y="176" width="3" height="3" fill="#ff008c"/><rect x="509" y="176" width="3" height="3" fill="#ff0089"/><rect x="512" y="176" width="3" height="3" fill="#ff0087"/><rect x="515" y="176" width="3" height="3" fill="#ff0084"/><rect x="518" y="176" width="3" height="3" fill="#ff0082"/><rect x="521" y="176" width="3" height="3" fill="#ff0080"/><rect x="524" y="176" width="3" height="3" fill="#ff007e"/><rect x="527" y="176" width="3" height="3" fill="#ff007c"/><rect x="530" y="176" width="3" height="3" fill="#ff007a"/><rect x="533" y="176" width="3" height="3" fill="#ff0079"/><rect x="536" y="176" width="3" height="3" fill="#ff0077"/><rect x="539" y="176" width="3" height="3" fill="#ff0075"/><rect x="542" y="176" width="3" height="3" fill="#ff0074"/><rect x="545" y="176" width="3" height="3" fill="#ff0072"/><rect x="548" y="176" width="3" height="3" fill="#ff0071"/><rect x="551" y="176" width="3" height="3" fill="#ff006f"/><rect x="554" y="176" width="3" height="3" fill="#ff006e"/><rect x="557" y="176" width="3" height="3" fill="#ff006d"/><rect x="560" y="176" width="3" height="3" fill="#ff006b"/><rect x="563" y="176" width="3" height="3" fill="#ff006a"/><rect x="566" y="176" width="3" height="3" fill="#ff0069"/><rect x="569" y="176" width="3" height="3" fill="#ff0068"/><rect x="572" y="176" width="3" height="3" fill="#ff0067"/><rect x="575" y="176" width="3" height="3" fill="#ff0066"/><rect x="347" y="179" width="3" height="3" fill="#00b4ed"/><rect x="350" y="179" width="3" height="3" fill="#00b2ed"/><rect x="353" y="179" width="3" height="3" fill="#00b0ed"/><rect x="356" y="179" width="3" height="3" fill="#00aeed"/><rect x="359" y="179" width="3" height="3" fill="#00abed"/><rect x="362" y="179" width="3" height="3" fill="#00a9ed"/><rect x="365" y="179" width="3" height="3" fill="#00a6ed"/><rect x="368" y="179" width="3" height="3" fill="#00a2ed"/><rect x="371" y="179" width="3" height="3" fill="#009fed"/><rect x="374" y="179" width="3" height="3" fill="#009bed"/><rect x="377" y="179" width="3" height="3" fill="#0097ed"/><rect x="380" y="179" width="3" height="3" fill="#0092ed"/><rect x="383" y="179" width="3" height="3" fill="#008ded"/><rect x="386" y="179" width="3" height="3" fill="#0086ed"/><rect x="389" y="179" width="3" height="3" fill="#007fed"/><rect x="392" y="179" width="3" height="3" fill="#0077ed"/><rect x="395" y="179" width="3" height="3" fill="#006eed"/><rect x="398" y="179" width="3" height="3" fill="#0062ed"/><rect x="401" y="179" width="3" height="3" fill="#135dff"/><rect x="404" y="179" width="3" height="3" fill="#3359ff"/><rect x="407" y="179" width="3" height="3" fill="#4a56ff"/><rect x="410" y="179" width="3" height="3" fill="#5c51ff"/><rect x="413" y="179" width="3" height="3" fill="#6d4dff"/><rect x="416" y="179" width="3" height="3" fill="#7d48ff"/><rect x="419" y="179" width="3" height="3" fill="#8c43ff"/><rect x="422" y="179" width="3" height="3" fill="#9a3eff"/><rect x="425" y="179" width="3" height="3" fill="#a837ff"/><rect x="428" y="179" width="3" height="3" fill="#b530ff"/><rect x="431" y="179" width="3" height="3" fill="#c228ff"/><rect x="434" y="179" width="3" height="3" fill="#cf1fff"/><rect x="437" y="179" width="3" height="3" fill="#dc12ff"/><rect x="440" y="179" width="3" height="3" fill="#e900ff"/><rect x="443" y="179" width="3" height="3" fill="#f600ff"/><rect x="446" y="179" width="3" height="3" fill="#ff00fc"/><rect x="449" y="179" width="3" height="3" fill="#ff00f1"/><rect x="452" y="179" width="3" height="3" fill="#ff00e7"/><rect x="455" y="179" width="3" height="3" fill="#ff00de"/><rect x="458" y="179" width="3" height="3" fill="#ff00d6"/><rect x="461" y="179" width="3" height="3" fill="#ff00cf"/><rect x="464" y="179" width="3" height="3" fill="#ff00c8"/><rect x="467" y="179" width="3" height="3" fill="#ff00c2"/><rect x="470" y="179" width="3" height="3" fill="#ff00bc"/><rect x="473" y="179" width="3" height="3" fill="#ff00b7"/><rect x="476" y="179" width="3" height="3" fill="#ff00b2"/><rect x="479" y="179" width="3" height="3" fill="#ff00ae"/><rect x="482" y="179" width="3" height="3" fill="#ff00aa"/><rect x="485" y="179" width="3" height="3" fill="#ff00a6"/><rect x="488" y="179" width="3" height="3" fill="#ff00a2"/><rect x="491" y="179" width="3" height="3" fill="#ff009f"/><rect x="494" y="179" width="3" height="3" fill="#ff009b"/><rect x="497" y="179" width="3" height="3" fill="#ff0098"/><rect x="500" y="179" width="3" height="3" fill="#ff0095"/><rect x="503" y="179" width="3" height="3" fill="#ff0092"/><rect x="506" y="179" width="3" height="3" fill="#ff0090"/><rect x="509" y="179" width="3" height="3" fill="#ff008d"/><rect x="512" y="179" width="3" height="3" fill="#ff008b"/><rect x="515" y="179" width="3" height="3" fill="#ff0089"/><rect x="518" y="179" width="3" height="3" fill="#ff0086"/><rect x="521" y="179" width="3" height="3" fill="#ff0084"/><rect x="524" y="179" width="3" height="3" fill="#ff0082"/><rect x="527" y="179" width="3" height="3" fill="#ff0080"/><rect x="530" y="179" width="3" height="3" fill="#ff007e"/><rect x="533" y="179" width="3" height="3" fill="#ff007d"/><rect x="536" y="179" width="3" height="3" fill="#ff007b"/><rect x="539" y="179" width="3" height="3" fill="#ff0079"/><rect x="542" y="179" width="3" height="3" fill="#ff0078"/><rect x="545" y="179" width="3" height="3" fill="#ff0076"/><rect x="548" y="179" width="3" height="3" fill="#ff0075"/><rect x="551" y="179" width="3" height="3" fill="#ff0073"/><rect x="554" y="179" width="3" height="3" fill="#ff0072"/><rect x="557" y="179" width="3" height="3" fill="#ff0070"/><rect x="560" y="179" width="3" height="3" fill="#ff006f"/><rect x="563" y="179" width="3" height="3" fill="#ff006e"/><rect x="566" y="179" width="3" height="3" fill="#ff006d"/><rect x="569" y="179" width="3" height="3" fill="#ff006b"/><rect x="572" y="179" width="3" height="3" fill="#ff006a"/><rect x="575" y="179" width="3" height="3" fill="#ff0069"/><rect x="347" y="182" width="3" height="3" fill="#00b0ed"/><rect x="350" y="182" width="3" height="3" fill="#00aeed"/><rect x="353" y="182" width="3" height="3" fill="#00abed"/><rect x="356" y="182" width="3" height="3" fill="#00a9ed"/><rect x="359" y="182" width="3" height="3" fill="#00a6ed"/><rect x="362" y="182" width="3" height="3" fill="#00a3ed"/><rect x="365" y="182" width="3" height="3" fill="#00a0ed"/><rect x="368" y="182" width="3" height="3" fill="#009ced"/><rect x="371" y="182" width="3" height="3" fill="#0098ed"/><rect x="374" y="182" width="3" height="3" fill="#0094ed"/><rect x="377" y="182" width="3" height="3" fill="#008fed"/><rect x="380" y="182" width="3" height="3" fill="#008aed"/><rect x="383" y="182" width="3" height="3" fill="#0084ed"/><rect x="386" y="182" width="3" height="3" fill="#007ded"/><rect x="389" y="182" width="3" height="3" fill="#0075ed"/><rect x="392" y="182" width="3" height="3" fill="#006ced"/><rect x="395" y="182" width="3" height="3" fill="#0061ed"/><rect x="398" y="182" width="3" height="3" fill="#0054ed"/><rect x="401" y="182" width="3" height="3" fill="#2151ff"/><rect x="404" y="182" width="3" height="3" fill="#3b4dff"/><rect x="407" y="182" width="3" height="3" fill="#5048ff"/><rect x="410" y="182" width="3" height="3" fill="#6143ff"/><rect x="413" y="182" width="3" height="3" fill="#713eff"/><rect x="416" y="182" width="3" height="3" fill="#8038ff"/><rect x="419" y="182" width="3" height="3" fill="#8e32ff"/><rect x="422" y="182" width="3" height="3" fill="#9c2bff"/><rect x="425" y="182" width="3" height="3" fill="#a923ff"/><rect x="428" y="182" width="3" height="3" fill="#b618ff"/><rect x="431" y="182" width="3" height="3" fill="#c307ff"/><rect x="434" y="182" width="3" height="3" fill="#d000ff"/><rect x="437" y="182" width="3" height="3" fill="#dd00ff"/><rect x="440" y="182" width="3" height="3" fill="#ea00ff"/><rect x="443" y="182" width="3" height="3" fill="#f600ff"/><rect x="446" y="182" width="3" height="3" fill="#ff00fd"/><rect x="449" y="182" width="3" height="3" fill="#ff00f2"/><rect x="452" y="182" width="3" height="3" fill="#ff00e9"/><rect x="455" y="182" width="3" height="3" fill="#ff00e0"/><rect x="458" y="182" width="3" height="3" fill="#ff00d9"/><rect x="461" y="182" width="3" height="3" fill="#ff00d2"/><rect x="464" y="182" width="3" height="3" fill="#ff00cb"/><rect x="467" y="182" width="3" height="3" fill="#ff00c5"/><rect x="470" y="182" width="3" height="3" fill="#ff00c0"/><rect x="473" y="182" width="3" height="3" fill="#ff00bb"/><rect x="476" y="182" width="3" height="3" fill="#ff00b6"/><rect x="479" y="182" width="3" height="3" fill="#ff00b2"/><rect x="482" y="182" width="3" height="3" fill="#ff00ad"/><rect x="485" y="182" width="3" height="3" fill="#ff00aa"/><rect x="488" y="182" width="3" height="3" fill="#ff00a6"/><rect x="491" y="182" width="3" height="3" fill="#ff00a2"/><rect x="494" y="182" width="3" height="3" fill="#ff009f"/><rect x="497" y="182" width="3" height="3" fill="#ff009c"/><rect x="500" y="182" width="3" height="3" fill="#ff0099"/><rect x="503" y="182" width="3" height="3" fill="#ff0096"/><rect x="506" y="182" width="3" height="3" fill="#ff0094"/><rect x="509" y="182" width="3" height="3" fill="#ff0091"/><rect x="512" y="182" width="3" height="3" fill="#ff008f"/><rect x="515" y="182" width="3" height="3" fill="#ff008c"/><rect x="518" y="182" width="3" height="3" fill="#ff008a"/><rect x="521" y="182" width="3" height="3" fill="#ff0088"/><rect x="524" y="182" width="3" height="3" fill="#ff0086"/><rect x="527" y="182" width="3" height="3" fill="#ff0084"/><rect x="530" y="182" width="3" height="3" fill="#ff0082"/><rect x="533" y="182" width="3" height="3" fill="#ff0080"/><rect x="536" y="182" width="3" height="3" fill="#ff007f"/><rect x="539" y="182" width="3" height="3" fill="#ff007d"/><rect x="542" y="182" width="3" height="3" fill="#ff007b"/><rect x="545" y="182" width="3" height="3" fill="#ff007a"/><rect x="548" y="182" width="3" height="3" fill="#ff0078"/><rect x="551" y="182" width="3" height="3" fill="#ff0077"/><rect x="554" y="182" width="3" height="3" fill="#ff0075"/><rect x="557" y="182" width="3" height="3" fill="#ff0074"/><rect x="560" y="182" width="3" height="3" fill="#ff0073"/><rect x="563" y="182" width="3" height="3" fill="#ff0071"/><rect x="566" y="182" width="3" height="3" fill="#ff0070"/><rect x="569" y="182" width="3" height="3" fill="#ff006f"/><rect x="572" y="182" width="3" height="3" fill="#ff006e"/><rect x="575" y="182" width="3" height="3" fill="#ff006d"/><rect x="347" y="185" width="3" height="3" fill="#00abed"/><rect x="350" y="185" width="3" height="3" fill="#00a9ed"/><rect x="353" y="185" width="3" height="3" fill="#00a6ed"/><rect x="356" y="185" width="3" height="3" fill="#00a4ed"/><rect x="359" y="185" width="3" height="3" fill="#00a1ed"/><rect x="362" y="185" width="3" height="3" fill="#009ded"/><rect x="365" y="185" width="3" height="3" fill="#009aed"/><rect x="368" y="185" width="3" height="3" fill="#0096ed"/><rect x="371" y="185" width="3" height="3" fill="#0092ed"/><rect x="374" y="185" width="3" height="3" fill="#008ded"/><rect x="377" y="185" width="3" height="3" fill="#0088ed"/><rect x="380" y="185" width="3" height="3" fill="#0082ed"/><rect x="383" y="185" width="3" height="3" fill="#007bed"/><rect x="386" y="185" width="3" height="3" fill="#0074ed"/><rect x="389" y="185" width="3" height="3" fill="#006bed"/><rect x="392" y="185" width="3" height="3" fill="#0060ed"/><rect x="395" y="185" width="3" height="3" fill="#0053ed"/><rect x="398" y="185" width="3" height="3" fill="#0043ed"/><rect x="401" y="185" width="3" height="3" fill="#2c43ff"/><rect x="404" y="185" width="3" height="3" fill="#423fff"/><rect x="407" y="185" width="3" height="3" fill="#5539ff"/><rect x="410" y="185" width="3" height="3" fill="#6634ff"/><rect x="413" y="185" width="3" height="3" fill="#752dff"/><rect x="416" y="185" width="3" height="3" fill="#8326ff"/><rect x="419" y="185" width="3" height="3" fill="#911dff"/><rect x="422" y="185" width="3" height="3" fill="#9e11ff"/><rect x="425" y="185" width="3" height="3" fill="#ac00ff"/><rect x="428" y="185" width="3" height="3" fill="#b900ff"/><rect x="431" y="185" width="3" height="3" fill="#c600ff"/><rect x="434" y="185" width="3" height="3" fill="#d300ff"/><rect x="437" y="185" width="3" height="3" fill="#df00ff"/><rect x="440" y="185" width="3" height="3" fill="#ea00ff"/><rect x="443" y="185" width="3" height="3" fill="#f600ff"/><rect x="446" y="185" width="3" height="3" fill="#ff00fe"/><rect x="449" y="185" width="3" height="3" fill="#ff00f4"/><rect x="452" y="185" width="3" height="3" fill="#ff00eb"/><rect x="455" y="185" width="3" height="3" fill="#ff00e3"/><rect x="458" y="185" width="3" height="3" fill="#ff00db"/><rect x="461" y="185" width="3" height="3" fill="#ff00d4"/><rect x="464" y="185" width="3" height="3" fill="#ff00ce"/><rect x="467" y="185" width="3" height="3" fill="#ff00c8"/><rect x="470" y="185" width="3" height="3" fill="#ff00c3"/><rect x="473" y="185" width="3" height="3" fill="#ff00be"/><rect x="476" y="185" width="3" height="3" fill="#ff00b9"/><rect x="479" y="185" width="3" height="3" fill="#ff00b5"/><rect x="482" y="185" width="3" height="3" fill="#ff00b1"/><rect x="485" y="185" width="3" height="3" fill="#ff00ad"/><rect x="488" y="185" width="3" height="3" fill="#ff00a9"/><rect x="491" y="185" width="3" height="3" fill="#ff00a6"/><rect x="494" y="185" width="3" height="3" fill="#ff00a3"/><rect x="497" y="185" width="3" height="3" fill="#ff00a0"/><rect x="500" y="185" width="3" height="3" fill="#ff009d"/><rect x="503" y="185" width="3" height="3" fill="#ff009a"/><rect x="506" y="185" width="3" height="3" fill="#ff0097"/><rect x="509" y="185" width="3" height="3" fill="#ff0095"/><rect x="512" y="185" width="3" height="3" fill="#ff0092"/><rect x="515" y="185" width="3" height="3" fill="#ff0090"/><rect x="518" y="185" width="3" height="3" fill="#ff008e"/><rect x="521" y="185" width="3" height="3" fill="#ff008c"/><rect x="524" y="185" width="3" height="3" fill="#ff008a"/><rect x="527" y="185" width="3" height="3" fill="#ff0088"/><rect x="530" y="185" width="3" height="3" fill="#ff0086"/><rect x="533" y="185" width="3" height="3" fill="#ff0084"/><rect x="536" y="185" width="3" height="3" fill="#ff0082"/><rect x="539" y="185" width="3" height="3" fill="#ff0081"/><rect x="542" y="185" width="3" height="3" fill="#ff007f"/><rect x="545" y="185" width="3" height="3" fill="#ff007d"/><rect x="548" y="185" width="3" height="3" fill="#ff007c"/><rect x="551" y="185" width="3" height="3" fill="#ff007a"/><rect x="554" y="185" width="3" height="3" fill="#ff0079"/><rect x="557" y="185" width="3" height="3" fill="#ff0077"/><rect x="560" y="185" width="3" height="3" fill="#ff0076"/><rect x="563" y="185" width="3" height="3" fill="#ff0075"/><rect x="566" y="185" width="3" height="3" fill="#ff0074"/><rect x="569" y="185" width="3" height="3" fill="#ff0072"/><rect x="572" y="185" width="3" height="3" fill="#ff0071"/><rect x="575" y="185" width="3" height="3" fill="#ff0070"/><rect x="347" y="188" width="3" height="3" fill="#00a7ed"/><rect x="350" y="188" width="3" height="3" fill="#00a4ed"/><rect x="353" y="188" width="3" height="3" fill="#00a1ed"/><rect x="356" y="188" width="3" height="3" fill="#009eed"/><rect x="359" y="188" width="3" height="3" fill="#009bed"/><rect x="362" y="188" width="3" height="3" fill="#0098ed"/><rect x="365" y="188" width="3" height="3" fill="#0094ed"/><rect x="368" y="188" width="3" height="3" fill="#0090ed"/><rect x="371" y="188" width="3" height="3" fill="#008bed"/><rect x="374" y="188" width="3" height="3" fill="#0086ed"/><rect x="377" y="188" width="3" height="3" fill="#0080ed"/><rect x="380" y="188" width="3" height="3" fill="#0079ed"/><rect x="383" y="188" width="3" height="3" fill="#0072ed"/><rect x="386" y="188" width="3" height="3" fill="#006aed"/><rect x="389" y="188" width="3" height="3" fill="#005fed"/><rect x="392" y="188" width="3" height="3" fill="#0053ed"/><rect x="395" y="188" width="3" height="3" fill="#0044ed"/><rect x="398" y="188" width="3" height="3" fill="#183aff"/><rect x="401" y="188" width="3" height="3" fill="#3435ff"/><rect x="404" y="188" width="3" height="3" fill="#492fff"/><rect x="407" y="188" width="3" height="3" fill="#5a28ff"/><rect x="410" y="188" width="3" height="3" fill="#6a20ff"/><rect x="413" y="188" width="3" height="3" fill="#7817ff"/><rect x="416" y="188" width="3" height="3" fill="#8607ff"/><rect x="419" y="188" width="3" height="3" fill="#9500ff"/><rect x="422" y="188" width="3" height="3" fill="#a300ff"/><rect x="425" y="188" width="3" height="3" fill="#b100ff"/><rect x="428" y="188" width="3" height="3" fill="#bd00ff"/><rect x="431" y="188" width="3" height="3" fill="#c900ff"/><rect x="434" y="188" width="3" height="3" fill="#d500ff"/><rect x="437" y="188" width="3" height="3" fill="#e000ff"/><rect x="440" y="188" width="3" height="3" fill="#eb00ff"/><rect x="443" y="188" width="3" height="3" fill="#f500ff"/><rect x="446" y="188" width="3" height="3" fill="#ff00fe"/><rect x="449" y="188" width="3" height="3" fill="#ff00f5"/><rect x="452" y="188" width="3" height="3" fill="#ff00ec"/><rect x="455" y="188" width="3" height="3" fill="#ff00e5"/><rect x="458" y="188" width="3" height="3" fill="#ff00dd"/><rect x="461" y="188" width="3" height="3" fill="#ff00d7"/><rect x="464" y="188" width="3" height="3" fill="#ff00d1"/><rect x="467" y="188" width="3" height="3" fill="#ff00cb"/><rect x="470" y="188" width="3" height="3" fill="#ff00c6"/><rect x="473" y="188" width="3" height="3" fill="#ff00c1"/><rect x="476" y="188" width="3" height="3" fill="#ff00bc"/><rect x="479" y="188" width="3" height="3" fill="#ff00b8"/><rect x="482" y="188" width="3" height="3" fill="#ff00b4"/><rect x="485" y="188" width="3" height="3" fill="#ff00b0"/><rect x="488" y="188" width="3" height="3" fill="#ff00ad"/><rect x="491" y="188" width="3" height="3" fill="#ff00a9"/><rect x="494" y="188" width="3" height="3" fill="#ff00a6"/><rect x="497" y="188" width="3" height="3" fill="#ff00a3"/><rect x="500" y="188" width="3" height="3" fill="#ff00a0"/><rect x="503" y="188" width="3" height="3" fill="#ff009d"/><rect x="506" y="188" width="3" height="3" fill="#ff009b"/><rect x="509" y="188" width="3" height="3" fill="#ff0098"/><rect x="512" y="188" width="3" height="3" fill="#ff0096"/><rect x="515" y="188" width="3" height="3" fill="#ff0093"/><rect x="518" y="188" width="3" height="3" fill="#ff0091"/><rect x="521" y="188" width="3" height="3" fill="#ff008f"/><rect x="524" y="188" width="3" height="3" fill="#ff008d"/><rect x="527" y="188" width="3" height="3" fill="#ff008b"/><rect x="530" y="188" width="3" height="3" fill="#ff0089"/><rect x="533" y="188" width="3" height="3" fill="#ff0087"/><rect x="536" y="188" width="3" height="3" fill="#ff0086"/><rect x="539" y="188" width="3" height="3" fill="#ff0084"/><rect x="542" y="188" width="3" height="3" fill="#ff0082"/><rect x="545" y="188" width="3" height="3" fill="#ff0081"/><rect x="548" y="188" width="3" height="3" fill="#ff007f"/><rect x="551" y="188" width="3" height="3" fill="#ff007e"/><rect x="554" y="188" width="3" height="3" fill="#ff007c"/><rect x="557" y="188" width="3" height="3" fill="#ff007b"/><rect x="560" y="188" width="3" height="3" fill="#ff0079"/><rect x="563" y="188" width="3" height="3" fill="#ff0078"/><rect x="566" y="188" width="3" height="3" fill="#ff0077"/><rect x="569" y="188" width="3" height="3" fill="#ff0075"/><rect x="572" y="188" width="3" height="3" fill="#ff0074"/><rect x="575" y="188" width="3" height="3" fill="#ff0073"/><rect x="347" y="191" width="3" height="3" fill="#00a2ed"/><rect x="350" y="191" width="3" height="3" fill="#009fed"/><rect x="353" y="191" width="3" height="3" fill="#009ced"/><rect x="356" y="191" width="3" height="3" fill="#0099ed"/><rect x="359" y="191" width="3" height="3" fill="#0095ed"/><rect x="362" y="191" width="3" height="3" fill="#0092ed"/><rect x="365" y="191" width="3" height="3" fill="#008ded"/><rect x="368" y="191" width="3" height="3" fill="#0089ed"/><rect x="371" y="191" width="3" height="3" fill="#0084ed"/><rect x="374" y="191" width="3" height="3" fill="#007eed"/><rect x="377" y="191" width="3" height="3" fill="#0078ed"/><rect x="380" y="191" width="3" height="3" fill="#0071ed"/><rect x="383" y="191" width="3" height="3" fill="#0068ed"/><rect x="386" y="191" width="3" height="3" fill="#005fed"/><rect x="389" y="191" width="3" height="3" fill="#0053ed"/><rect x="392" y="191" width="3" height="3" fill="#0045ed"/><rect x="395" y="191" width="3" height="3" fill="#0032ed"/><rect x="398" y="191" width="3" height="3" fill="#242aff"/><rect x="401" y="191" width="3" height="3" fill="#3b23ff"/><rect x="404" y="191" width="3" height="3" fill="#4e1bff"/><rect x="407" y="191" width="3" height="3" fill="#5f10ff"/><rect x="410" y="191" width="3" height="3" fill="#6e00ff"/><rect x="413" y="191" width="3" height="3" fill="#7f00ff"/><rect x="416" y="191" width="3" height="3" fill="#8e00ff"/><rect x="419" y="191" width="3" height="3" fill="#9b00ff"/><rect x="422" y="191" width="3" height="3" fill="#a800ff"/><rect x="425" y="191" width="3" height="3" fill="#b500ff"/><rect x="428" y="191" width="3" height="3" fill="#c100ff"/><rect x="431" y="191" width="3" height="3" fill="#cc00ff"/><rect x="434" y="191" width="3" height="3" fill="#d700ff"/><rect x="437" y="191" width="3" height="3" fill="#e100ff"/><rect x="440" y="191" width="3" height="3" fill="#eb00ff"/><rect x="443" y="191" width="3" height="3" fill="#f500ff"/><rect x="446" y="191" width="3" height="3" fill="#ff00ff"/><rect x="449" y="191" width="3" height="3" fill="#ff00f6"/><rect x="452" y="191" width="3" height="3" fill="#ff00ee"/><rect x="455" y="191" width="3" height="3" fill="#ff00e6"/><rect x="458" y="191" width="3" height="3" fill="#ff00df"/><rect x="461" y="191" width="3" height="3" fill="#ff00d9"/><rect x="464" y="191" width="3" height="3" fill="#ff00d3"/><rect x="467" y="191" width="3" height="3" fill="#ff00ce"/><rect x="470" y="191" width="3" height="3" fill="#ff00c9"/><rect x="473" y="191" width="3" height="3" fill="#ff00c4"/><rect x="476" y="191" width="3" height="3" fill="#ff00bf"/><rect x="479" y="191" width="3" height="3" fill="#ff00bb"/><rect x="482" y="191" width="3" height="3" fill="#ff00b7"/><rect x="485" y="191" width="3" height="3" fill="#ff00b3"/><rect x="488" y="191" width="3" height="3" fill="#ff00b0"/><rect x="491" y="191" width="3" height="3" fill="#ff00ac"/><rect x="494" y="191" width="3" height="3" fill="#ff00a9"/><rect x="497" y="191" width="3" height="3" fill="#ff00a6"/><rect x="500" y="191" width="3" height="3" fill="#ff00a3"/><rect x="503" y="191" width="3" height="3" fill="#ff00a1"/><rect x="506" y="191" width="3" height="3" fill="#ff009e"/><rect x="509" y="191" width="3" height="3" fill="#ff009b"/><rect x="512" y="191" width="3" height="3" fill="#ff0099"/><rect x="515" y="191" width="3" height="3" fill="#ff0097"/><rect x="518" y="191" width="3" height="3" fill="#ff0094"/><rect x="521" y="191" width="3" height="3" fill="#ff0092"/><rect x="524" y="191" width="3" height="3" fill="#ff0090"/><rect x="527" y="191" width="3" height="3" fill="#ff008e"/><rect x="530" y="191" width="3" height="3" fill="#ff008c"/><rect x="533" y="191" width="3" height="3" fill="#ff008a"/><rect x="536" y="191" width="3" height="3" fill="#ff0089"/><rect x="539" y="191" width="3" height="3" fill="#ff0087"/><rect x="542" y="191" width="3" height="3" fill="#ff0085"/><rect x="545" y="191" width="3" height="3" fill="#ff0084"/><rect x="548" y="191" width="3" height="3" fill="#ff0082"/><rect x="551" y="191" width="3" height="3" fill="#ff0081"/><rect x="554" y="191" width="3" height="3" fill="#ff007f"/><rect x="557" y="191" width="3" height="3" fill="#ff007e"/><rect x="560" y="191" width="3" height="3" fill="#ff007c"/><rect x="563" y="191" width="3" height="3" fill="#ff007b"/><rect x="566" y="191" width="3" height="3" fill="#ff007a"/><rect x="569" y="191" width="3" height="3" fill="#ff0079"/><rect x="572" y="191" width="3" height="3" fill="#ff0077"/><rect x="575" y="191" width="3" height="3" fill="#ff0076"/><rect x="347" y="194" width="3" height="3" fill="#009ded"/><rect x="350" y="194" width="3" height="3" fill="#009aed"/><rect x="353" y="194" width="3" height="3" fill="#0097ed"/><rect x="356" y="194" width="3" height="3" fill="#0093ed"/><rect x="359" y="194" width="3" height="3" fill="#0090ed"/><rect x="362" y="194" width="3" height="3" fill="#008bed"/><rect x="365" y="194" width="3" height="3" fill="#0087ed"/><rect x="368" y="194" width="3" height="3" fill="#0082ed"/><rect x="371" y="194" width="3" height="3" fill="#007ced"/><rect x="374" y="194" width="3" height="3" fill="#0076ed"/><rect x="377" y="194" width="3" height="3" fill="#006fed"/><rect x="380" y="194" width="3" height="3" fill="#0067ed"/><rect x="383" y="194" width="3" height="3" fill="#005eed"/><rect x="386" y="194" width="3" height="3" fill="#0053ed"/><rect x="389" y="194" width="3" height="3" fill="#0046ed"/><rect x="392" y="194" width="3" height="3" fill="#0034ed"/><rect x="395" y="194" width="3" height="3" fill="#0c1eff"/><rect x="398" y="194" width="3" height="3" fill="#2d15ff"/><rect x="401" y="194" width="3" height="3" fill="#4207ff"/><rect x="404" y="194" width="3" height="3" fill="#5600ff"/><rect x="407" y="194" width="3" height="3" fill="#6800ff"/><rect x="410" y="194" width="3" height="3" fill="#7800ff"/><rect x="413" y="194" width="3" height="3" fill="#8700ff"/><rect x="416" y="194" width="3" height="3" fill="#9400ff"/><rect x="419" y="194" width="3" height="3" fill="#a100ff"/><rect x="422" y="194" width="3" height="3" fill="#ad00ff"/><rect x="425" y="194" width="3" height="3" fill="#b900ff"/><rect x="428" y="194" width="3" height="3" fill="#c400ff"/><rect x="431" y="194" width="3" height="3" fill="#ce00ff"/><rect x="434" y="194" width="3" height="3" fill="#d800ff"/><rect x="437" y="194" width="3" height="3" fill="#e200ff"/><rect x="440" y="194" width="3" height="3" fill="#ec00ff"/><rect x="443" y="194" width="3" height="3" fill="#f500ff"/><rect x="446" y="194" width="3" height="3" fill="#fe00ff"/><rect x="449" y="194" width="3" height="3" fill="#ff00f7"/><rect x="452" y="194" width="3" height="3" fill="#ff00ef"/><rect x="455" y="194" width="3" height="3" fill="#ff00e8"/><rect x="458" y="194" width="3" height="3" fill="#ff00e1"/><rect x="461" y="194" width="3" height="3" fill="#ff00db"/><rect x="464" y="194" width="3" height="3" fill="#ff00d5"/><rect x="467" y="194" width="3" height="3" fill="#ff00d0"/><rect x="470" y="194" width="3" height="3" fill="#ff00cb"/><rect x="473" y="194" width="3" height="3" fill="#ff00c6"/><rect x="476" y="194" width="3" height="3" fill="#ff00c2"/><rect x="479" y="194" width="3" height="3" fill="#ff00be"/><rect x="482" y="194" width="3" height="3" fill="#ff00ba"/><rect x="485" y="194" width="3" height="3" fill="#ff00b6"/><rect x="488" y="194" width="3" height="3" fill="#ff00b3"/><rect x="491" y="194" width="3" height="3" fill="#ff00af"/><rect x="494" y="194" width="3" height="3" fill="#ff00ac"/><rect x="497" y="194" width="3" height="3" fill="#ff00a9"/><rect x="500" y="194" width="3" height="3" fill="#ff00a6"/><rect x="503" y="194" width="3" height="3" fill="#ff00a4"/><rect x="506" y="194" width="3" height="3" fill="#ff00a1"/><rect x="509" y="194" width="3" height="3" fill="#ff009e"/><rect x="512" y="194" width="3" height="3" fill="#ff009c"/><rect x="515" y="194" width="3" height="3" fill="#ff009a"/><rect x="518" y="194" width="3" height="3" fill="#ff0097"/><rect x="521" y="194" width="3" height="3" fill="#ff0095"/><rect x="524" y="194" width="3" height="3" fill="#ff0093"/><rect x="527" y="194" width="3" height="3" fill="#ff0091"/><rect x="530" y="194" width="3" height="3" fill="#ff008f"/><rect x="533" y="194" width="3" height="3" fill="#ff008d"/><rect x="536" y="194" width="3" height="3" fill="#ff008c"/><rect x="539" y="194" width="3" height="3" fill="#ff008a"/><rect x="542" y="194" width="3" height="3" fill="#ff0088"/><rect x="545" y="194" width="3" height="3" fill="#ff0087"/><rect x="548" y="194" width="3" height="3" fill="#ff0085"/><rect x="551" y="194" width="3" height="3" fill="#ff0084"/><rect x="554" y="194" width="3" height="3" fill="#ff0082"/><rect x="557" y="194" width="3" height="3" fill="#ff0081"/><rect x="560" y="194" width="3" height="3" fill="#ff007f"/><rect x="563" y="194" width="3" height="3" fill="#ff007e"/><rect x="566" y="194" width="3" height="3" fill="#ff007d"/><rect x="569" y="194" width="3" height="3" fill="#ff007b"/><rect x="572" y="194" width="3" height="3" fill="#ff007a"/><rect x="575" y="194" width="3" height="3" fill="#ff0079"/><rect x="347" y="197" width="3" height="3" fill="#0098ed"/><rect x="350" y="197" width="3" height="3" fill="#0095ed"/><rect x="353" y="197" width="3" height="3" fill="#0091ed"/><rect x="356" y="197" width="3" height="3" fill="#008eed"/><rect x="359" y="197" width="3" height="3" fill="#008aed"/><rect x="362" y="197" width="3" height="3" fill="#0085ed"/><rect x="365" y="197" width="3" height="3" fill="#0080ed"/><rect x="368" y="197" width="3" height="3" fill="#007bed"/><rect x="371" y="197" width="3" height="3" fill="#0075ed"/><rect x="374" y="197" width="3" height="3" fill="#006eed"/><rect x="377" y="197" width="3" height="3" fill="#0066ed"/><rect x="380" y="197" width="3" height="3" fill="#005ded"/><rect x="383" y="197" width="3" height="3" fill="#0053ed"/><rect x="386" y="197" width="3" height="3" fill="#0046ed"/><rect x="389" y="197" width="3" height="3" fill="#0036ed"/><rect x="392" y="197" width="3" height="3" fill="#001eed"/><rect x="395" y="197" width="3" height="3" fill="#1e00ff"/><rect x="398" y="197" width="3" height="3" fill="#3b00ff"/><rect x="401" y="197" width="3" height="3" fill="#5000ff"/><rect x="404" y="197" width="3" height="3" fill="#6200ff"/><rect x="407" y="197" width="3" height="3" fill="#7200ff"/><rect x="410" y="197" width="3" height="3" fill="#8000ff"/><rect x="413" y="197" width="3" height="3" fill="#8e00ff"/><rect x="416" y="197" width="3" height="3" fill="#9a00ff"/><rect x="419" y="197" width="3" height="3" fill="#a600ff"/><rect x="422" y="197" width="3" height="3" fill="#b100ff"/><rect x="425" y="197" width="3" height="3" fill="#bc00ff"/><rect x="428" y="197" width="3" height="3" fill="#c600ff"/><rect x="431" y="197" width="3" height="3" fill="#d000ff"/><rect x="434" y="197" width="3" height="3" fill="#da00ff"/><rect x="437" y="197" width="3" height="3" fill="#e300ff"/><rect x="440" y="197" width="3" height="3" fill="#ec00ff"/><rect x="443" y="197" width="3" height="3" fill="#f500ff"/><rect x="446" y="197" width="3" height="3" fill="#fe00ff"/><rect x="449" y="197" width="3" height="3" fill="#ff00f8"/><rect x="452" y="197" width="3" height="3" fill="#ff00f0"/><rect x="455" y="197" width="3" height="3" fill="#ff00e9"/><rect x="458" y="197" width="3" height="3" fill="#ff00e3"/><rect x="461" y="197" width="3" height="3" fill="#ff00dd"/><rect x="464" y="197" width="3" height="3" fill="#ff00d7"/><rect x="467" y="197" width="3" height="3" fill="#ff00d2"/><rect x="470" y="197" width="3" height="3" fill="#ff00cd"/><rect x="473" y="197" width="3" height="3" fill="#ff00c9"/><rect x="476" y="197" width="3" height="3" fill="#ff00c4"/><rect x="479" y="197" width="3" height="3" fill="#ff00c0"/><rect x="482" y="197" width="3" height="3" fill="#ff00bc"/><rect x="485" y="197" width="3" height="3" fill="#ff00b9"/><rect x="488" y="197" width="3" height="3" fill="#ff00b5"/><rect x="491" y="197" width="3" height="3" fill="#ff00b2"/><rect x="494" y="197" width="3" height="3" fill="#ff00af"/><rect x="497" y="197" width="3" height="3" fill="#ff00ac"/><rect x="500" y="197" width="3" height="3" fill="#ff00a9"/><rect x="503" y="197" width="3" height="3" fill="#ff00a6"/><rect x="506" y="197" width="3" height="3" fill="#ff00a4"/><rect x="509" y="197" width="3" height="3" fill="#ff00a1"/><rect x="512" y="197" width="3" height="3" fill="#ff009f"/><rect x="515" y="197" width="3" height="3" fill="#ff009c"/><rect x="518" y="197" width="3" height="3" fill="#ff009a"/><rect x="521" y="197" width="3" height="3" fill="#ff0098"/><rect x="524" y="197" width="3" height="3" fill="#ff0096"/><rect x="527" y="197" width="3" height="3" fill="#ff0094"/><rect x="530" y="197" width="3" height="3" fill="#ff0092"/><rect x="533" y="197" width="3" height="3" fill="#ff0090"/><rect x="536" y="197" width="3" height="3" fill="#ff008f"/><rect x="539" y="197" width="3" height="3" fill="#ff008d"/><rect x="542" y="197" width="3" height="3" fill="#ff008b"/><rect x="545" y="197" width="3" height="3" fill="#ff008a"/><rect x="548" y="197" width="3" height="3" fill="#ff0088"/><rect x="551" y="197" width="3" height="3" fill="#ff0086"/><rect x="554" y="197" width="3" height="3" fill="#ff0085"/><rect x="557" y="197" width="3" height="3" fill="#ff0084"/><rect x="560" y="197" width="3" height="3" fill="#ff0082"/><rect x="563" y="197" width="3" height="3" fill="#ff0081"/><rect x="566" y="197" width="3" height="3" fill="#ff007f"/><rect x="569" y="197" width="3" height="3" fill="#ff007e"/><rect x="572" y="197" width="3" height="3" fill="#ff007d"/><rect x="575" y="197" width="3" height="3" fill="#ff007c"/><rect x="347" y="200" width="3" height="3" fill="#0093ed"/><rect x="350" y="200" width="3" height="3" fill="#0090ed"/><rect x="353" y="200" width="3" height="3" fill="#008ced"/><rect x="356" y="200" width="3" height="3" fill="#0088ed"/><rect x="359" y="200" width="3" height="3" fill="#0084ed"/><rect x="362" y="200" width="3" height="3" fill="#007fed"/><rect x="365" y="200" width="3" height="3" fill="#0079ed"/><rect x="368" y="200" width="3" height="3" fill="#0074ed"/><rect x="371" y="200" width="3" height="3" fill="#006ded"/><rect x="374" y="200" width="3" height="3" fill="#0065ed"/><rect x="377" y="200" width="3" height="3" fill="#005ded"/><rect x="380" y="200" width="3" height="3" fill="#0053ed"/><rect x="383" y="200" width="3" height="3" fill="#0047ed"/><rect x="386" y="200" width="3" height="3" fill="#0037ed"/><rect x="389" y="200" width="3" height="3" fill="#0022ed"/><rect x="392" y="200" width="3" height="3" fill="#1500ed"/><rect x="395" y="200" width="3" height="3" fill="#3500ff"/><rect x="398" y="200" width="3" height="3" fill="#4b00ff"/><rect x="401" y="200" width="3" height="3" fill="#5d00ff"/><rect x="404" y="200" width="3" height="3" fill="#6c00ff"/><rect x="407" y="200" width="3" height="3" fill="#7a00ff"/><rect x="410" y="200" width="3" height="3" fill="#8700ff"/><rect x="413" y="200" width="3" height="3" fill="#9400ff"/><rect x="416" y="200" width="3" height="3" fill="#9f00ff"/><rect x="419" y="200" width="3" height="3" fill="#aa00ff"/><rect x="422" y="200" width="3" height="3" fill="#b500ff"/><rect x="425" y="200" width="3" height="3" fill="#bf00ff"/><rect x="428" y="200" width="3" height="3" fill="#c900ff"/><rect x="431" y="200" width="3" height="3" fill="#d200ff"/><rect x="434" y="200" width="3" height="3" fill="#db00ff"/><rect x="437" y="200" width="3" height="3" fill="#e400ff"/><rect x="440" y="200" width="3" height="3" fill="#ed00ff"/><rect x="443" y="200" width="3" height="3" fill="#f500ff"/><rect x="446" y="200" width="3" height="3" fill="#fd00ff"/><rect x="449" y="200" width="3" height="3" fill="#ff00f9"/><rect x="452" y="200" width="3" height="3" fill="#ff00f1"/><rect x="455" y="200" width="3" height="3" fill="#ff00eb"/><rect x="458" y="200" width="3" height="3" fill="#ff00e4"/><rect x="461" y="200" width="3" height="3" fill="#ff00df"/><rect x="464" y="200" width="3" height="3" fill="#ff00d9"/><rect x="467" y="200" width="3" height="3" fill="#ff00d4"/><rect x="470" y="200" width="3" height="3" fill="#ff00cf"/><rect x="473" y="200" width="3" height="3" fill="#ff00cb"/><rect x="476" y="200" width="3" height="3" fill="#ff00c7"/><rect x="479" y="200" width="3" height="3" fill="#ff00c3"/><rect x="482" y="200" width="3" height="3" fill="#ff00bf"/><rect x="485" y="200" width="3" height="3" fill="#ff00bb"/><rect x="488" y="200" width="3" height="3" fill="#ff00b8"/><rect x="491" y="200" width="3" height="3" fill="#ff00b5"/><rect x="494" y="200" width="3" height="3" fill="#ff00b1"/><rect x="497" y="200" width="3" height="3" fill="#ff00af"/><rect x="500" y="200" width="3" height="3" fill="#ff00ac"/><rect x="503" y="200" width="3" height="3" fill="#ff00a9"/><rect x="506" y="200" width="3" height="3" fill="#ff00a6"/><rect x="509" y="200" width="3" height="3" fill="#ff00a4"/><rect x="512" y="200" width="3" height="3" fill="#ff00a1"/><rect x="515" y="200" width="3" height="3" fill="#ff009f"/><rect x="518" y="200" width="3" height="3" fill="#ff009d"/><rect x="521" y="200" width="3" height="3" fill="#ff009b"/><rect x="524" y="200" width="3" height="3" fill="#ff0099"/><rect x="527" y="200" width="3" height="3" fill="#ff0097"/><rect x="530" y="200" width="3" height="3" fill="#ff0095"/><rect x="533" y="200" width="3" height="3" fill="#ff0093"/><rect x="536" y="200" width="3" height="3" fill="#ff0091"/><rect x="539" y="200" width="3" height="3" fill="#ff0090"/><rect x="542" y="200" width="3" height="3" fill="#ff008e"/><rect x="545" y="200" width="3" height="3" fill="#ff008c"/><rect x="548" y="200" width="3" height="3" fill="#ff008b"/><rect x="551" y="200" width="3" height="3" fill="#ff0089"/><rect x="554" y="200" width="3" height="3" fill="#ff0088"/><rect x="557" y="200" width="3" height="3" fill="#ff0086"/><rect x="560" y="200" width="3" height="3" fill="#ff0085"/><rect x="563" y="200" width="3" height="3" fill="#ff0083"/><rect x="566" y="200" width="3" height="3" fill="#ff0082"/><rect x="569" y="200" width="3" height="3" fill="#ff0081"/><rect x="572" y="200" width="3" height="3" fill="#ff0080"/><rect x="575" y="200" width="3" height="3" fill="#ff007e"/><rect x="347" y="203" width="3" height="3" fill="#008eed"/><rect x="350" y="203" width="3" height="3" fill="#008aed"/><rect x="353" y="203" width="3" height="3" fill="#0086ed"/><rect x="356" y="203" width="3" height="3" fill="#0082ed"/><rect x="359" y="203" width="3" height="3" fill="#007ded"/><rect x="362" y="203" width="3" height="3" fill="#0078ed"/><rect x="365" y="203" width="3" height="3" fill="#0072ed"/><rect x="368" y="203" width="3" height="3" fill="#006ced"/><rect x="371" y="203" width="3" height="3" fill="#0065ed"/><rect x="374" y="203" width="3" height="3" fill="#005ced"/><rect x="377" y="203" width="3" height="3" fill="#0053ed"/><rect x="380" y="203" width="3" height="3" fill="#0047ed"/><rect x="383" y="203" width="3" height="3" fill="#0039ed"/><rect x="386" y="203" width="3" height="3" fill="#0025ed"/><rect x="389" y="203" width="3" height="3" fill="#0c00ed"/><rect x="392" y="203" width="3" height="3" fill="#3000ff"/><rect x="395" y="203" width="3" height="3" fill="#4600ff"/><rect x="398" y="203" width="3" height="3" fill="#5700ff"/><rect x="401" y="203" width="3" height="3" fill="#6700ff"/><rect x="404" y="203" width="3" height="3" fill="#7500ff"/><rect x="407" y="203" width="3" height="3" fill="#8200ff"/><rect x="410" y="203" width="3" height="3" fill="#8e00ff"/><rect x="413" y="203" width="3" height="3" fill="#9900ff"/><rect x="416" y="203" width="3" height="3" fill="#a400ff"/><rect x="419" y="203" width="3" height="3" fill="#ae00ff"/><rect x="422" y="203" width="3" height="3" fill="#b800ff"/><rect x="425" y="203" width="3" height="3" fill="#c200ff"/><rect x="428" y="203" width="3" height="3" fill="#cb00ff"/><rect x="431" y="203" width="3" height="3" fill="#d400ff"/><rect x="434" y="203" width="3" height="3" fill="#dc00ff"/><rect x="437" y="203" width="3" height="3" fill="#e500ff"/><rect x="440" y="203" width="3" height="3" fill="#ed00ff"/><rect x="443" y="203" width="3" height="3" fill="#f500ff"/><rect x="446" y="203" width="3" height="3" fill="#fd00ff"/><rect x="449" y="203" width="3" height="3" fill="#ff00f9"/><rect x="452" y="203" width="3" height="3" fill="#ff00f2"/><rect x="455" y="203" width="3" height="3" fill="#ff00ec"/><rect x="458" y="203" width="3" height="3" fill="#ff00e6"/><rect x="461" y="203" width="3" height="3" fill="#ff00e0"/><rect x="464" y="203" width="3" height="3" fill="#ff00db"/><rect x="467" y="203" width="3" height="3" fill="#ff00d6"/><rect x="470" y="203" width="3" height="3" fill="#ff00d1"/><rect x="473" y="203" width="3" height="3" fill="#ff00cd"/><rect x="476" y="203" width="3" height="3" fill="#ff00c9"/><rect x="479" y="203" width="3" height="3" fill="#ff00c5"/><rect x="482" y="203" width="3" height="3" fill="#ff00c1"/><rect x="485" y="203" width="3" height="3" fill="#ff00be"/><rect x="488" y="203" width="3" height="3" fill="#ff00ba"/><rect x="491" y="203" width="3" height="3" fill="#ff00b7"/><rect x="494" y="203" width="3" height="3" fill="#ff00b4"/><rect x="497" y="203" width="3" height="3" fill="#ff00b1"/><rect x="500" y="203" width="3" height="3" fill="#ff00ae"/><rect x="503" y="203" width="3" height="3" fill="#ff00ab"/><rect x="506" y="203" width="3" height="3" fill="#ff00a9"/><rect x="509" y="203" width="3" height="3" fill="#ff00a6"/><rect x="512" y="203" width="3" height="3" fill="#ff00a4"/><rect x="515" y="203" width="3" height="3" fill="#ff00a2"/><rect x="518" y="203" width="3" height="3" fill="#ff00a0"/><rect x="521" y="203" width="3" height="3" fill="#ff009d"/><rect x="524" y="203" width="3" height="3" fill="#ff009b"/><rect x="527" y="203" width="3" height="3" fill="#ff0099"/><rect x="530" y="203" width="3" height="3" fill="#ff0097"/><rect x="533" y="203" width="3" height="3" fill="#ff0096"/><rect x="536" y="203" width="3" height="3" fill="#ff0094"/><rect x="539" y="203" width="3" height="3" fill="#ff0092"/><rect x="542" y="203" width="3" height="3" fill="#ff0090"/><rect x="545" y="203" width="3" height="3" fill="#ff008f"/><rect x="548" y="203" width="3" height="3" fill="#ff008d"/><rect x="551" y="203" width="3" height="3" fill="#ff008c"/><rect x="554" y="203" width="3" height="3" fill="#ff008a"/><rect x="557" y="203" width="3" height="3" fill="#ff0089"/><rect x="560" y="203" width="3" height="3" fill="#ff0087"/><rect x="563" y="203" width="3" height="3" fill="#ff0086"/><rect x="566" y="203" width="3" height="3" fill="#ff0085"/><rect x="569" y="203" width="3" height="3" fill="#ff0083"/><rect x="572" y="203" width="3" height="3" fill="#ff0082"/><rect x="575" y="203" width="3" height="3" fill="#ff0081"/><rect x="347" y="206" width="3" height="3" fill="#0089ed"/><rect x="350" y="206" width="3" height="3" fill="#0085ed"/><rect x="353" y="206" width="3" height="3" fill="#0081ed"/><rect x="356" y="206" width="3" height="3" fill="#007ced"/><rect x="359" y="206" width="3" height="3" fill="#0077ed"/><rect x="362" y="206" width="3" height="3" fill="#0071ed"/><rect x="365" y="206" width="3" height="3" fill="#006bed"/><rect x="368" y="206" width="3" height="3" fill="#0064ed"/><rect x="371" y="206" width="3" height="3" fill="#005ced"/><rect x="374" y="206" width="3" height="3" fill="#0053ed"/><rect x="377" y="206" width="3" height="3" fill="#0048ed"/><rect x="380" y="206" width="3" height="3" fill="#003aed"/><rect x="383" y="206" width="3" height="3" fill="#0028ed"/><rect x="386" y="206" width="3" height="3" fill="#0006ed"/><rect x="389" y="206" width="3" height="3" fill="#2700ed"/><rect x="392" y="206" width="3" height="3" fill="#4000ff"/><rect x="395" y="206" width="3" height="3" fill="#5200ff"/><rect x="398" y="206" width="3" height="3" fill="#6200ff"/><rect x="401" y="206" width="3" height="3" fill="#6f00ff"/><rect x="404" y="206" width="3" height="3" fill="#7c00ff"/><rect x="407" y="206" width="3" height="3" fill="#8800ff"/><rect x="410" y="206" width="3" height="3" fill="#9300ff"/><rect x="413" y="206" width="3" height="3" fill="#9e00ff"/><rect x="416" y="206" width="3" height="3" fill="#a800ff"/><rect x="419" y="206" width="3" height="3" fill="#b200ff"/><rect x="422" y="206" width="3" height="3" fill="#bb00ff"/><rect x="425" y="206" width="3" height="3" fill="#c400ff"/><rect x="428" y="206" width="3" height="3" fill="#cd00ff"/><rect x="431" y="206" width="3" height="3" fill="#d500ff"/><rect x="434" y="206" width="3" height="3" fill="#dd00ff"/><rect x="437" y="206" width="3" height="3" fill="#e600ff"/><rect x="440" y="206" width="3" height="3" fill="#ed00ff"/><rect x="443" y="206" width="3" height="3" fill="#f500ff"/><rect x="446" y="206" width="3" height="3" fill="#fd00ff"/><rect x="449" y="206" width="3" height="3" fill="#ff00fa"/><rect x="452" y="206" width="3" height="3" fill="#ff00f3"/><rect x="455" y="206" width="3" height="3" fill="#ff00ed"/><rect x="458" y="206" width="3" height="3" fill="#ff00e7"/><rect x="461" y="206" width="3" height="3" fill="#ff00e2"/><rect x="464" y="206" width="3" height="3" fill="#ff00dd"/><rect x="467" y="206" width="3" height="3" fill="#ff00d8"/><rect x="470" y="206" width="3" height="3" fill="#ff00d3"/><rect x="473" y="206" width="3" height="3" fill="#ff00cf"/><rect x="476" y="206" width="3" height="3" fill="#ff00cb"/><rect x="479" y="206" width="3" height="3" fill="#ff00c7"/><rect x="482" y="206" width="3" height="3" fill="#ff00c3"/><rect x="485" y="206" width="3" height="3" fill="#ff00c0"/><rect x="488" y="206" width="3" height="3" fill="#ff00bc"/><rect x="491" y="206" width="3" height="3" fill="#ff00b9"/><rect x="494" y="206" width="3" height="3" fill="#ff00b6"/><rect x="497" y="206" width="3" height="3" fill="#ff00b3"/><rect x="500" y="206" width="3" height="3" fill="#ff00b1"/><rect x="503" y="206" width="3" height="3" fill="#ff00ae"/><rect x="506" y="206" width="3" height="3" fill="#ff00ab"/><rect x="509" y="206" width="3" height="3" fill="#ff00a9"/><rect x="512" y="206" width="3" height="3" fill="#ff00a6"/><rect x="515" y="206" width="3" height="3" fill="#ff00a4"/><rect x="518" y="206" width="3" height="3" fill="#ff00a2"/><rect x="521" y="206" width="3" height="3" fill="#ff00a0"/><rect x="524" y="206" width="3" height="3" fill="#ff009e"/><rect x="527" y="206" width="3" height="3" fill="#ff009c"/><rect x="530" y="206" width="3" height="3" fill="#ff009a"/><rect x="533" y="206" width="3" height="3" fill="#ff0098"/><rect x="536" y="206" width="3" height="3" fill="#ff0096"/><rect x="539" y="206" width="3" height="3" fill="#ff0095"/><rect x="542" y="206" width="3" height="3" fill="#ff0093"/><rect x="545" y="206" width="3" height="3" fill="#ff0091"/><rect x="548" y="206" width="3" height="3" fill="#ff0090"/><rect x="551" y="206" width="3" height="3" fill="#ff008e"/><rect x="554" y="206" width="3" height="3" fill="#ff008d"/><rect x="557" y="206" width="3" height="3" fill="#ff008b"/><rect x="560" y="206" width="3" height="3" fill="#ff008a"/><rect x="563" y="206" width="3" height="3" fill="#ff0088"/><rect x="566" y="206" width="3" height="3" fill="#ff0087"/><rect x="569" y="206" width="3" height="3" fill="#ff0086"/><rect x="572" y="206" width="3" height="3" fill="#ff0085"/><rect x="575" y="206" width="3" height="3" fill="#ff0083"/><rect x="347" y="209" width="3" height="3" fill="#0083ed"/><rect x="350" y="209" width="3" height="3" fill="#007fed"/><rect x="353" y="209" width="3" height="3" fill="#007bed"/><rect x="356" y="209" width="3" height="3" fill="#0076ed"/><rect x="359" y="209" width="3" height="3" fill="#0070ed"/><rect x="362" y="209" width="3" height="3" fill="#006aed"/><rect x="365" y="209" width="3" height="3" fill="#0063ed"/><rect x="368" y="209" width="3" height="3" fill="#005bed"/><rect x="371" y="209" width="3" height="3" fill="#0053ed"/><rect x="374" y="209" width="3" height="3" fill="#0048ed"/><rect x="377" y="209" width="3" height="3" fill="#003bed"/><rect x="380" y="209" width="3" height="3" fill="#002bed"/><rect x="383" y="209" width="3" height="3" fill="#0010ed"/><rect x="386" y="209" width="3" height="3" fill="#2200ed"/><rect x="389" y="209" width="3" height="3" fill="#3c00ff"/><rect x="392" y="209" width="3" height="3" fill="#4d00ff"/><rect x="395" y="209" width="3" height="3" fill="#5d00ff"/><rect x="398" y="209" width="3" height="3" fill="#6a00ff"/><rect x="401" y="209" width="3" height="3" fill="#7700ff"/><rect x="404" y="209" width="3" height="3" fill="#8300ff"/><rect x="407" y="209" width="3" height="3" fill="#8e00ff"/><rect x="410" y="209" width="3" height="3" fill="#9800ff"/><rect x="413" y="209" width="3" height="3" fill="#a200ff"/><rect x="416" y="209" width="3" height="3" fill="#ac00ff"/><rect x="419" y="209" width="3" height="3" fill="#b500ff"/><rect x="422" y="209" width="3" height="3" fill="#be00ff"/><rect x="425" y="209" width="3" height="3" fill="#c600ff"/><rect x="428" y="209" width="3" height="3" fill="#cf00ff"/><rect x="431" y="209" width="3" height="3" fill="#d700ff"/><rect x="434" y="209" width="3" height="3" fill="#de00ff"/><rect x="437" y="209" width="3" height="3" fill="#e600ff"/><rect x="440" y="209" width="3" height="3" fill="#ee00ff"/><rect x="443" y="209" width="3" height="3" fill="#f500ff"/><rect x="446" y="209" width="3" height="3" fill="#fc00ff"/><rect x="449" y="209" width="3" height="3" fill="#ff00fb"/><rect x="452" y="209" width="3" height="3" fill="#ff00f4"/><rect x="455" y="209" width="3" height="3" fill="#ff00ee"/><rect x="458" y="209" width="3" height="3" fill="#ff00e8"/><rect x="461" y="209" width="3" height="3" fill="#ff00e3"/><rect x="464" y="209" width="3" height="3" fill="#ff00de"/><rect x="467" y="209" width="3" height="3" fill="#ff00d9"/><rect x="470" y="209" width="3" height="3" fill="#ff00d5"/><rect x="473" y="209" width="3" height="3" fill="#ff00d1"/><rect x="476" y="209" width="3" height="3" fill="#ff00cd"/><rect x="479" y="209" width="3" height="3" fill="#ff00c9"/><rect x="482" y="209" width="3" height="3" fill="#ff00c5"/><rect x="485" y="209" width="3" height="3" fill="#ff00c2"/><rect x="488" y="209" width="3" height="3" fill="#ff00bf"/><rect x="491" y="209" width="3" height="3" fill="#ff00bb"/><rect x="494" y="209" width="3" height="3" fill="#ff00b8"/><rect x="497" y="209" width="3" height="3" fill="#ff00b6"/><rect x="500" y="209" width="3" height="3" fill="#ff00b3"/><rect x="503" y="209" width="3" height="3" fill="#ff00b0"/><rect x="506" y="209" width="3" height="3" fill="#ff00ae"/><rect x="509" y="209" width="3" height="3" fill="#ff00ab"/><rect x="512" y="209" width="3" height="3" fill="#ff00a9"/><rect x="515" y="209" width="3" height="3" fill="#ff00a7"/><rect x="518" y="209" width="3" height="3" fill="#ff00a4"/><rect x="521" y="209" width="3" height="3" fill="#ff00a2"/><rect x="524" y="209" width="3" height="3" fill="#ff00a0"/><rect x="527" y="209" width="3" height="3" fill="#ff009e"/><rect x="530" y="209" width="3" height="3" fill="#ff009c"/><rect x="533" y="209" width="3" height="3" fill="#ff009a"/><rect x="536" y="209" width="3" height="3" fill="#ff0099"/><rect x="539" y="209" width="3" height="3" fill="#ff0097"/><rect x="542" y="209" width="3" height="3" fill="#ff0095"/><rect x="545" y="209" width="3" height="3" fill="#ff0094"/><rect x="548" y="209" width="3" height="3" fill="#ff0092"/><rect x="551" y="209" width="3" height="3" fill="#ff0091"/><rect x="554" y="209" width="3" height="3" fill="#ff008f"/><rect x="557" y="209" width="3" height="3" fill="#ff008e"/><rect x="560" y="209" width="3" height="3" fill="#ff008c"/><rect x="563" y="209" width="3" height="3" fill="#ff008b"/><rect x="566" y="209" width="3" height="3" fill="#ff0089"/><rect x="569" y="209" width="3" height="3" fill="#ff0088"/><rect x="572" y="209" width="3" height="3" fill="#ff0087"/><rect x="575" y="209" width="3" height="3" fill="#ff0086"/><rect x="347" y="212" width="3" height="3" fill="#0081ed"/><rect x="350" y="212" width="3" height="3" fill="#007ded"/><rect x="353" y="212" width="3" height="3" fill="#0078ed"/><rect x="356" y="212" width="3" height="3" fill="#0073ed"/><rect x="359" y="212" width="3" height="3" fill="#006ded"/><rect x="362" y="212" width="3" height="3" fill="#0067ed"/><rect x="365" y="212" width="3" height="3" fill="#0060ed"/><rect x="368" y="212" width="3" height="3" fill="#0058ed"/><rect x="371" y="212" width="3" height="3" fill="#004eed"/><rect x="374" y="212" width="3" height="3" fill="#0043ed"/><rect x="377" y="212" width="3" height="3" fill="#0036ed"/><rect x="380" y="212" width="3" height="3" fill="#0023ed"/><rect x="383" y="212" width="3" height="3" fill="#0c00ed"/><rect x="386" y="212" width="3" height="3" fill="#2a00ed"/><rect x="389" y="212" width="3" height="3" fill="#4200ff"/><rect x="392" y="212" width="3" height="3" fill="#5200ff"/><rect x="395" y="212" width="3" height="3" fill="#6100ff"/><rect x="398" y="212" width="3" height="3" fill="#6e00ff"/><rect x="401" y="212" width="3" height="3" fill="#7a00ff"/><rect x="404" y="212" width="3" height="3" fill="#8500ff"/><rect x="407" y="212" width="3" height="3" fill="#9000ff"/><rect x="410" y="212" width="3" height="3" fill="#9a00ff"/><rect x="413" y="212" width="3" height="3" fill="#a400ff"/><rect x="416" y="212" width="3" height="3" fill="#ad00ff"/><rect x="419" y="212" width="3" height="3" fill="#b600ff"/><rect x="422" y="212" width="3" height="3" fill="#bf00ff"/><rect x="425" y="212" width="3" height="3" fill="#c700ff"/><rect x="428" y="212" width="3" height="3" fill="#cf00ff"/><rect x="431" y="212" width="3" height="3" fill="#d700ff"/><rect x="434" y="212" width="3" height="3" fill="#df00ff"/><rect x="437" y="212" width="3" height="3" fill="#e600ff"/><rect x="440" y="212" width="3" height="3" fill="#ee00ff"/><rect x="443" y="212" width="3" height="3" fill="#f500ff"/><rect x="446" y="212" width="3" height="3" fill="#fc00ff"/><rect x="449" y="212" width="3" height="3" fill="#ff00fb"/><rect x="452" y="212" width="3" height="3" fill="#ff00f5"/><rect x="455" y="212" width="3" height="3" fill="#ff00ef"/><rect x="458" y="212" width="3" height="3" fill="#ff00e9"/><rect x="461" y="212" width="3" height="3" fill="#ff00e4"/><rect x="464" y="212" width="3" height="3" fill="#ff00df"/><rect x="467" y="212" width="3" height="3" fill="#ff00da"/><rect x="470" y="212" width="3" height="3" fill="#ff00d6"/><rect x="473" y="212" width="3" height="3" fill="#ff00d1"/><rect x="476" y="212" width="3" height="3" fill="#ff00cd"/><rect x="479" y="212" width="3" height="3" fill="#ff00ca"/><rect x="482" y="212" width="3" height="3" fill="#ff00c6"/><rect x="485" y="212" width="3" height="3" fill="#ff00c3"/><rect x="488" y="212" width="3" height="3" fill="#ff00bf"/><rect x="491" y="212" width="3" height="3" fill="#ff00bc"/><rect x="494" y="212" width="3" height="3" fill="#ff00b9"/><rect x="497" y="212" width="3" height="3" fill="#ff00b6"/><rect x="500" y="212" width="3" height="3" fill="#ff00b4"/><rect x="503" y="212" width="3" height="3" fill="#ff00b1"/><rect x="506" y="212" width="3" height="3" fill="#ff00af"/><rect x="509" y="212" width="3" height="3" fill="#ff00ac"/><rect x="512" y="212" width="3" height="3" fill="#ff00aa"/><rect x="515" y="212" width="3" height="3" fill="#ff00a7"/><rect x="518" y="212" width="3" height="3" fill="#ff00a5"/><rect x="521" y="212" width="3" height="3" fill="#ff00a3"/><rect x="524" y="212" width="3" height="3" fill="#ff00a1"/><rect x="527" y="212" width="3" height="3" fill="#ff009f"/><rect x="530" y="212" width="3" height="3" fill="#ff009d"/><rect x="533" y="212" width="3" height="3" fill="#ff009b"/><rect x="536" y="212" width="3" height="3" fill="#ff009a"/><rect x="539" y="212" width="3" height="3" fill="#ff0098"/><rect x="542" y="212" width="3" height="3" fill="#ff0096"/><rect x="545" y="212" width="3" height="3" fill="#ff0095"/><rect x="548" y="212" width="3" height="3" fill="#ff0093"/><rect x="551" y="212" width="3" height="3" fill="#ff0091"/><rect x="554" y="212" width="3" height="3" fill="#ff0090"/><rect x="557" y="212" width="3" height="3" fill="#ff008f"/><rect x="560" y="212" width="3" height="3" fill="#ff008d"/><rect x="563" y="212" width="3" height="3" fill="#ff008c"/><rect x="566" y="212" width="3" height="3" fill="#ff008a"/><rect x="569" y="212" width="3" height="3" fill="#ff0089"/><rect x="572" y="212" width="3" height="3" fill="#ff0088"/><rect x="575" y="212" width="3" height="3" fill="#ff0087"/></g></g>
<path d="M402.17,210.90 C402.16,210.90 402.15,210.89 402.13,210.90 C402.12,210.90 402.09,210.92 402.07,210.92 C402.05,210.92 402.04,210.92 402.01,210.92 C401.99,210.92 401.95,210.94 401.92,210.94 C401.89,210.95 401.87,210.94 401.83,210.94 C401.80,210.94 401.76,210.94 401.71,210.94 C401.67,210.94 401.62,210.95 401.56,210.94 C401.50,210.93 401.44,210.91 401.35,210.88 C401.26,210.84 401.14,210.79 401.02,210.72 C400.89,210.65 400.76,210.58 400.59,210.48 C400.42,210.38 400.21,210.25 399.99,210.10 C399.76,209.96 399.52,209.79 399.23,209.60 C398.94,209.41 398.63,209.21 398.23,208.96 C397.84,208.71 397.38,208.42 396.87,208.10 C396.36,207.77 395.81,207.44 395.18,206.99 C394.54,206.55 393.84,206.08 393.06,205.45 C392.28,204.82 391.49,204.23 390.49,203.20 C389.49,202.17 388.35,200.98 387.04,199.26 C385.73,197.53 384.31,195.61 382.65,192.86 C381.00,190.11 379.18,186.93 377.12,182.74 C375.06,178.55 372.60,173.71 370.28,167.75 C367.97,161.78 365.51,154.74 363.23,146.95 C360.95,139.16 358.48,129.94 356.61,121.00 C354.73,112.05 352.97,102.18 351.98,93.28 C350.99,84.39 350.39,75.40 350.68,67.62 C350.97,59.83 351.94,52.36 353.70,46.58 C355.47,40.80 358.22,36.03 361.27,32.95 C364.31,29.88 368.18,28.67 371.98,28.15 C375.77,27.63 379.99,28.80 384.05,29.82 C388.10,30.85 392.33,32.66 396.30,34.30 C400.26,35.94 404.08,37.76 407.85,39.66 C411.63,41.55 415.28,43.57 418.95,45.68 C422.63,47.78 426.27,50.01 429.90,52.29 C433.53,54.57 437.13,56.94 440.73,59.35 C444.34,61.75 447.93,64.22 451.53,66.71 C455.14,69.20 458.76,71.75 462.36,74.30 C465.96,76.84 469.55,79.43 473.13,81.99 C476.71,84.56 480.31,87.14 483.84,89.69 C487.37,92.24 490.89,94.79 494.34,97.30 C497.79,99.80 501.20,102.29 504.53,104.70 C507.86,107.12 511.14,109.51 514.30,111.80 C517.46,114.10 520.57,116.34 523.50,118.46 C526.43,120.59 529.27,122.67 531.88,124.57 C534.49,126.47 536.88,128.21 539.17,129.86 C541.45,131.52 543.62,133.10 545.58,134.52 C547.54,135.93 549.30,137.19 550.90,138.35 C552.51,139.52 553.93,140.56 555.23,141.51 C556.53,142.45 557.65,143.27 558.68,144.02 C559.71,144.77 560.60,145.41 561.43,146.00 C562.26,146.60 562.96,147.12 563.64,147.61 C564.32,148.11 564.93,148.55 565.49,148.96 C566.04,149.37 566.54,149.73 567.00,150.06 C567.45,150.39 567.85,150.67 568.21,150.92 C568.56,151.18 568.76,151.33 569.12,151.58 C569.47,151.84 570.02,152.24 570.33,152.47 C570.63,152.69 570.76,152.78 570.93,152.91 C571.10,153.03 571.22,153.12 571.35,153.21 C571.49,153.31 571.68,153.45 571.75,153.50 Z" fill="none" stroke="#4848ff" stroke-width="0.9"/>
<line x1="370.8" y1="24.6" x2="371.7" y2="28.2" stroke="#888" stroke-width="0.8"/><text x="364.3" y="21.8" class="wl">520</text><line x1="422.5" y1="43.0" x2="419.5" y2="46.3" stroke="#888" stroke-width="0.8"/><text x="422.2" y="41.0" class="wl">540</text><line x1="466.5" y1="71.4" x2="462.9" y2="74.5" stroke="#888" stroke-width="0.8"/><text x="466.5" y="70.8" class="wl">560</text><line x1="508.4" y1="102.0" x2="505.3" y2="104.5" stroke="#888" stroke-width="0.8"/><text x="509.0" y="101.0" class="wl">580</text><line x1="543.5" y1="127.0" x2="539.9" y2="129.8" stroke="#888" stroke-width="0.8"/><text x="543.0" y="125.8" class="wl">600</text><line x1="562.6" y1="139.0" x2="559.7" y2="143.3" stroke="#888" stroke-width="0.8"/><text x="562.9" y="139.9" class="wl">620</text><line x1="345.8" y1="94.2" x2="351.3" y2="94.2" stroke="#888" stroke-width="0.8"/><text x="332.9" y="97.2" class="wl">500</text><line x1="371.0" y1="184.6" x2="377.0" y2="182.8" stroke="#888" stroke-width="0.8"/><text x="358.2" y="188.8" class="wl">480</text><line x1="388.7" y1="206.5" x2="392.9" y2="205.0" stroke="#888" stroke-width="0.8"/><text x="377.0" y="210.3" class="wl">460</text>
<circle cx="488" cy="120.7" r="3" fill="#38a0a0"/><path d="M485.5,122.3 A3,3 0 0,0 490.5,122.3 Z" fill="#f06030"/>
<rect x="0" y="245.6" width="602" height="1.4" fill="#f7f7f7"/>
<rect x="349.5" y="14.3" width="242" height="197.7" fill="none" stroke="#000" stroke-width="1.5"/>
<g stroke="#000" stroke-width="1">
<line x1="410.1" y1="212" x2="410.1" y2="208.5"/><line x1="470.7" y1="212" x2="470.7" y2="208.5"/>
<line x1="531.3" y1="212" x2="531.3" y2="208.5"/>
<line x1="349.5" y1="167.9" x2="353" y2="167.9"/><line x1="349.5" y1="123.8" x2="353" y2="123.8"/>
<line x1="349.5" y1="79.7" x2="353" y2="79.7"/><line x1="349.5" y1="35.6" x2="353" y2="35.6"/>
</g>
<text x="349.5" y="225" class="tk" text-anchor="middle" textLength="13.2" lengthAdjust="spacingAndGlyphs">0.0</text>
<text x="410.1" y="225" class="tk" text-anchor="middle" textLength="13.2" lengthAdjust="spacingAndGlyphs">0.2</text>
<text x="470.7" y="225" class="tk" text-anchor="middle" textLength="13.2" lengthAdjust="spacingAndGlyphs">0.4</text>
<text x="531.3" y="225" class="tk" text-anchor="middle" textLength="13.2" lengthAdjust="spacingAndGlyphs">0.6</text>
<text x="591.5" y="225" class="tk" text-anchor="middle" textLength="13.2" lengthAdjust="spacingAndGlyphs">0.8</text>
<text x="345.3" y="216" class="tk" text-anchor="end" textLength="13.2" lengthAdjust="spacingAndGlyphs">0.0</text>
<text x="345.3" y="171.9" class="tk" text-anchor="end" textLength="13.2" lengthAdjust="spacingAndGlyphs">0.2</text>
<text x="345.3" y="127.8" class="tk" text-anchor="end" textLength="13.2" lengthAdjust="spacingAndGlyphs">0.4</text>
<text x="345.3" y="83.7" class="tk" text-anchor="end" textLength="13.2" lengthAdjust="spacingAndGlyphs">0.6</text>
<text x="345.3" y="39.6" class="tk" text-anchor="end" textLength="13.2" lengthAdjust="spacingAndGlyphs">0.8</text>
<text x="470.4" y="237.8" class="ax" text-anchor="middle" style="font-size:11px" textLength="94" lengthAdjust="spacingAndGlyphs">X color coordination</text>
<text transform="translate(322.5,125.5) rotate(-90)" class="ax" text-anchor="middle" style="font-size:11.6px">Y color coordination</text>
<text x="471" y="27" class="ttl" style="font-size:10px" textLength="118.5" lengthAdjust="spacingAndGlyphs">365nm-CCT=3406K CRI=81.9</text>
</svg>
</body></html>
